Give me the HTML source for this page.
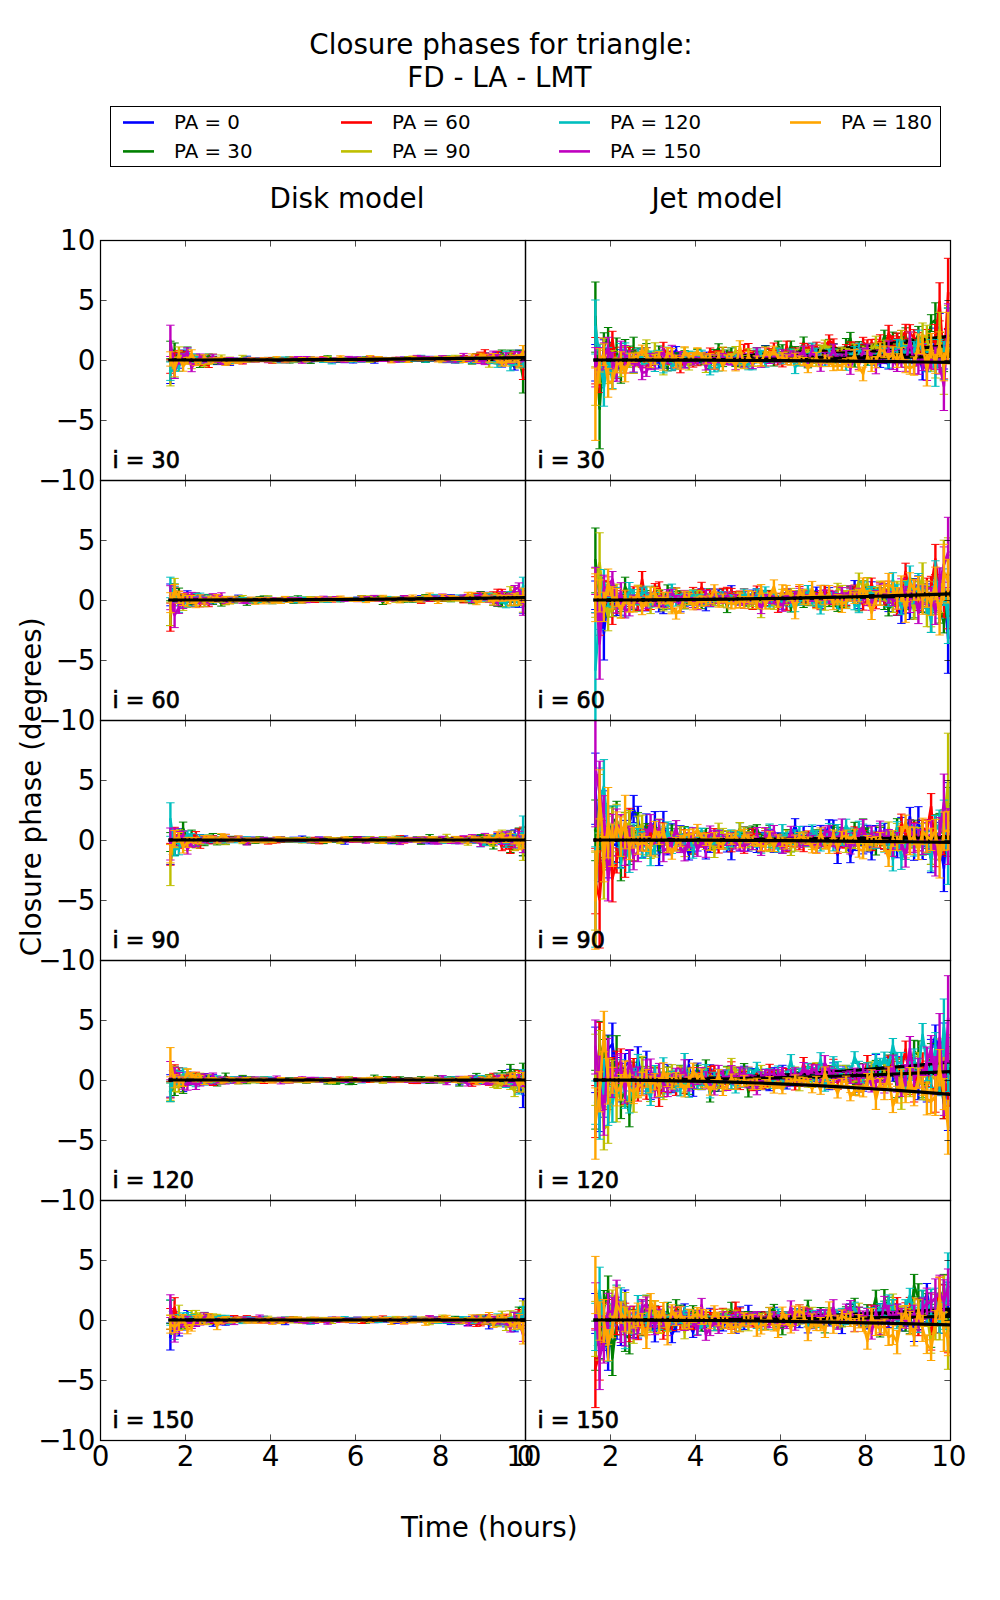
<!DOCTYPE html><html><head><meta charset="utf-8"><title>Closure phases</title><style>html,body{margin:0;padding:0;background:#fff;overflow:hidden}svg{display:block}</style></head><body>
<svg width="1000" height="1600" viewBox="0 0 1000 1600">
<rect width="1000" height="1600" fill="#fff"/>
<defs>
<marker id="c0" markerUnits="userSpaceOnUse" markerWidth="12" markerHeight="4" refX="6" refY="2" orient="0" overflow="visible"><path d="M1.8 2H10.2" stroke="#0000ff" stroke-width="1"/></marker>
<marker id="c1" markerUnits="userSpaceOnUse" markerWidth="12" markerHeight="4" refX="6" refY="2" orient="0" overflow="visible"><path d="M1.8 2H10.2" stroke="#008000" stroke-width="1"/></marker>
<marker id="c2" markerUnits="userSpaceOnUse" markerWidth="12" markerHeight="4" refX="6" refY="2" orient="0" overflow="visible"><path d="M1.8 2H10.2" stroke="#ff0000" stroke-width="1"/></marker>
<marker id="c3" markerUnits="userSpaceOnUse" markerWidth="12" markerHeight="4" refX="6" refY="2" orient="0" overflow="visible"><path d="M1.8 2H10.2" stroke="#bfbf00" stroke-width="1"/></marker>
<marker id="c4" markerUnits="userSpaceOnUse" markerWidth="12" markerHeight="4" refX="6" refY="2" orient="0" overflow="visible"><path d="M1.8 2H10.2" stroke="#00bfbf" stroke-width="1"/></marker>
<marker id="c5" markerUnits="userSpaceOnUse" markerWidth="12" markerHeight="4" refX="6" refY="2" orient="0" overflow="visible"><path d="M1.8 2H10.2" stroke="#bf00bf" stroke-width="1"/></marker>
<marker id="c6" markerUnits="userSpaceOnUse" markerWidth="12" markerHeight="4" refX="6" refY="2" orient="0" overflow="visible"><path d="M1.8 2H10.2" stroke="#ffa500" stroke-width="1"/></marker>
<clipPath id="k00"><rect x="100" y="240" width="425" height="240"/></clipPath>
<clipPath id="k01"><rect x="525" y="240" width="425" height="240"/></clipPath>
<clipPath id="k10"><rect x="100" y="480" width="425" height="240"/></clipPath>
<clipPath id="k11"><rect x="525" y="480" width="425" height="240"/></clipPath>
<clipPath id="k20"><rect x="100" y="720" width="425" height="240"/></clipPath>
<clipPath id="k21"><rect x="525" y="720" width="425" height="240"/></clipPath>
<clipPath id="k30"><rect x="100" y="960" width="425" height="240"/></clipPath>
<clipPath id="k31"><rect x="525" y="960" width="425" height="240"/></clipPath>
<clipPath id="k40"><rect x="100" y="1200" width="425" height="240"/></clipPath>
<clipPath id="k41"><rect x="525" y="1200" width="425" height="240"/></clipPath>
</defs>
<g clip-path="url(#k00)"><path d="M170.4 372.3l4.2-12.2 4.3 2.3 4.2-7.9 4.3 3 4.2 2.6 4.3-2.7 4.2 3.5 4.3-3.5 4.2 2.6 4.3-1.4 4.2 4 4.3-3.2 4.2 3.5 4.3 0.7 4.2-3.2 4.3 0.8 4.2-1.4 4.3-2.3 4.2 3.3 4.3-0.1 4.2-1 4.3-0.4 4.2 0.8 4.3 0 4.2-0.8 4.3 0 4.2 1.8 4.3-1.1 4.2-0.2 4.3 1.2 4.2-1.4 4.3 1.1 4.2-2.1 4.3 1 4.2 0.1 4.3 0.8 4.2-0.6 4.3 2 4.2-0.9 4.3-1.7 4.2 2.4 4.3-2.9 4.2 3.2 4.3-3 4.2 1.7 4.3-1.9 4.2 0.7 4.3 2.3 4.2-3.8 4.3 0.2 4.2 1.4 4.3 0.3 4.2-0.2 4.3 1 4.2-2.5 4.3 2 4.2-0.7 4.3 0.8 4.2-0.1 4.3 0.7 4.2-3.2 4.3 1.8 4.2-1.4 4.3 1.2 4.2 1.1 4.3-0.6 4.2 0.2 4.3-0.8 4.2 0.7 4.3-0.3 4.2 1.9 4.3-0.8 4.2-5.6 4.3 5.6 4.2 0.7 4.3-3.2 4.2-3.1 4.3 9.3 4.2-4.8 4.3 1.7 4.2 5.9 4.3-12.2 4.2 4" fill="none" stroke="#0000ff" stroke-width="2.6" stroke-linejoin="round" stroke-linecap="square"/><path d="M170.4 361.1v22.4m4.2-30.1v13.4m4.3-10.2v11.6m4.2-18.1v8.7m4.3-5v7.4m4.2-4.3v6.4m4.3-9.1v6.4m4.2-3.1v6.8m4.3-9.2v4.6m4.2-2.4v5.4m4.3-6.4v4.6m4.2-0.2v3.9m4.3-6.8v3.2m4.2 0v3.9m4.3-3v3.5m4.2-6.3v2.6m4.3-1.9v2.9m4.2-4.3v2.7m4.3-4.9v2.6m4.2 0.9v2.3m4.3-2.4v2.3m4.2-3.1v1.8m4.3-2.8v3m4.2-2.1v2.9m4.3-2.6v2.3m4.2-3v1.9m4.3-2.1v2.4m4.2-0.7v2.6m4.3-3.8v2.7m4.2-2.4v1.8m4.3-1.1v2.7m4.2-3.5v1.6m4.3-0.9v2.3m4.2-4.6v2.7m4.3-1.4v2.3m4.2-2.6v3m4.3-2.2v3m4.2-3v1.8m4.3 0.3v1.7m4.2-3.1v2.6m4.3-3.9v1.9m4.2 0.5v1.9m4.3-5.2v2.5m4.2 0.9v2.1m4.3-4.7v1.3m4.2-0.2v2.6m4.3-4.4v2.3m4.2-1.4v2m4.3-0.1v2.8m4.2-6.2v2.1m4.3-1.7v1.5m4.2-0.4v2.3m4.3-2v2.1m4.2-2.1v1.8m4.3-1.2v2.7m4.2-5.1v2.4m4.3-0.6v2.7m4.2-3.2v2.5m4.3-1.5v2m4.2-2.2v2.2m4.3-1.4v2.1m4.2-5.7v2.8m4.3-0.6v2m4.2-3.7v2.6m4.3-1.6v2.9m4.2-2.5v4.4m4.3-4.2v2.8m4.2-2.7v3m4.3-3.7v2.8m4.2-2.5v3.6m4.3-3.2v2.2m4.2-0.8v3.3m4.3-4.7v4.3m4.2-10.1v4.8m4.3 0.7v4.9m4.2-3.8v4.3m4.3-8.4v5.9m4.2-8.7v5.5m4.3 3.8v5.4m4.2-10.5v6m4.3-4.1v5.6m4.2 0.2v5.8m4.3-20v9.7m4.2-8.5v15.4" stroke="#0000ff" stroke-width="2.4" fill="none" marker-start="url(#c0)" marker-mid="url(#c0)" marker-end="url(#c0)"/><path d="M170.4 360l27.2 0 27.1 0 27.2-0.1 27.2 0 27.2-0.1 27.2-0.1 27.1 0 27.2-0.2 27.2-0.1 27.2-0.1 27.2-0.2 27.1-0.1 27.2-0.2" fill="none" stroke="#000" stroke-width="3.2" stroke-linecap="square"/><path d="M170.4 350l4.2 1 4.3 7.2 4.2-1 4.3-5.6 4.2 9.1 4.3 1.3 4.2 2.4 4.3-4.5 4.2-3.6 4.3 1.8 4.2 3.9 4.3-0.5 4.2-0.5 4.3-1.5 4.2 0.8 4.3-0.7 4.2 0 4.3 0.8 4.2-0.4 4.3-0.4 4.2 0.4 4.3-0.8 4.2-1 4.3 0.9 4.2 0.7 4.3 2 4.2-2.4 4.3 2.6 4.2-0.6 4.3-2.7 4.2 0.2 4.3 1 4.2 2.1 4.3-1.9 4.2 0.3 4.3-1.3 4.2-2.3 4.3 2.6 4.2 1.2 4.3 0.4 4.2-1.4 4.3 0.1 4.2 1.1 4.3-1.4 4.2 1.4 4.3-2.8 4.2 0.1 4.3 0.1 4.2 1.7 4.3-1.1 4.2 0.7 4.3 0.3 4.2-0.1 4.3 1 4.2 0 4.3-2.5 4.2 1.2 4.3-0.5 4.2-1 4.3 3.3 4.2-1.1 4.3-1.3 4.2-0.3 4.3 0.9 4.2-2.1 4.3 1.3 4.2 2.3 4.3-0.3 4.2-3.1 4.3 0.5 4.2 4.3 4.3-6.3 4.2 1.5 4.3-2.1 4.2 4.3 4.3-0.5 4.2 2.4 4.3-8.9 4.2 6.3 4.3-6 4.2 7.9 4.3-3.7 4.2 20.2" fill="none" stroke="#008000" stroke-width="2.6" stroke-linejoin="round" stroke-linecap="square"/><path d="M170.4 341.2v17.5m4.2-15.7v16m4.3-6.6v11.6m4.2-12.8v12m4.3-16.2v9.1m4.2 1.4v6.4m4.3-5v6.2m4.2-3.7v6.1m4.3-10.5v5.7m4.2-8.7v4.6m4.3-2.2v3.4m4.2 0.1v4.2m4.3-4.1v3m4.2-3.7v3.3m4.3-4.5v2.9m4.2-2.5v3.5m4.3-3.6v2.4m4.2-2.5v2.5m4.3-1.9v3.1m4.2-3.4v2.7m4.3-3.1v2.8m4.2-2.3v2.6m4.3-3.7v3.2m4.2-3.4v1.6m4.3-1.2v2.6m4.2-1.8v2.3m4.3-0.1v2.1m4.2-4.6v2.2m4.3 0.4v2.1m4.2-2.9v2.5m4.3-5.2v2.5m4.2-2v2m4.3-1.1v2.2m4.2-0.3v2.7m4.3-4.5v2.4m4.2-1.8v1.8m4.3-3.1v1.8m4.2-4.2v2.1m4.3 0.1v2.7m4.2-1.2v2.1m4.3-1.5v1.8m4.2-3.4v2.2m4.3-2.3v2.7m4.2-1.2v1.7m4.3-3.2v1.9m4.2-0.5v2m4.3-5v2.3m4.2-2.2v2.5m4.3-2.2v2m4.2-0.3v1.9m4.3-3.1v2.3m4.2-1.7v2.5m4.3-2.3v2.6m4.2-2.4v2m4.3-0.9v1.9m4.2-1.8v1.6m4.3-4.8v3.1m4.2-1.7v2.6m4.3-3v2.4m4.2-3.4v2.4m4.3 0.9v2.5m4.2-3.8v2.7m4.3-4.1v3m4.2-3v2.3m4.3-1.2v2m4.2-4.5v2.7m4.3-1.1v2.2m4.2-0.7v3.7m4.3-4.3v4.4m4.2-6.7v2.8m4.3-2.3v2.7m4.2 1.2v3.6m4.3-10.5v4.8m4.2-2.1v2.4m4.3-5.8v5.1m4.2-0.9v5.2m4.3-6v5.9m4.2-3v4.7m4.3-13.9v5.3m4.2 0.8v5.8m4.3-11.8v5.8m4.2 0.1v9.8m4.3-15.6v14.1m4.2-2.6v31.3" stroke="#008000" stroke-width="2.4" fill="none" marker-start="url(#c1)" marker-mid="url(#c1)" marker-end="url(#c1)"/><path d="M170.4 360l27.2 0 27.1 0 27.2-0.1 27.2-0.1 27.2-0.1 27.2-0.1 27.1-0.1 27.2-0.2 27.2-0.2 27.2-0.2 27.2-0.2 27.1-0.2 27.2-0.3" fill="none" stroke="#000" stroke-width="3.2" stroke-linecap="square"/><path d="M170.4 366.5l4.2-6.1 4.3-4.7 4.2 1.5 4.3-1.6 4.2 3.1 4.3 2.3 4.2-2 4.3 4 4.2 1.7 4.3-5.9 4.2 1.3 4.3-0.7 4.2 3.2 4.3-2.1 4.2 0.3 4.3 0.2 4.2 1.9 4.3-2.6 4.2-1.6 4.3 0.7 4.2 1.1 4.3-0.7 4.2-0.8 4.3 2.9 4.2-2 4.3-0.7 4.2-0.1 4.3-1.1 4.2 0.7 4.3 0.7 4.2 0 4.3-0.4 4.2 1.2 4.3-0.6 4.2-0.9 4.3-1 4.2 2 4.3-0.2 4.2-0.2 4.3-1.1 4.2 1.3 4.3-1.4 4.2 2.3 4.3-0.9 4.2 0 4.3-1 4.2-0.4 4.3 2.4 4.2-0.3 4.3-1.4 4.2 1 4.3 0.9 4.2-2.7 4.3 0.5 4.2-0.1 4.3 1.1 4.2-1.8 4.3 1.4 4.2-1.6 4.3 2.5 4.2-0.1 4.3-1.5 4.2 1 4.3-1.8 4.2 0.6 4.3 1.2 4.2-1.1 4.3 0.5 4.2-1.7 4.3 2.2 4.2-0.1 4.3-3.1 4.2-2.2 4.3-1 4.2 5 4.3-0.4 4.2-3.6 4.3 4.3 4.2 2.7 4.3-3.6 4.2-1.7 4.3 6.5 4.2 7.3" fill="none" stroke="#ff0000" stroke-width="2.6" stroke-linejoin="round" stroke-linecap="square"/><path d="M170.4 359.7v13.6m4.2-20.9v16m4.3-18v10.6m4.2-8.6v9.5m4.3-10.6v8.5m4.2-4.6v7m4.3-4.3v6.1m4.2-8.1v6.1m4.3-1.6v5.2m4.2-3.6v5.5m4.3-10.5v3.5m4.2-2.5v4.1m4.3-4.5v3.6m4.2 0v2.7m4.3-4.8v2.7m4.2-2.4v2.8m4.3-2.6v2.7m4.2-0.5v2.2m4.3-4.8v2.2m4.2-3.9v2.4m4.3-2.2v3.4m4.2-1.8v2.4m4.3-2.8v1.9m4.2-3v2.4m4.3 0.4v2.7m4.2-4.4v2.1m4.3-2.8v2m4.2-2.1v2.1m4.3-3.4v2.3m4.2-1.3v1.9m4.3-1.2v1.8m4.2-2.2v2.6m4.3-2.7v2m4.2-0.9v2.2m4.3-2.8v2.3m4.2-2.8v1.4m4.3-2.7v2m4.2 0.1v1.8m4.3-2v1.9m4.2-2.3v2.2m4.3-3.1v1.8m4.2-0.4v1.5m4.3-3v1.8m4.2 0.4v1.9m4.3-2.7v1.9m4.2-1.9v1.8m4.3-2.8v1.8m4.2-2.1v1.6m4.3 0.6v2m4.2-2.5v2.3m4.3-3.8v2.5m4.2-1.6v2.9m4.3-1.7v2.2m4.2-4.5v1.5m4.3-1.2v1.8m4.2-2v2m4.3-1v2.1m4.2-3.9v2.3m4.3-0.5v1.4m4.2-3.6v2.5m4.3 0.2v2.2m4.2-2.6v2.8m4.3-4.1v2.5m4.2-1.3v2m4.3-4.2v2.8m4.2-2v2.4m4.3-0.9v1.9m4.2-3.2v2.3m4.3-1.9v2.5m4.2-4.7v3.5m4.3-1.7v4.1m4.2-4.6v4.9m4.3-7.5v3.9m4.2-5.9v3.6m4.3-6v6.4m4.2-0.9v5.4m4.3-5.5v4.8m4.2-8.5v5m4.3-0.8v5.2m4.2-2.8v5.8m4.3-10.4v7.9m4.2-9.6v7.9m4.3-2.5v10m4.2-7.8v20.2" stroke="#ff0000" stroke-width="2.4" fill="none" marker-start="url(#c2)" marker-mid="url(#c2)" marker-end="url(#c2)"/><path d="M170.4 360l27.2 0 27.1-0.1 27.2 0 27.2-0.1 27.2-0.2 27.2-0.1 27.1-0.2 27.2-0.2 27.2-0.2 27.2-0.3 27.2-0.3 27.1-0.3 27.2-0.4" fill="none" stroke="#000" stroke-width="3.2" stroke-linecap="square"/><path d="M170.4 373.5l4.2-9.7 4.3-9.1 4.2 2.9 4.3 2.7 4.2 3.4 4.3-5.9 4.2 3.9 4.3 2 4.2-1.9 4.3-5 4.2 2.8 4.3-2.2 4.2 3.2 4.3-2.1 4.2 2.3 4.3-0.6 4.2-3.5 4.3 2 4.2 1.8 4.3-0.4 4.2-0.6 4.3-1 4.2 2 4.3 1.2 4.2-1.6 4.3-0.2 4.2-0.1 4.3-1.3 4.2 1 4.3-0.6 4.2 2.4 4.3-2.4 4.2-1 4.3 1.1 4.2 0.5 4.3 0.1 4.2-1.9 4.3 3 4.2-0.9 4.3-0.6 4.2-0.3 4.3 1.3 4.2-0.9 4.3 0.7 4.2-0.5 4.3 0.3 4.2 1.2 4.3-1.4 4.2-1 4.3 1.9 4.2-0.7 4.3-1 4.2 2 4.3-1.5 4.2 1.7 4.3-2.9 4.2-0.8 4.3 0.1 4.2 2.3 4.3-1.2 4.2 0.7 4.3 0 4.2-1.8 4.3 3.9 4.2-3.4 4.3 1.4 4.2-2.5 4.3 2 4.2 1.4 4.3-1.5 4.2-0.8 4.3 1.1 4.2-0.8 4.3 1.9 4.2 3.9 4.3-7.1 4.2 0.3 4.3 1.3 4.2 0.2 4.3-3.2 4.2 5.3 4.3 1.9 4.2-2.7" fill="none" stroke="#bfbf00" stroke-width="2.6" stroke-linejoin="round" stroke-linecap="square"/><path d="M170.4 361.1v24.8m4.2-28.8v13.4m4.3-23.6v15.7m4.2-9v7.9m4.3-4.7v7.1m4.2-5.2v10m4.3-14.2v6.7m4.2-1.9v4.9m4.3-3.5v6.1m4.2-7.6v5.1m4.3-10.2v5.3m4.2-1.6v3.5m4.3-6.3v4.8m4.2-0.7v3.1m4.3-5.1v2.8m4.2-0.6v3.1m4.3-3.8v3.2m4.2-6.5v2.8m4.3-0.9v3m4.2-0.8v2.2m4.3-3v2.9m4.2-3.1v2.2m4.3-3.1v2.1m4.2-0.6v3.1m4.3-1.4v2.1m4.2-3.7v2.1m4.3-2.7v2.7m4.2-2.5v2.1m4.3-3.8v3m4.2-1.6v2.1m4.3-2.9v2.6m4.2-0.2v2.6m4.3-5.1v2.8m4.2-3.6v2.4m4.3-0.8v1.5m4.2-1.1v1.7m4.3-1.8v2.1m4.2-4.3v2.6m4.3 0.6v2.2m4.2-2.8v1.7m4.3-2.8v2.6m4.2-2.8v2.4m4.3-1v2.2m4.2-3.3v2.6m4.3-1.4v1.6m4.2-2.5v2.4m4.3-2v2.2m4.2-1.3v2.7m4.3-3.8v2.3m4.2-3.3v2.1m4.3-0.1v2m4.2-2.7v2m4.3-3v2m4.2 0v1.9m4.3-3.4v2m4.2-0.8v3m4.3-5.8v2.8m4.2-3.3v2.1m4.3-2.1v2.4m4.2-0.1v2.4m4.3-3.7v2.5m4.2-1.8v2.6m4.3-2.9v3.2m4.2-4.6v2.4m4.3 1.2v2.9m4.2-6.1v2.6m4.3-1.4v3m4.2-5.5v3m4.3-2v5m4.2-2.5v2.8m4.3-4.7v3.6m4.2-4.1v3m4.3-2.6v4.5m4.2-5v3.8m4.3-1.9v3.9m4.2-1.3v6.4m4.3-12.7v4.9m4.2-5.4v6.5m4.3-5.4v6.8m4.2-5.6v4.9m4.3-8.8v6.2m4.2-2.4v9.2m4.3-8.2v10.9m4.2-14.4v12.6" stroke="#bfbf00" stroke-width="2.4" fill="none" marker-start="url(#c3)" marker-mid="url(#c3)" marker-end="url(#c3)"/><path d="M170.4 360l27.2 0 27.1 0 27.2-0.1 27.2 0 27.2-0.1 27.2-0.1 27.1 0 27.2-0.2 27.2-0.1 27.2-0.1 27.2-0.2 27.1-0.1 27.2-0.2" fill="none" stroke="#000" stroke-width="3.2" stroke-linecap="square"/><path d="M170.4 371.2l4.2-1.3 4.3-3.2 4.2-8.3 4.3-6.6 4.2 5.5 4.3 2 4.2 1.3 4.3 0.6 4.2-0.8 4.3 0.6 4.2-2.2 4.3 1.8 4.2 0.3 4.3 0.8 4.2-1.6 4.3 1 4.2-0.9 4.3-1.6 4.2 0.9 4.3-0.2 4.2 0.1 4.3 0.5 4.2 0.2 4.3 0.2 4.2-1.3 4.3 2.1 4.2-2.8 4.3 1.6 4.2 1 4.3-0.6 4.2 0.3 4.3-0.9 4.2 0.9 4.3-1.8 4.2 1.9 4.3 1.1 4.2-1.1 4.3 2 4.2-2.8 4.3-1 4.2 0.3 4.3 2 4.2-0.4 4.3-2.7 4.2 1.4 4.3 0.3 4.2-1.3 4.3-0.9 4.2 1 4.3 1.1 4.2-0.3 4.3-0.2 4.2 1.3 4.3 0.4 4.2-1.2 4.3 1.4 4.2-1.3 4.3-0.2 4.2-2.7 4.3 4 4.2-1.1 4.3 0.1 4.2-0.8 4.3-0.6 4.2 2 4.3 0 4.2 1.3 4.3-0.8 4.2-2.3 4.3 0.8 4.2 2 4.3-1.2 4.2-0.8 4.3-0.8 4.2 2.2 4.3-0.8 4.2 4.5 4.3-1.5 4.2-8.6 4.3 12.5 4.2-5.9 4.3-2.9 4.2 3.4" fill="none" stroke="#00bfbf" stroke-width="2.6" stroke-linejoin="round" stroke-linecap="square"/><path d="M170.4 362v18.4m4.2-18.6v16.2m4.3-15.9v9.3m4.2-18.1v10.3m4.3-14.7v5.9m4.2-0.8v6.7m4.3-4.2v5.6m4.2-4.3v5.6m4.3-4.5v4.6m4.2-5.2v4.2m4.3-3.6v4.3m4.2-5.8v2.9m4.3-1.6v3.8m4.2-4.1v5m4.3-3.4v3.4m4.2-5.4v4.1m4.3-2.2v2.4m4.2-3.5v2.8m4.3-4.4v2.9m4.2-1.7v2.1m4.3-2.6v2.8m4.2-2.7v2.8m4.3-2.1v2.3m4.2-1.8v1.8m4.3-1.6v1.8m4.2-3.4v2.4m4.3-0.3v2.5m4.2-5.5v2.8m4.3-0.9v2.2m4.2-1.4v2.7m4.3-2.7v1.5m4.2-1.6v2.2m4.3-3.1v2.3m4.2-1.4v2.3m4.3-4.3v2.6m4.2-0.4v2m4.3-0.6v1.4m4.2-2.8v1.9m4.3 0v2.3m4.2-5v2m4.3-3.2v2.3m4.2-1.8v2m4.3 0.2v1.6m4.2-2.6v2.7m4.3-5.2v2.4m4.2-0.7v1.8m4.3-1.7v2.2m4.2-3.5v2.3m4.3-3.2v2.2m4.2-1.2v2.1m4.3-1v2.1m4.2-2.5v2.4m4.3-2.4v2.1m4.2-1.3v3m4.3-2.3v2.3m4.2-3.3v1.9m4.3-0.9v2.8m4.2-4.1v2.8m4.3-2.6v2m4.2-5.3v3.1m4.3 1.2v2.6m4.2-3.4v2m4.3-2.4v2.9m4.2-3.7v2.9m4.3-3.2v2.3m4.2-1.1v3.9m4.3-3.2v2.6m4.2-1.4v2.8m4.3-3.2v2.1m4.2-4.8v2.9m4.3-2.3v3.2m4.2-1.2v3.2m4.3-4.8v3.9m4.2-5.5v5.6m4.3-5.2v3.1m4.2-1.3v4m4.3-6v6.4m4.2-1.3v5.3m4.3-6.8v5.2m4.2-14.4v6.4m4.3 5.5v7.6m4.2-14.1v8.8m4.3-13.5v12.4m4.2-8.3v11" stroke="#00bfbf" stroke-width="2.4" fill="none" marker-start="url(#c4)" marker-mid="url(#c4)" marker-end="url(#c4)"/><path d="M170.4 360l27.2 0 27.1 0 27.2 0 27.2-0.1 27.2 0 27.2 0 27.1-0.1 27.2 0 27.2-0.1 27.2-0.1 27.2 0 27.1-0.1 27.2-0.1" fill="none" stroke="#000" stroke-width="3.2" stroke-linecap="square"/><path d="M170.4 340.9l4.2 30 4.3-11.9 4.2-1.1 4.3-6.2 4.2 15.9 4.3-5.6 4.2-5.1 4.3 3.6 4.2 0.2 4.3-4.6 4.2 4.6 4.3 1.7 4.2-0.2 4.3-2.7 4.2 0 4.3 2.5 4.2-0.7 4.3-2.2 4.2 0.1 4.3 1.6 4.2-1.8 4.3 0.2 4.2 2.3 4.3-1.4 4.2-0.6 4.3 1.1 4.2 1.2 4.3-1.7 4.2-1.1 4.3-1.2 4.2 4.3 4.3-4.4 4.2 3.1 4.3-2.1 4.2-0.3 4.3 0.4 4.2 0.7 4.3 1.5 4.2-1.9 4.3 1.2 4.2 1.1 4.3-4 4.2 1.3 4.3-1 4.2 2.8 4.3-2.3 4.2-0.6 4.3 0.3 4.2 1.5 4.3 1.2 4.2-1.1 4.3 1.8 4.2-0.2 4.3-2 4.2 1.2 4.3-0.9 4.2-0.1 4.3-2.7 4.2 0.7 4.3 1.8 4.2-1.5 4.3 2.2 4.2-0.4 4.3-2.1 4.2 3.4 4.3-1.4 4.2 1.6 4.3-2.3 4.2-2.8 4.3 4 4.2-1.5 4.3 2.1 4.2 0.7 4.3 0.2 4.2-6.2 4.3-1.3 4.2 3.5 4.3 3.3 4.2-4.4 4.3 3.2 4.2-4.1 4.3 1.5 4.2 0" fill="none" stroke="#bf00bf" stroke-width="2.6" stroke-linejoin="round" stroke-linecap="square"/><path d="M170.4 325.2v31.3m4.2 6.7v15.3m4.3-24.7v10.4m4.2-10.2v7.9m4.3-14.1v7.8m4.2 7.9v8.2m4.3-12.6v5.8m4.2-10.9v5.8m4.3-1.8v5.1m4.2-4.8v4.9m4.3-9v3.7m4.2 0.9v3.8m4.3-2v3.6m4.2-3.9v3.8m4.3-6.5v3.7m4.2-3.3v3.1m4.3-0.5v2.7m4.2-3.7v3.5m4.3-5.2v2.4m4.2-2.7v3.2m4.3-1.3v2.5m4.2-3.9v1.8m4.3-2.4v3.4m4.2-0.6v2.4m4.3-3.4v1.6m4.2-2.3v1.8m4.3-1.1v2.5m4.2-1v1.9m4.3-3.5v1.9m4.2-3.1v1.9m4.3-3.4v2.6m4.2 1.9v2.3m4.3-6.8v2.3m4.2 1v2m4.3-4.5v2.9m4.2-2.7v1.8m4.3-1.5v1.9m4.2-0.9v1.4m4.3-0.2v2m4.2-3.9v2m4.3-0.7v1.8m4.2-0.7v1.9m4.3-6v2m4.2-0.6v1.9m4.3-2.9v1.8m4.2 0.9v2m4.3-4v1.5m4.2-2.7v2.6m4.3-2v2.1m4.2-0.6v2m4.3-0.7v1.8m4.2-2.8v1.5m4.3 0.2v1.8m4.2-2.4v2.6m4.3-5.2v3.8m4.2-1.9v2.5m4.3-3.3v2.2m4.2-2.1v1.8m4.3-4.8v2.3m4.2-1.7v2.5m4.3-0.4v2m4.2-3.5v2.1m4.3 0.1v1.9m4.2-2.8v3.1m4.3-5.3v3.3m4.2 0.3v2.8m4.3-4.1v2.7m4.2-1.8v3.9m4.3-5.6v2.9m4.2-6.7v4.8m4.3 0v3.2m4.2-5.2v4.2m4.3-1.9v3.7m4.2-3.5v4.9m4.3-5.6v6.6m4.2-11.5v4m4.3-6v5.4m4.2-2.1v5.9m4.3-2.9v6.4m4.2-11v6.9m4.3-4.2v7.9m4.2-11.6v6.9m4.3-7.1v10.5m4.2-9.7v8.8" stroke="#bf00bf" stroke-width="2.4" fill="none" marker-start="url(#c5)" marker-mid="url(#c5)" marker-end="url(#c5)"/><path d="M170.4 360l27.2 0 27.1 0 27.2-0.1 27.2-0.1 27.2-0.1 27.2-0.1 27.1-0.1 27.2-0.2 27.2-0.2 27.2-0.2 27.2-0.2 27.1-0.2 27.2-0.3" fill="none" stroke="#000" stroke-width="3.2" stroke-linecap="square"/><path d="M170.4 359l4.2 9.8 4.3-12.8 4.2 10.5 4.3-5.7 4.2-7.1 4.3 8.9 4.2-1 4.3-4.3 4.2 3.6 4.3-0.2 4.2-1.2 4.3-1.1 4.2 5.4 4.3-1.9 4.2-0.8 4.3 0.6 4.2-0.6 4.3-0.1 4.2-1.6 4.3 1.4 4.2-1.1 4.3-0.4 4.2 1.3 4.3-0.9 4.2-1.8 4.3 1.5 4.2 1.2 4.3-0.8 4.2 1 4.3-1.4 4.2-0.7 4.3 1.8 4.2-0.7 4.3-1.4 4.2 1.6 4.3-0.6 4.2 1.4 4.3-0.6 4.2-0.3 4.3-3 4.2 2.9 4.3 0.2 4.2 0 4.3-0.5 4.2-0.9 4.3 0.4 4.2-2.2 4.3 2.2 4.2-1.3 4.3 1.2 4.2-0.4 4.3 2.5 4.2-1.8 4.3-0.1 4.2 0.1 4.3 2.3 4.2-3.7 4.3 1.5 4.2 0 4.3-0.2 4.2-0.2 4.3-0.7 4.2 2.2 4.3-0.7 4.2-1.6 4.3 0.2 4.2 0.7 4.3 0.3 4.2 0.8 4.3-1.7 4.2-2.1 4.3 4.1 4.2-5.4 4.3 1.5 4.2 2.6 4.3-3 4.2 5 4.3 1.9 4.2-0.9 4.3-2.8 4.2-0.4 4.3 1.4 4.2-9.3" fill="none" stroke="#ffa500" stroke-width="2.6" stroke-linejoin="round" stroke-linecap="square"/><path d="M170.4 351.8v14.3m4.2-5.4v16.1m4.3-25.7v9.9m4.2 0.8v9.4m4.3-13.7v6.6m4.2-14.3v7.9m4.3 1.9v6.1m4.2-6.8v5.4m4.3-9.5v4.9m4.2-1.3v5m4.3-5.2v4.9m4.2-5.4v3.6m4.3-4.2v2.6m4.2 2.5v3.2m4.3-6v4.9m4.2-4v1.7m4.3-2.2v3.8m4.2-3.8v2.6m4.3-2.5v2.2m4.2-4.2v3.1m4.3-1.4v2.4m4.2-3.6v2.6m4.3-3.3v3.2m4.2-1.4v2.3m4.3-3.4v2.5m4.2-4.3v2.7m4.3-0.9v2m4.2-1.4v3.2m4.3-3.4v2m4.2-1.2v2.4m4.3-3.3v1.5m4.2-2.6v2.2m4.3-0.4v2.2m4.2-2.4v1.2m4.3-3.1v2.3m4.2-0.5v1.9m4.3-2.6v2m4.2-0.5v1.8m4.3-2.3v1.7m4.2-2.1v1.9m4.3-5.1v2.2m4.2 0.8v2.1m4.3-1.7v1.7m4.2-2.1v2.3m4.3-2.4v1.6m4.2-2.8v2.3m4.3-1.7v1.9m4.2-4.4v2.5m4.3-0.1v2m4.2-3.5v2.3m4.3-0.9v1.9m4.2-2.2v1.8m4.3-0.3v3.8m4.2-4.7v1.9m4.3-1.9v1.7m4.2-1.7v2m4.3 0.2v2.1m4.2-6.2v3m4.3-1.5v2.9m4.2-2.4v1.9m4.3-2.1v1.9m4.2-2.2v2.3m4.3-3.1v2.5m4.2-0.7v3.2m4.3-3.7v2.9m4.2-4.3v2.5m4.3-2.7v3.1m4.2-2v2.5m4.3-2.3v2.5m4.2-2.8v4.8m4.3-5.7v3.3m4.2-6.2v4.7m4.3-0.3v4.1m4.2-9.3v3.8m4.3-2.6v4.4m4.2-2.6v6.1m4.3-8.7v5.2m4.2 0.6v3.6m4.3-3v6.2m4.2-8.1v8.1m4.3-10.2v6.8m4.2-7v6.4m4.3-7.7v11.7m4.2-20.5v10.8" stroke="#ffa500" stroke-width="2.4" fill="none" marker-start="url(#c6)" marker-mid="url(#c6)" marker-end="url(#c6)"/><path d="M170.4 360l27.2 0 27.1-0.1 27.2 0 27.2-0.1 27.2-0.2 27.2-0.1 27.1-0.2 27.2-0.2 27.2-0.2 27.2-0.3 27.2-0.3 27.1-0.3 27.2-0.4" fill="none" stroke="#000" stroke-width="3.2" stroke-linecap="square"/></g>
<g clip-path="url(#k10)"><path d="M170.4 594.9l4.2 2.3 4.3 1.4 4.2 0.3 4.3-3.6 4.2 6.7 4.3-6.6 4.2 4.9 4.3-3.1 4.2 3 4.3 0.3 4.2-4.2 4.3 4.1 4.2 1.9 4.3-1.4 4.2-0.6 4.3-3.6 4.2 3 4.3-0.9 4.2 2.1 4.3-1.4 4.2-0.3 4.3-1.3 4.2 2.7 4.3-1.3 4.2 0.1 4.3 1.3 4.2-0.9 4.3 0.2 4.2 1.8 4.3-2.6 4.2-0.2 4.3 1 4.2 1 4.3-2.9 4.2 1.2 4.3-0.7 4.2-0.6 4.3 2 4.2-1.4 4.3 1.1 4.2-0.2 4.3 0 4.2-0.1 4.3-1.2 4.2 0.9 4.3 0.3 4.2 0.1 4.3-0.7 4.2 1.1 4.3-0.2 4.2-0.5 4.3 0.4 4.2-0.5 4.3 0.5 4.2-2.7 4.3 0.8 4.2 0.7 4.3 0.5 4.2-2.3 4.3 1.8 4.2 0.4 4.3-0.5 4.2 0 4.3-1.6 4.2 1.9 4.3-2.7 4.2 3.6 4.3-2 4.2 2.5 4.3-4.3 4.2 3.1 4.3-0.5 4.2-2.2 4.3-1.1 4.2 5.5 4.3-1.7 4.2 3.4 4.3-4.7 4.2 0.7 4.3 0.9 4.2 2.1 4.3-1.3 4.2 6.3" fill="none" stroke="#0000ff" stroke-width="2.6" stroke-linejoin="round" stroke-linecap="square"/><path d="M170.4 584v21.8m4.2-17.3v17.4m4.3-11.9v9.2m4.2-9.2v9.7m4.3-12.9v9m4.2-2v8.4m4.3-13.1v4.6m4.2-0.3v5.8m4.3-8.4v4.8m4.2-2.1v5.4m4.3-4.7v4.7m4.2-8.3v3.5m4.3 0.7v3.3m4.2-1.6v3.5m4.3-4.2v2.2m4.2-2.9v2.4m4.3-6.4v3.2m4.2 0.2v2.3m4.3-3.4v2.8m4.2-0.5v2.4m4.3-3.4v1.7m4.2-2.1v1.8m4.3-3.5v2.7m4.2-0.1v2.8m4.3-3.4v1.4m4.2-1.5v1.9m4.3-0.5v1.6m4.2-2.6v1.7m4.3-1.4v1.7m4.2-0.1v2m4.3-4.3v1.4m4.2-1.9v2m4.3-1v2.1m4.2-1v1.8m4.3-4.8v2m4.2-1.1v2.5m4.3-2.9v2.1m4.2-2.8v2.1m4.3 0.1v1.8m4.2-3.3v2m4.3-1.1v2.3m4.2-2.3v2m4.3-2v2m4.2-2.1v2m4.3-3.3v2.2m4.2-1.5v2.7m4.3-2.4v2.7m4.2-2.4v2.2m4.3-2.8v2m4.2-0.7v1.7m4.3-2v1.9m4.2-2.7v2.4m4.3-1.8v2m4.2-2.9v2.9m4.3-2v2.1m4.2-4.6v1.5m4.3-0.8v1.7m4.2-1.3v2.3m4.3-1.3v1.4m4.2-4v1.9m4.3-0.1v2m4.2-1.8v2.4m4.3-2.9v2.4m4.2-2.1v1.8m4.3-4.1v3.1m4.2-0.8v2.3m4.3-5v2.3m4.2 1.5v2m4.3-4.1v2.3m4.2-0.5v3.5m4.3-7.1v2.2m4.2 0.3v3.4m4.3-4.5v4.6m4.2-6.5v4.1m4.3-5.9v5.3m4.2 1v3.7m4.3-6.2v5.3m4.2-2.8v7.2m4.3-11.5v6.4m4.2-5.4v5.9m4.3-5.3v6.5m4.2-7.1v11.8m4.3-14.6v14.8m4.2-8.1v14" stroke="#0000ff" stroke-width="2.4" fill="none" marker-start="url(#c0)" marker-mid="url(#c0)" marker-end="url(#c0)"/><path d="M170.4 600l27.2 0 27.1-0.1 27.2 0 27.2-0.1 27.2-0.2 27.2-0.1 27.1-0.2 27.2-0.2 27.2-0.2 27.2-0.3 27.2-0.3 27.1-0.3 27.2-0.4" fill="none" stroke="#000" stroke-width="3.2" stroke-linecap="square"/><path d="M170.4 613.1l4.2-22.1 4.3 3 4.2 6.5 4.3 2.3 4.2-1.8 4.3-2.9 4.2-0.1 4.3 1.3 4.2-2 4.3 3.9 4.2-1.6 4.3 3.9 4.2-5.1 4.3 1.3 4.2 1.2 4.3-3 4.2 1 4.3 4.3 4.2-3.4 4.3 2 4.2-3.6 4.3-1.1 4.2 3.4 4.3-0.8 4.2 0.5 4.3-0.9 4.2-0.5 4.3-0.9 4.2 3.3 4.3-3.5 4.2 3.5 4.3-1.9 4.2-1.1 4.3 0.6 4.2 1.9 4.3-0.2 4.2-0.3 4.3-0.6 4.2-1.6 4.3 3 4.2-2.1 4.3-0.2 4.2-0.1 4.3 0.2 4.2-1.5 4.3 1.3 4.2-0.4 4.3 0.4 4.2-1.4 4.3 5.1 4.2-4.6 4.3 1.8 4.2-0.1 4.3 0.8 4.2 1 4.3-1.7 4.2 0.6 4.3-1.9 4.2 2.6 4.3-4.4 4.2 1.9 4.3 0.8 4.2 0.5 4.3 0.3 4.2 0.2 4.3-0.4 4.2-1.3 4.3 0.2 4.2 2.3 4.3-2.1 4.2 1.7 4.3-2.6 4.2-3.9 4.3 2.5 4.2 2.5 4.3 3.5 4.2 0.3 4.3 1 4.2-8.5 4.3 5.7 4.2-3.6 4.3 3.4 4.2-3.9" fill="none" stroke="#008000" stroke-width="2.6" stroke-linejoin="round" stroke-linecap="square"/><path d="M170.4 600.7v24.9m4.2-41.6v13.9m4.3-9.8v11.9m4.2-4.3v9.6m4.3-6.7v8.5m4.2-9.9v7.5m4.3-10.1v6.9m4.2-5.8v4.5m4.3-2.9v3.9m4.2-6.8v5.8m4.3-2.3v6.5m4.2-6.3v2.9m4.3-0.1v5.2m4.2-9.7v4.1m4.3-2.3v2.9m4.2-2.4v4.3m4.3-6.7v3.3m4.2-2v2.6m4.3 0.9v4.2m4.2-6.5v2m4.3-0.4v2.8m4.2-6.5v3.1m4.3-3.9v2.4m4.2 0.9v2.6m4.3-4v3.8m4.2-3v3.1m4.3-4v3.1m4.2-3.5v3.1m4.3-3.5v2.1m4.2 0.3v3.9m4.3-7.4v3.7m4.2-0.2v3.7m4.3-5v2.7m4.2-3.5v2m4.3-1.4v2.1m4.2-0.3v2.2m4.3-2.5v2.5m4.2-3.3v3.5m4.3-3.5v2.1m4.2-3.8v2.5m4.3 0.8v1.8m4.2-4.2v2.3m4.3-2.4v2.2m4.2-2.3v2.3m4.3-1.9v1.9m4.2-4.2v3.5m4.3-1.5v2.1m4.2-2.5v2m4.3-1.7v2.1m4.2-3.7v2.6m4.3 1.5v4.5m4.2-8v2.3m4.3-0.8v2.9m4.2-2.8v2.7m4.3-2.1v3.1m4.2-1.7v2.1m4.3-4.6v3.8m4.2-3.5v4.3m4.3-5.2v2.5m4.2-0.2v3m4.3-7.7v3.6m4.2-1.8v3.8m4.3-2.7v3.3m4.2-2.9v3.5m4.3-3.1v3.2m4.2-2.6v2.5m4.3-3.9v4.3m4.2-4.9v3.1m4.3-2.5v2.3m4.2-0.3v2.9m4.3-5.2v3.3m4.2-3.1v6.3m4.3-8.6v5.5m4.2-9.1v4.9m4.3-3v6.2m4.2-3.4v5.7m4.3-2.2v5.5m4.2-6v7.1m4.3-5.5v6m4.2-14.5v6m4.3-1.5v8.4m4.2-12.3v9m4.3-5.4v8.5m4.2-16.2v16.2" stroke="#008000" stroke-width="2.4" fill="none" marker-start="url(#c1)" marker-mid="url(#c1)" marker-end="url(#c1)"/><path d="M170.4 600l27.2 0 27.1-0.1 27.2 0 27.2-0.1 27.2-0.2 27.2-0.1 27.1-0.2 27.2-0.2 27.2-0.2 27.2-0.3 27.2-0.3 27.1-0.3 27.2-0.4" fill="none" stroke="#000" stroke-width="3.2" stroke-linecap="square"/><path d="M170.4 617.2l4.2-24.6 4.3 3.8 4.2 0.6 4.3 2.1 4.2-1.4 4.3-2.2 4.2 7.9 4.3-2.1 4.2 2.5 4.3-6.7 4.2 0.4 4.3 1.1 4.2 3.5 4.3-2.4 4.2 0.6 4.3-0.5 4.2 0.4 4.3-0.9 4.2 1.2 4.3-1.9 4.2 1 4.3 0.6 4.2-0.3 4.3 0.5 4.2-1.5 4.3 1.1 4.2-0.6 4.3 0.7 4.2 1.3 4.3-2.7 4.2 2.1 4.3-1.8 4.2 0.3 4.3 2.1 4.2-1 4.3-0.3 4.2 0.4 4.3 0.3 4.2-2.1 4.3 1 4.2-0.7 4.3 0.8 4.2-0.7 4.3 1 4.2-0.8 4.3-0.7 4.2 0.6 4.3 0.5 4.2 0.7 4.3-1.4 4.2-0.3 4.3 0.7 4.2 0.5 4.3-1.5 4.2-1.6 4.3 2.5 4.2-0.8 4.3-0.1 4.2 3.4 4.3-3.2 4.2 1.1 4.3-2.7 4.2 2.1 4.3 0.6 4.2-0.8 4.3-0.6 4.2 0.9 4.3-0.7 4.2 2.2 4.3-2 4.2-1.8 4.3-2 4.2 2 4.3 0.6 4.2-1.8 4.3-0.6 4.2-2.5 4.3 0.6 4.2 5.1 4.3-1.4 4.2 0.1 4.3-0.4 4.2-0.2" fill="none" stroke="#ff0000" stroke-width="2.6" stroke-linejoin="round" stroke-linecap="square"/><path d="M170.4 603.1v28.1m4.2-44.2v11.2m4.3-7v10.5m4.2-8.4v7.5m4.3-5.9v8.4m4.2-9v6.9m4.3-8.2v4.9m4.2 1.9v7.1m4.3-8.9v6.5m4.2-3.5v5.7m4.3-11.9v4.6m4.2-4.5v5.1m4.3-2.9v3m4.2-0.1v4.1m4.3-6.1v3.3m4.2-2.6v3.1m4.3-3.9v3.7m4.2-2.7v2.6m4.3-3.3v2.2m4.2-1.3v2.7m4.3-4.4v2.5m4.2-1.5v2.3m4.3-1.5v2.1m4.2-2.3v1.9m4.3-2v2.9m4.2-4v2.2m4.3-1v2.1m4.2-2.5v1.6m4.3-1v1.8m4.2-0.7v2.1m4.3-4.8v2.2m4.2 0v2m4.3-4v2.3m4.2-1.5v1.4m4.3 0.3v2.2m4.2-3v1.7m4.3-2.3v2.4m4.2-1.9v2.3m4.3-2.2v2.6m4.2-4.5v2.2m4.3-1.2v2.2m4.2-2.8v2.1m4.3-1.4v2.2m4.2-3v2.3m4.3-1.3v2.3m4.2-3.2v2.7m4.3-3.3v2.5m4.2-2v2.5m4.3-2v2.6m4.2-1.7v2.2m4.3-3.3v1.5m4.2-2.4v2.8m4.3-2v2.5m4.2-1.6v1.9m4.3-3.5v2m4.2-3.6v1.9m4.3-0.3v3.9m4.2-4v2.4m4.3-2.2v1.8m4.2 1v3.1m4.3-6.1v2.6m4.2-2v3.6m4.3-5.6v2.1m4.2-0.2v2.5m4.3-2v2.8m4.2-3.7v2.9m4.3-3.4v2.7m4.2-1.4v1.9m4.3-3.1v2.9m4.2-1.4v4.4m4.3-5.5v2.7m4.2-5.3v4.2m4.3-5.6v3.1m4.2-2v4.9m4.3-4.1v4.5m4.2-6v3.8m4.3-5.8v6.7m4.2-9.3v6.9m4.3-6.8v7.9m4.2-3.1v8.4m4.3-9v6.7m4.2-6.3v6.2m4.3-8.2v9.5m4.2-10.6v11.3" stroke="#ff0000" stroke-width="2.4" fill="none" marker-start="url(#c2)" marker-mid="url(#c2)" marker-end="url(#c2)"/><path d="M170.4 600l27.2 0 27.1-0.1 27.2 0 27.2-0.1 27.2-0.2 27.2-0.1 27.1-0.2 27.2-0.2 27.2-0.2 27.2-0.3 27.2-0.3 27.1-0.3 27.2-0.4" fill="none" stroke="#000" stroke-width="3.2" stroke-linecap="square"/><path d="M170.4 613.8l4.2-25.7 4.3 12.7 4.2 4.4 4.3-6.1 4.2 0.8 4.3 1.6 4.2-2.6 4.3 5 4.2-3.8 4.3-0.9 4.2 0.2 4.3-1.2 4.2 4.1 4.3 0.2 4.2-2.9 4.3-0.2 4.2-2.4 4.3 2.2 4.2 1.9 4.3-2.2 4.2 1.9 4.3 1 4.2-4.6 4.3 2.3 4.2-0.6 4.3 0.3 4.2-1.3 4.3 1.5 4.2-0.9 4.3 2.2 4.2 0.4 4.3-3.2 4.2-0.1 4.3 1.3 4.2 0.2 4.3 0.1 4.2 0.9 4.3-2.6 4.2 1.1 4.3 0 4.2 0.2 4.3-0.5 4.2 0.3 4.3-0.2 4.2 1.9 4.3-1.6 4.2-2.1 4.3 3 4.2-0.5 4.3-1.2 4.2-0.2 4.3 0.5 4.2 2.6 4.3-2.5 4.2 1.7 4.3-0.2 4.2-1.8 4.3 0.9 4.2-1.3 4.3-1.5 4.2 1.6 4.3-0.2 4.2 2 4.3-0.4 4.2 0.5 4.3-0.4 4.2 0.4 4.3-0.4 4.2-0.7 4.3 1.4 4.2 0.3 4.3 0.3 4.2-3.5 4.3 0.8 4.2-2.1 4.3-0.2 4.2 3.3 4.3-3.4 4.2 7.4 4.3-12.7 4.2 1.9 4.3 6.6 4.2 7" fill="none" stroke="#bfbf00" stroke-width="2.6" stroke-linejoin="round" stroke-linecap="square"/><path d="M170.4 602.1v23.4m4.2-47.1v19.4m4.3-1.5v9m4.2-5.3v10.4m4.3-15.3v8m4.2-6.7v6.9m4.3-6.1v8.6m4.2-9.2v4.6m4.3-0.2v5.7m4.2-8.9v4.6m4.3-4.9v3.3m4.2-3.6v4.3m4.3-4.7v2.8m4.2 0.1v5.1m4.3-3.9v3.1m4.2-6.5v4.1m4.3-3.3v2.1m4.2-4.9v3m4.3-0.3v1.9m4.2-0.1v2.2m4.3-4.5v2.4m4.2-0.5v2.3m4.3-1.2v2.1m4.2-7.1v3m4.3-0.2v1.9m4.2-2.8v2.6m4.3-2.1v2.2m4.2-3.6v2.3m4.3-0.4v1.6m4.2-2.9v2.5m4.3-0.2v2.2m4.2-1.7v2m4.3-5.3v2.1m4.2-2.1v2m4.3-0.5v1.6m4.2-2v2.8m4.3-2.3v2m4.2-1v1.8m4.3-4.5v2.1m4.2-1.4v2.7m4.3-2.7v2.7m4.2-2v1.9m4.3-2.6v2.1m4.2-2v2.5m4.3-2.4v2m4.2 0v1.8m4.3-3.1v1.2m4.2-3.7v2m4.3 0.9v2.2m4.2-2.7v2.2m4.3-3.6v2.5m4.2-2.9v2.9m4.3-2v2.2m4.2 0.2v2.6m4.3-4.7v1.8m4.2 0v1.6m4.3-2.2v2.3m4.2-3.9v2.1m4.3-1.1v1.8m4.2-3.4v2.4m4.3-3.7v2m4.2-0.4v1.9m4.3-2.4v2.6m4.2-0.5v2.5m4.3-2.7v2m4.2-1.8v2.6m4.3-3.4v3.4m4.2-2.4v2.1m4.3-2.9v3.1m4.2-4.6v4.6m4.3-2.5v3.3m4.2-3.2v3.7m4.3-3.8v4.4m4.2-8.2v5.1m4.3-3.9v4.2m4.2-7.1v5.8m4.3-5.3v4.5m4.2-2v6m4.3-9.8v6.7m4.2 0.2v7.7m4.3-20.1v7.2m4.2-6.3v9.1m4.3-4.3v12.9m4.2-5.8v12.7" stroke="#bfbf00" stroke-width="2.4" fill="none" marker-start="url(#c3)" marker-mid="url(#c3)" marker-end="url(#c3)"/><path d="M170.4 600l27.2 0 27.1-0.1 27.2 0 27.2-0.1 27.2-0.2 27.2-0.1 27.1-0.2 27.2-0.2 27.2-0.2 27.2-0.3 27.2-0.3 27.1-0.3 27.2-0.4" fill="none" stroke="#000" stroke-width="3.2" stroke-linecap="square"/><path d="M170.4 587.5l4.2 6.9 4.3 11.2 4.2-1.4 4.3-3.3 4.2-1.9 4.3-1.4 4.2-1.9 4.3 3.3 4.2-1 4.3 3 4.2-2.3 4.3 0.9 4.2 1.1 4.3-0.6 4.2-0.1 4.3-0.4 4.2-0.3 4.3 1.2 4.2 0.3 4.3-1.9 4.2 2.7 4.3-1.1 4.2-2.5 4.3 4.5 4.2-2.1 4.3-1.2 4.2 2 4.3-3.4 4.2 4 4.3-3.7 4.2 0.1 4.3 0.6 4.2 1 4.3-0.5 4.2 1.2 4.3-1.7 4.2 2.2 4.3-1.2 4.2-1.2 4.3 1.8 4.2-0.6 4.3-0.5 4.2 1.3 4.3-2.3 4.2 0.6 4.3 1.8 4.2-1.4 4.3 0.6 4.2-0.2 4.3-0.6 4.2 0.7 4.3-1.9 4.2 1.8 4.3-1.9 4.2 1.2 4.3-1 4.2 1.3 4.3 0 4.2 0.9 4.3-2.2 4.2-0.4 4.3-1.7 4.2 1.2 4.3 1.2 4.2 0.5 4.3-0.9 4.2 0.6 4.3-2.2 4.2 0.7 4.3 2.8 4.2-0.3 4.3-3.5 4.2 1.4 4.3 1.2 4.2-3.2 4.3 3.7 4.2-0.3 4.3 0.5 4.2 5.5 4.3-9.9 4.2 7.8 4.3-2.8 4.2-13.5" fill="none" stroke="#00bfbf" stroke-width="2.6" stroke-linejoin="round" stroke-linecap="square"/><path d="M170.4 577.2v20.5m4.2-11.5v16.3m4.3-3.7v13.6m4.2-11.5v6.6m4.3-11.3v9.4m4.2-9.7v6.1m4.3-8.5v8.2m4.2-8.6v5.1m4.3-1.8v5.2m4.2-6.6v6m4.3-1.9v3.8m4.2-6.1v3.8m4.3-3v4.1m4.2-2.5v3m4.3-3.8v3.3m4.2-3.6v3.8m4.3-3.6v2.6m4.2-3.3v3.4m4.3-1.8v2.5m4.2-2.3v2.7m4.3-4.6v2.8m4.2 0.5v1.7m4.3-2.9v1.7m4.2-4.9v3.1m4.3 1.7v2.6m4.2-4.1v1.5m4.3-2.8v1.6m4.2 0.4v1.6m4.3-4.8v1.3m4.2 2.6v1.4m4.3-5.2v1.7m4.2-1.9v2.1m4.3-1.3v1.8m4.2-0.8v1.9m4.3-2.4v1.8m4.2-0.8v2.1m4.3-3.3v1.3m4.2 0.2v2.6m4.3-3.5v1.9m4.2-2.8v1.4m4.3 0.3v1.6m4.2-2.4v1.9m4.3-2.2v1.5m4.2-0.2v1.5m4.3-3.9v1.7m4.2-1.7v3m4.3-0.5v1.6m4.2-2.9v1.4m4.3-1v1.7m4.2-1.9v1.9m4.3-2.7v2.1m4.2-1.1v1.6m4.3-4v2.7m4.2-0.4v1.7m4.3-3.8v2m4.2-0.8v2m4.3-3v2.1m4.2-0.7v1.9m4.3-2v2.1m4.2-1.4v2.4m4.3-5v3.1m4.2-3.1v2.4m4.3-4.4v3m4.2-1.2v1.9m4.3-0.8v1.9m4.2-1.8v2.8m4.3-3.5v2.4m4.2-2v2.8m4.3-5v2.8m4.2-2.1v2.7m4.3-0.2v3.3m4.2-4.1v4.4m4.3-6.9v2.3m4.2-2.4v5.5m4.3-4.6v6.1m4.2-8.6v4.5m4.3-1.4v5.9m4.2-6.7v6.8m4.3-6.8v7.7m4.2-1.2v5.9m4.3-16.3v6.8m4.2 0.4v7.9m4.3-11v8.7m4.2-27.1v18.4" stroke="#00bfbf" stroke-width="2.4" fill="none" marker-start="url(#c4)" marker-mid="url(#c4)" marker-end="url(#c4)"/><path d="M170.4 600l27.2 0 27.1-0.1 27.2 0 27.2-0.1 27.2-0.2 27.2-0.1 27.1-0.2 27.2-0.2 27.2-0.2 27.2-0.3 27.2-0.3 27.1-0.3 27.2-0.4" fill="none" stroke="#000" stroke-width="3.2" stroke-linecap="square"/><path d="M170.4 597.7l4.2 17.5 4.3-7.8 4.2-4 4.3-6.5 4.2 0.2 4.3 3.5 4.2-0.8 4.3 1 4.2 1.5 4.3-5.8 4.2 2.7 4.3-3.7 4.2 5.8 4.3-1.1 4.2-1.8 4.3 1.9 4.2 1.7 4.3-0.3 4.2-1.9 4.3-0.4 4.2 0.6 4.3-1.3 4.2 0 4.3 0.6 4.2 0.5 4.3 0.4 4.2-1.2 4.3-0.4 4.2 1 4.3-0.5 4.2 1 4.3 1.3 4.2-0.6 4.3-2.1 4.2 0.2 4.3-1.4 4.2 2 4.3-1 4.2-0.7 4.3 0.5 4.2 1.8 4.3-0.5 4.2-0.4 4.3 1.4 4.2-1.9 4.3-0.7 4.2 2 4.3-3.2 4.2 2.9 4.3-0.3 4.2 0 4.3 0.5 4.2-1.2 4.3 0.3 4.2-2.2 4.3 1.1 4.2 0.4 4.3 0.9 4.2 1.4 4.3-1.7 4.2 0.7 4.3-2.3 4.2 1.4 4.3-2.8 4.2 1.5 4.3-0.1 4.2 0.7 4.3 0 4.2-0.9 4.3-0.7 4.2 3.4 4.3-2.6 4.2-2.9 4.3 4 4.2 0.5 4.3 1.2 4.2 2.2 4.3-7.9 4.2 3.3 4.3-1 4.2-7 4.3-2.4 4.2 18" fill="none" stroke="#bf00bf" stroke-width="2.6" stroke-linejoin="round" stroke-linecap="square"/><path d="M170.4 585.7v24m4.2-6.9v24.8m4.3-26.2v12m4.2-15v10.1m4.3-15.9v8.6m4.2-8.8v9.5m4.3-4.5v6.5m4.2-8v7.8m4.3-6.2v6.6m4.2-4.2v4.9m4.3-11.1v5.7m4.2-2.2v4.1m4.3-8.5v5.5m4.2 1v4m4.3-4.9v3.6m4.2-5.1v3m4.3-1v2.8m4.2-1v2.6m4.3-3.5v3.8m4.2-5v2.3m4.3-2.5v2m4.2-1.8v2.8m4.3-4v2.5m4.2-2.3v2.3m4.3-2.1v2.9m4.2-2.4v2.9m4.3-2.5v2.9m4.2-3.7v2.2m4.3-2.6v2.1m4.2-1.3v2.6m4.3-3.3v3m4.2-2.1v3.3m4.3-1.7v2.6m4.2-2.9v2.1m4.3-4.3v2.2m4.2-2.1v2.5m4.3-4v2.5m4.2 0v1.6m4.3-2.9v2.3m4.2-3.2v2.7m4.3-1.9v2.1m4.2-0.5v2.4m4.3-2.6v1.8m4.2-2.2v1.8m4.3-0.7v2.3m4.2-4.7v3.3m4.3-3.7v2.8m4.2-0.9v2.9m4.3-6v2.9m4.2-0.3v3.4m4.3-3.7v3.5m4.2-3.2v2.8m4.3-2v2.2m4.2-3.3v2m4.3-1.8v2.2m4.2-4.4v2.2m4.3-1.3v2.6m4.2-2.1v2.3m4.3-1.8v3.3m4.2-1.5v2.5m4.3-4.4v2.8m4.2-2v2.6m4.3-4.9v2.7m4.2-1.3v2.5m4.3-5.9v3.8m4.2-2.3v3.8m4.3-3.4v2.9m4.2-2.2v2.8m4.3-3.1v3.4m4.2-4.7v4.2m4.3-4.9v4.2m4.2-1.5v5.6m4.3-7.1v3.4m4.2-6.6v4m4.3 0.2v3.6m4.2-4.8v7.1m4.3-5.3v5.8m4.2-4.1v6.9m4.3-14.2v5.5m4.2-2.3v5.8m4.3-7.3v6.8m4.2-14.5v8.1m4.3-10.7v8.6m4.2 3.5v20.3" stroke="#bf00bf" stroke-width="2.4" fill="none" marker-start="url(#c5)" marker-mid="url(#c5)" marker-end="url(#c5)"/><path d="M170.4 600l27.2 0 27.1-0.1 27.2 0 27.2-0.1 27.2-0.2 27.2-0.1 27.1-0.2 27.2-0.2 27.2-0.2 27.2-0.3 27.2-0.3 27.1-0.3 27.2-0.4" fill="none" stroke="#000" stroke-width="3.2" stroke-linecap="square"/><path d="M170.4 602.6l4.2-11.4 4.3 6.1 4.2 2.3 4.3 1.6 4.2-1.7 4.3 4.2 4.2-5.7 4.3 3.6 4.2-2.9 4.3 1 4.2-2.3 4.3 2.6 4.2-1.9 4.3 3.5 4.2-3 4.3 1.6 4.2-0.6 4.3 0.2 4.2-1.2 4.3 4.1 4.2-3.4 4.3 3.2 4.2-4 4.3 4 4.2-1.3 4.3 0.8 4.2-4.4 4.3 3.8 4.2-1.9 4.3 0.9 4.2 1.6 4.3-1.9 4.2-1.3 4.3 1 4.2-1.6 4.3 1.8 4.2-0.5 4.3 0.5 4.2-0.9 4.3-1.9 4.2 1.8 4.3 0.1 4.2 1 4.3 0.1 4.2-2.9 4.3 3.5 4.2-0.6 4.3-0.8 4.2 0.3 4.3-3.1 4.2 5.7 4.3-3.7 4.2-0.5 4.3 2.9 4.2-1.3 4.3-1.4 4.2-1.9 4.3 3.6 4.2 1 4.3-3.7 4.2-1.6 4.3 3.4 4.2 2.8 4.3-5.8 4.2 2.8 4.3-2 4.2 1.6 4.3 0.6 4.2 0.1 4.3-4.2 4.2 0 4.3 7.9 4.2-2.5 4.3-6 4.2 4.6 4.3 2.9 4.2-4 4.3 0.4 4.2-0.1 4.3 2 4.2-0.6 4.3 0.5 4.2-4.8" fill="none" stroke="#ffa500" stroke-width="2.6" stroke-linejoin="round" stroke-linecap="square"/><path d="M170.4 592.7v19.9m4.2-28.1v13.4m4.3-6.6v12m4.2-9.5v11.7m4.3-10v11.3m4.2-11.3v8m4.3-3.8v8m4.2-12.9v6.3m4.3-2.2v5.3m4.2-8.1v5.2m4.3-4.4v5.5m4.2-7.8v5.7m4.3-2.4v4.2m4.2-5.6v3.3m4.3-0.3v4.1m4.2-7.3v4.6m4.3-2.1v2.9m4.2-3.2v2.3m4.3-2.2v2.3m4.2-3.8v2.9m4.3 1.1v3.2m4.2-6.7v3.5m4.3-0.1v2.9m4.2-6.8v2.7m4.3 1.4v2.6m4.2-4.1v2.9m4.3-2v2.8m4.2-7v2.4m4.3 1.4v2.3m4.2-4.1v2.2m4.3-1.3v2.1m4.2-0.4v2m4.3-4.3v2.8m4.2-4.1v2.7m4.3-1.7v2.9m4.2-4.6v3m4.3-0.9v2.4m4.2-3.1v2.8m4.3-2.1v2.4m4.2-3.4v2.5m4.3-4.3v2.5m4.2-0.5v2m4.3-2.2v2.7m4.2-1.6v2.4m4.3-2.2v2.2m4.2-5.5v3.1m4.3 0.1v3.6m4.2-3.4v2m4.3-3.4v3.1m4.2-2.1v1.9m4.3-5.4v2.6m4.2 3v2.8m4.3-6.1v2m4.2-2.8v2.6m4.3-0.4v3.9m4.2-4.2v2.1m4.3-3.8v2.6m4.2-4.6v2.7m4.3 0.9v2.8m4.2-1.5v2.3m4.3-6.4v2.9m4.2-5.7v5.4m4.3-0.6v2.7m4.2-0.3v3.3m4.3-9.1v3.4m4.2-0.3v2.7m4.3-4.8v2.9m4.2-1.7v3.9m4.3-3v3.1m4.2-3.4v4.1m4.3-9v5.4m4.2-5.4v5.4m4.3 3.5v3.5m4.2-6.4v4.1m4.3-9.7v3.3m4.2 0v6m4.3-3.2v6.2m4.2-10.2v6.3m4.3-5.8v5.9m4.2-5.8v5.5m4.3-5.7v10m4.2-11.8v12.4m4.3-10.4v9.3m4.2-16.5v14.2" stroke="#ffa500" stroke-width="2.4" fill="none" marker-start="url(#c6)" marker-mid="url(#c6)" marker-end="url(#c6)"/><path d="M170.4 600l27.2 0 27.1-0.1 27.2 0 27.2-0.1 27.2-0.2 27.2-0.1 27.1-0.2 27.2-0.2 27.2-0.2 27.2-0.3 27.2-0.3 27.1-0.3 27.2-0.4" fill="none" stroke="#000" stroke-width="3.2" stroke-linecap="square"/></g>
<g clip-path="url(#k20)"><path d="M170.4 854.4l4.2-6.8 4.3-12.8 4.2 6.2 4.3 0.2 4.2-2.4 4.3 5.3 4.2-6.3 4.3 2.1 4.2-1.1 4.3 2.8 4.2-2.6 4.3 2.3 4.2-3.1 4.3 0 4.2 0.5 4.3 0.5 4.2-0.3 4.3 4.3 4.2-4.6 4.3 1.8 4.2-0.5 4.3 0.4 4.2 1.4 4.3-0.9 4.2-1.7 4.3-1 4.2 2.7 4.3 0.3 4.2-2.8 4.3 2.8 4.2-3.8 4.3 2.6 4.2 1.2 4.3-2.3 4.2-0.6 4.3 3.5 4.2-3.4 4.3 2.1 4.2-1.8 4.3 1.8 4.2 2.1 4.3-3.1 4.2-0.4 4.3-1.5 4.2 0.1 4.3 1.6 4.2 1.1 4.3 0.3 4.2-0.3 4.3 1.2 4.2-1.2 4.3 2.1 4.2-2.6 4.3 0.2 4.2-2.8 4.3 1.7 4.2 1.7 4.3-1.2 4.2 2.3 4.3-0.9 4.2 1.7 4.3-4.2 4.2 0.9 4.3 2.4 4.2-1.5 4.3-1.4 4.2 0.5 4.3 0.1 4.2 2 4.3-0.2 4.2-1.3 4.3-1.9 4.2 3.4 4.3 1.2 4.2-4.8 4.3 4.7 4.2-5.9 4.3 2.8 4.2-2.5 4.3-3.1 4.2 2.3 4.3-0.7 4.2 11.6" fill="none" stroke="#0000ff" stroke-width="2.6" stroke-linejoin="round" stroke-linecap="square"/><path d="M170.4 844.4v20m4.2-24.4v15.2m4.3-26.4v12.1m4.2-6v12.2m4.3-12.3v12.7m4.2-12.6v7.8m4.3-2v6.7m4.2-12.8v6.5m4.3-4.2v6.1m4.2-6.7v5m4.3-1.7v4m4.2-6.8v4.4m4.3-1.5v3.2m4.2-6.7v4m4.3-3.2v2.5m4.2-2.5v3.4m4.3-2.5v2.6m4.2-3.6v4m4.3 1.1v2.3m4.2-7.3v3.2m4.3-1.5v3.3m4.2-3.3v2.3m4.3-1.8v2.2m4.2-0.8v2.2m4.3-3.1v2.2m4.2-4.1v2.7m4.3-3.9v2.9m4.2 0.2v2.3m4.3-2.2v2.6m4.2-5.2v2.1m4.3 0.7v2.1m4.2-6.1v2.6m4.3 0.2v2.3m4.2-1.8v3.6m4.3-5.1v2m4.2-2.9v2.5m4.3 0.9v2.7m4.2-5.4v1.5m4.3 0.2v2.1m4.2-3.8v2m4.3-0.2v2.1m4.2-0.7v3.4m4.3-6.1v2.7m4.2-2.8v2m4.3-3.5v2m4.2-1.8v1.8m4.3-0.5v2.4m4.2-1.2v2.2m4.3-2v2.5m4.2-2.8v2.4m4.3-1.5v2.9m4.2-4.2v3.2m4.3-0.8v2.7m4.2-5.3v2.6m4.3-2.2v2.2m4.2-5.2v2.6m4.3-0.9v2.6m4.2-0.8v2.5m4.3-3.5v1.9m4.2-0.1v3.1m4.3-3.9v2.7m4.2-1v2.8m4.3-6.7v2.2m4.2-1.8v3.2m4.3-0.6v2.8m4.2-3.9v2m4.3-3.6v2.4m4.2-2.3v3.2m4.3-3.4v3.9m4.2-1.5v3m4.3-3.4v3.3m4.2-4.4v3.1m4.3-6v5m4.2-0.6v3m4.3-2.3v4m4.2-8.6v3.6m4.3 0.1v5.5m4.2-11.5v5.9m4.3-2.5v4.6m4.2-8.7v7.9m4.3-10.4v6.5m4.2-7v12.2m4.3-13.2v12.8m4.2-3.8v17.9" stroke="#0000ff" stroke-width="2.4" fill="none" marker-start="url(#c0)" marker-mid="url(#c0)" marker-end="url(#c0)"/><path d="M170.4 840l27.2 0 27.1 0 27.2 0 27.2 0 27.2 0 27.2 0 27.1 0 27.2 0 27.2 0 27.2 0 27.2 0 27.1 0 27.2 0" fill="none" stroke="#000" stroke-width="3.2" stroke-linecap="square"/><path d="M170.4 842l4.2 5.5 4.3-10.1 4.2-9 4.3 11.2 4.2-5.3 4.3 7.2 4.2-0.3 4.3 1.1 4.2-1.9 4.3-4.8 4.2 6.9 4.3-6.1 4.2 5.7 4.3-1.8 4.2-1.9 4.3 0.6 4.2 0.6 4.3 3.5 4.2-3.7 4.3 2 4.2-3.8 4.3 2.7 4.2-0.6 4.3 1.8 4.2-1 4.3 1 4.2-2.6 4.3 1.4 4.2-1.1 4.3 1.8 4.2-0.4 4.3-2.3 4.2 3 4.3 0.8 4.2-2.6 4.3 2.3 4.2-1.2 4.3-1.9 4.2 2.3 4.3-2.1 4.2 1.8 4.3-2.6 4.2 0 4.3 2.7 4.2-0.5 4.3 0.8 4.2-1.4 4.3-1.1 4.2 3.2 4.3-3.1 4.2 2.9 4.3-0.4 4.2 0.9 4.3-4.3 4.2 2.1 4.3-0.2 4.2 1.1 4.3-2.5 4.2 4.6 4.3-2.9 4.2-3.5 4.3 4.2 4.2-0.7 4.3-1.2 4.2 2.5 4.3-1.3 4.2-1.7 4.3 1.4 4.2-0.3 4.3 1.3 4.2-1.4 4.3 0.6 4.2-3.1 4.3 1.3 4.2 2.6 4.3 5.6 4.2-8.8 4.3 0.2 4.2 5.5 4.3 5.2 4.2-3.3 4.3-9.9 4.2 13.4" fill="none" stroke="#008000" stroke-width="2.6" stroke-linejoin="round" stroke-linecap="square"/><path d="M170.4 832.6v18.9m4.2-12v15.9m4.3-24.4v12.8m4.2-21.7v12.6m4.3 0.3v9.2m4.2-14.1v8.5m4.3-1.4v8.5m4.2-7.4v5.7m4.3-5v6.7m4.2-7.4v4.2m4.3-9v4.2m4.2 2.4v4.8m4.3-10.5v4m4.2 1.3v4.7m4.3-5.6v3.1m4.2-5.6v4.1m4.3-3.1v3.4m4.2-2.7v3.2m4.3 0.2v3.3m4.2-6.9v3.2m4.3-1.6v4m4.2-6.7v1.9m4.3 0.4v2.6m4.2-3.6v3.4m4.3-1.2v2.6m4.2-3.3v2.1m4.3-1v1.9m4.2-4.8v2.4m4.3-1.3v3.1m4.2-4.4v3.4m4.3-1.4v2.9m4.2-3.2v2.7m4.3-4.7v2.2m4.2 0.5v2.8m4.3-1.6v2.1m4.2-5v2.6m4.3-0.8v3.6m4.2-4.5v3m4.3-4.6v2.4m4.2-0.4v2.9m4.3-4.7v2.4m4.2-0.3v1.8m4.3-4.7v2.5m4.2-2.5v2.3m4.3-0.1v3.3m4.2-3.6v3m4.3-2v2.7m4.2-4.1v2.7m4.3-3.6v2.3m4.2 0.8v2.5m4.3-5.5v2.2m4.2 0.6v2.3m4.3-2.7v2.5m4.2-1.5v2.2m4.3-6.5v2.1m4.2-0.1v2.4m4.3-2.2v1.7m4.2-0.7v1.8m4.3-4.9v3m4.2 1.6v2.9m4.3-5.9v3.1m4.2-6.9v3.8m4.3 0.2v4.1m4.2-4.2v3m4.3-4.5v3.6m4.2-0.7v2.9m4.3-4.3v2.9m4.2-4.8v3.3m4.3-1.7v3m4.2-3.5v3.4m4.3-2.3v3.7m4.2-5.3v4.2m4.3-3.7v4.4m4.2-7.5v4.5m4.3-3.8v5.6m4.2-3.3v6.3m4.3-0.4v5.5m4.2-14.4v5.9m4.3-6.2v6.7m4.2-1.5v7.4m4.3-2.5v8.1m4.2-11.6v8.5m4.3-21.4v14.5m4.2-1.1v14.3" stroke="#008000" stroke-width="2.4" fill="none" marker-start="url(#c1)" marker-mid="url(#c1)" marker-end="url(#c1)"/><path d="M170.4 840l27.2 0 27.1 0 27.2 0 27.2 0 27.2 0 27.2 0 27.1 0 27.2 0 27.2 0 27.2 0 27.2 0 27.1 0 27.2 0" fill="none" stroke="#000" stroke-width="3.2" stroke-linecap="square"/><path d="M170.4 854.3l4.2-20.1 4.3 7.3 4.2-0.7 4.3-0.8 4.2-1.4 4.3-4.4 4.2 11.3 4.3-5.6 4.2 1.8 4.3-4.1 4.2 3.3 4.3-1.8 4.2 1.6 4.3-1.9 4.2 0 4.3 1.9 4.2-0.8 4.3 2.4 4.2-2.7 4.3-0.6 4.2 1.7 4.3-1.9 4.2 3.9 4.3-0.7 4.2-0.2 4.3-1.2 4.2-0.6 4.3 0.1 4.2 0 4.3-0.8 4.2 1.2 4.3 0.8 4.2 0.2 4.3-3.4 4.2 4.5 4.3-2.4 4.2-1.9 4.3 1.1 4.2 1.5 4.3-0.9 4.2-1 4.3-0.4 4.2 2.5 4.3-2.2 4.2 0.8 4.3-1 4.2-0.5 4.3 2.1 4.2 1.1 4.3-1.8 4.2-1.4 4.3 1 4.2 0.5 4.3-2.7 4.2 4.4 4.3-2.6 4.2 1.8 4.3-0.7 4.2 0 4.3-1.6 4.2 2.9 4.3-0.4 4.2 1.4 4.3-3 4.2 1.5 4.3-1.3 4.2 2.3 4.3-1.2 4.2-2.3 4.3 2.1 4.2-1.6 4.3 0.2 4.2 1.9 4.3 2.6 4.2-5.4 4.3 1.5 4.2-2.2 4.3 10 4.2-1.3 4.3 2.9 4.2-4 4.3-10.7 4.2 1.5" fill="none" stroke="#ff0000" stroke-width="2.6" stroke-linejoin="round" stroke-linecap="square"/><path d="M170.4 843.4v21.8m4.2-37.9v13.7m4.3-6.4v13.7m4.2-13.4v11.8m4.3-11.8v10.1m4.2-10.5v8.2m4.3-11.1v5.1m4.2 6v5.6m4.3-12.1v7.3m4.2-4v4.4m4.3-8.4v4.1m4.2-0.6v3.7m4.3-5.6v3.9m4.2-2.4v4.3m4.3-5.8v3.4m4.2-2.8v2.1m4.3-0.2v2.1m4.2-3.5v3.4m4.3-0.5v2.3m4.2-4.7v1.9m4.3-2.9v2.6m4.2-1v2.8m4.3-4.1v1.6m4.2 1.6v2.9m4.3-3.2v2.3m4.2-2.6v2.3m4.3-3.7v2.9m4.2-2.8v1.4m4.3-1.6v2m4.2-1.8v1.6m4.3-2.4v1.6m4.2-0.8v2.3m4.3-1.1v1.7m4.2-1.7v2.1m4.3-5.3v1.6m4.2 2.4v2.5m4.3-4.9v2.6m4.2-4.5v2.6m4.3-1.2v2.1m4.2-0.5v1.8m4.3-2.7v1.8m4.2-3v2.3m4.3-2.5v1.9m4.2 0.2v2.5m4.3-5.4v3.9m4.2-2.2v2.2m4.3-3.2v2.3m4.2-3.3v3.2m4.3-0.3v1.7m4.2-0.7v1.7m4.3-3.5v1.8m4.2-3.4v2.2m4.3-1.5v2.7m4.2-1.8v2.1m4.3-5.2v2.9m4.2 1.3v3.3m4.3-5.7v2.9m4.2-0.6v1.9m4.3-3v2.6m4.2-2.7v2.7m4.3-4.1v2.5m4.2 0.4v2.5m4.3-3v2.5m4.2-1.1v2.5m4.3-5.5v2.6m4.2-1.4v3.3m4.3-4.2v2.4m4.2-0.6v3.3m4.3-4v2.4m4.2-5.2v3.3m4.3-0.9v2.7m4.2-4.6v3.5m4.3-3.8v4.5m4.2-2.5v4.2m4.3-1.8v4.5m4.2-9.2v3.3m4.3-3.4v6.3m4.2-7.4v4.2m4.3 4.5v6.8m4.2-8v6.6m4.3-5v9.2m4.2-14.3v11.4m4.3-21.7v10.7m4.2-12.5v17.2" stroke="#ff0000" stroke-width="2.4" fill="none" marker-start="url(#c2)" marker-mid="url(#c2)" marker-end="url(#c2)"/><path d="M170.4 840l27.2 0 27.1 0 27.2 0 27.2 0 27.2 0 27.2 0 27.1 0 27.2 0 27.2 0 27.2 0 27.2 0 27.1 0 27.2 0" fill="none" stroke="#000" stroke-width="3.2" stroke-linecap="square"/><path d="M170.4 865.1l4.2-26.5 4.3-2.8 4.2 0.2 4.3 10.3 4.2-5.8 4.3 3.8 4.2-4.5 4.3 2.3 4.2-5.1 4.3 2.1 4.2 2.7 4.3-1.7 4.2 2.5 4.3-2.6 4.2-0.8 4.3 0.5 4.2 3 4.3-2.2 4.2-1.2 4.3 0.3 4.2-1.1 4.3 3.2 4.2-2.2 4.3 1.4 4.2-1.1 4.3-0.2 4.2-0.3 4.3 1.4 4.2-0.8 4.3 1.5 4.2 0.6 4.3-2.6 4.2 0.7 4.3 1.6 4.2-0.9 4.3-0.8 4.2-1.8 4.3 0.6 4.2 0.4 4.3 2.9 4.2-1.9 4.3-0.6 4.2 0.1 4.3-0.1 4.2 0.8 4.3-2 4.2-0.3 4.3 2.1 4.2 1 4.3-3.5 4.2 3 4.3-2 4.2-1 4.3 3.5 4.2-1.5 4.3 0.9 4.2-1.2 4.3 0.3 4.2-2.1 4.3 1.7 4.2 0.8 4.3-1.6 4.2 2 4.3 0 4.2-4.4 4.3 5.1 4.2-0.4 4.3-0.8 4.2 1.5 4.3 1.9 4.2-4.9 4.3 3 4.2-0.3 4.3-0.2 4.2 1.8 4.3 0.4 4.2-3.5 4.3-6.7 4.2 4.8 4.3-0.9 4.2 9.8 4.3-6.3 4.2 10.8" fill="none" stroke="#bfbf00" stroke-width="2.6" stroke-linejoin="round" stroke-linecap="square"/><path d="M170.4 844.6v41m4.2-55.1v16.2m4.3-16.9v12m4.2-10.5v9.5m4.3 1.5v8.1m4.2-12.7v5.6m4.3-2.8v7.5m4.2-11v5.5m4.3-2.8v4.9m4.2-9.8v4.4m4.3-1.8v3.4m4.2-1.1v4.2m4.3-5.9v4.3m4.2-1.8v4.2m4.3-6.3v3.3m4.2-4v3.1m4.3-3v3.7m4.2 0.2v2m4.3-4.6v2.9m4.2-4.2v2.9m4.3-2.4v2.6m4.2-3.8v2.7m4.3 0.7v2.4m4.2-4.6v2.4m4.3-1.3v3m4.2-3.4v1.7m4.3-2.3v2.4m4.2-2.9v2.9m4.3-1.4v2.6m4.2-3.5v2.7m4.3-0.9v2.3m4.2-1.7v2.1m4.3-4.6v2m4.2-1.3v2m4.3-0.6v2.3m4.2-2.8v1.7m4.3-2.6v1.9m4.2-4v2.4m4.3-1.4v1.7m4.2-1.4v1.9m4.3 0.5v2.9m4.2-4.8v2.8m4.3-2.9v1.8m4.2-2.1v2.5m4.3-2.2v1.9m4.2-1.4v2.4m4.3-3.9v1.3m4.2-2.4v3m4.3-0.6v2.5m4.2-1.9v3.1m4.3-6.2v2.4m4.2 0.7v2.2m4.3-4v1.8m4.2-3.5v3.1m4.3 0.9v2.2m4.2-3.9v2.6m4.3-1.4v2m4.2-3.6v2.9m4.3-2.7v2.9m4.2-4.6v2.3m4.3-0.9v2.7m4.2-1.7v2.4m4.3-4.4v3.2m4.2-1.1v2.9m4.3-3v3.3m4.2-7.9v3.6m4.3 2.1v2.4m4.2-2.9v2.6m4.3-3.2v2.3m4.2-0.9v2.4m4.3-1.2v3.7m4.2-8.3v3.2m4.3-0.2v3.1m4.2-3.9v4.3m4.3-4.1v3.4m4.2-2.5v5.2m4.3-5.2v6.1m4.2-10.2v7.1m4.3-13.1v5.8m4.2-1.8v7.4m4.3-10.5v11.8m4.2-0.1v7.9m4.3-15.7v11m4.2-3.9v18.4" stroke="#bfbf00" stroke-width="2.4" fill="none" marker-start="url(#c3)" marker-mid="url(#c3)" marker-end="url(#c3)"/><path d="M170.4 840l27.2 0 27.1 0 27.2 0 27.2 0 27.2 0 27.2 0 27.1 0 27.2 0 27.2 0 27.2 0 27.2 0 27.1 0 27.2 0" fill="none" stroke="#000" stroke-width="3.2" stroke-linecap="square"/><path d="M170.4 819.5l4.2 30.2 4.3-1.6 4.2-6.8 4.3-7.1 4.2 2.7 4.3 5.7 4.2-5 4.3 4.8 4.2-4.9 4.3 3.4 4.2-2.3 4.3 0.4 4.2 1.7 4.3-1.1 4.2 2 4.3-1.5 4.2-1.3 4.3-1 4.2 1.5 4.3 0.7 4.2 1 4.3-2.2 4.2 2.7 4.3-0.7 4.2-1.1 4.3 1.3 4.2-2.5 4.3 0.5 4.2 1.5 4.3 0.2 4.2 0.5 4.3 0.1 4.2-1.6 4.3-0.1 4.2 0.2 4.3 0 4.2 0.7 4.3-0.8 4.2 1.3 4.3-1 4.2-1 4.3-0.3 4.2 1.7 4.3-0.1 4.2-1.3 4.3-0.7 4.2 3 4.3-0.9 4.2-0.5 4.3-1.1 4.2 2 4.3-1.4 4.2 1 4.3-2.3 4.2 1.5 4.3 0.6 4.2 0.2 4.3-1.4 4.2 0.4 4.3 1.7 4.2-1.3 4.3 1.9 4.2-0.8 4.3 1.1 4.2-0.6 4.3-0.5 4.2 0.7 4.3-2.2 4.2-0.3 4.3 1.4 4.2 1.5 4.3-3.1 4.2 5.3 4.3-0.7 4.2-4.7 4.3-0.2 4.2-0.9 4.3 3 4.2 3.3 4.3-2.2 4.2-4.1 4.3 6.4 4.2-17.3" fill="none" stroke="#00bfbf" stroke-width="2.6" stroke-linejoin="round" stroke-linecap="square"/><path d="M170.4 802.8v33.5m4.2 7.2v12.5m4.3-14.6v13.4m4.2-18.2v9.4m4.3-15.1v6.5m4.2-3.7v6.5m4.3-1v6.8m4.2-11.2v5.7m4.3 0.2v3.4m4.2-9v4.9m4.3-0.6v3m4.2-5.4v3.2m4.3-3v3.6m4.2-2.4v4.5m4.3-4.5v2.4m4.2-0.5v2.5m4.3-3.8v2.2m4.2-3.4v2.1m4.3-3.1v2m4.2-0.7v2.4m4.3-1.7v2.3m4.2-1.2v2.2m4.3-4.7v2.7m4.2 0.6v1.5m4.3-2.3v1.8m4.2-3v1.9m4.3-0.2v1.2m4.2-3.9v1.7m4.3-1.5v2.2m4.2-0.2v1.3m4.3-1.8v2.6m4.2-1.7v1.8m4.3-1.7v1.8m4.2-3.3v1.6m4.3-1.7v1.5m4.2-1.5v1.9m4.3-1.7v1.6m4.2-0.9v1.6m4.3-2.5v1.8m4.2-0.5v1.7m4.3-2.6v1.7m4.2-2.5v1.2m4.3-1.9v2m4.2 0v1.4m4.3-1.6v1.6m4.2-2.9v1.6m4.3-2.9v2.8m4.2 1v1.2m4.3-2.5v2.1m4.2-2.4v1.5m4.3-2.7v1.8m4.2 0.2v1.9m4.3-3.3v1.8m4.2-1v2.1m4.3-4.4v2.1m4.2-0.2v1.5m4.3-1.5v2.6m4.2-2.1v2m4.3-3.6v2.4m4.2-1.9v2.1m4.3-0.5v2.4m4.2-3.7v2.5m4.3-0.8v2.8m4.2-3.3v2.2m4.3-1.3v2.5m4.2-2.9v2.2m4.3-3v2.7m4.2-2.7v4.3m4.3-5.4v1.9m4.2-2.3v2.2m4.3-1.8v4.2m4.2-2v2.8m4.3-6v2.9m4.2 1.1v5.5m4.3-5.6v4.3m4.2-8.4v3.1m4.3-4.5v5.6m4.2-6.6v5.8m4.3-2.7v5.6m4.2-2.7v6.5m4.3-8.8v6.7m4.2-11.2v7.5m4.3-2v9.3m4.2-32.8v21.6" stroke="#00bfbf" stroke-width="2.4" fill="none" marker-start="url(#c4)" marker-mid="url(#c4)" marker-end="url(#c4)"/><path d="M170.4 840l27.2 0 27.1 0 27.2 0 27.2 0 27.2 0 27.2 0 27.1 0 27.2 0 27.2 0 27.2 0 27.2 0 27.1 0 27.2 0" fill="none" stroke="#000" stroke-width="3.2" stroke-linecap="square"/><path d="M170.4 844l4.2-7.2 4.3-0.6 4.2 0.1 4.3 13 4.2-5.8 4.3-0.9 4.2-2 4.3-1.2 4.2-1.5 4.3 0.6 4.2 1.8 4.3-0.3 4.2-3.7 4.3 4.5 4.2-1.2 4.3-2.1 4.2 2 4.3 3.6 4.2-3.6 4.3 1 4.2-0.3 4.3-1.5 4.2 0.7 4.3 0.9 4.2-1.3 4.3 0.4 4.2 0.5 4.3-0.2 4.2 0 4.3 0.7 4.2 0 4.3-0.4 4.2 1 4.3 0.3 4.2-2.8 4.3 1.7 4.2-0.2 4.3 0.2 4.2-0.2 4.3 0 4.2-0.1 4.3 1.1 4.2-2.1 4.3 2 4.2-2.4 4.3 3.6 4.2-0.9 4.3-2.3 4.2 1.2 4.3 0.6 4.2-1.1 4.3 1.7 4.2-1.4 4.3 3 4.2-2.3 4.3 0.1 4.2-1.5 4.3-0.5 4.2 2.4 4.3-2.9 4.2 2.7 4.3 1.8 4.2 0.1 4.3-5 4.2 2.3 4.3 1 4.2 0.2 4.3 0.7 4.2-4.4 4.3 2.5 4.2-3.4 4.3 3.7 4.2 3.8 4.3-6.9 4.2 3.6 4.3-0.3 4.2-5.7 4.3 6 4.2-4.9 4.3 4 4.2 3.6 4.3-6.6 4.2 7.3" fill="none" stroke="#bf00bf" stroke-width="2.6" stroke-linejoin="round" stroke-linecap="square"/><path d="M170.4 828v32m4.2-31.8v17.2m4.3-13.8v9.2m4.2-9.8v10.6m4.3 2.9v9.6m4.2-14.4v7.6m4.3-8.5v7.6m4.2-8.4v5.2m4.3-7.3v7m4.2-6.9v3.9m4.3-3.9v5m4.2-2.9v4.3m4.3-3.9v2.9m4.2-7.1v4m4.3 1.3v2.3m4.2-3.9v3.2m4.3-5.1v2.8m4.2-0.9v3m4.3 0.2v3.8m4.2-6.9v2.8m4.3-1.4v2m4.2-3v3.4m4.3-4.6v2.8m4.2-1.8v2.3m4.3-1.6v2.5m4.2-3.7v2.4m4.3-2.1v2.7m4.2-2.1v2.4m4.3-2.5v2.1m4.2-2v2m4.3-1.5v2.5m4.2-2.3v2m4.3-2.6v2.3m4.2-1.1v2.1m4.3-1.8v2m4.2-5v2.4m4.3-0.3v1.7m4.2-2v1.8m4.3-1.9v2.4m4.2-2.6v2.4m4.3-2.5v2.5m4.2-2.4v2.2m4.3-1.1v2.2m4.2-4.6v2.7m4.3-0.7v2.8m4.2-5v2.3m4.3 1.4v2.2m4.2-2.9v1.9m4.3-4.8v2.9m4.2-0.9v1.4m4.3-1.1v1.9m4.2-3.2v2.3m4.3-0.6v2.4m4.2-3.7v2.2m4.3 0.1v3.5m4.2-5.4v2.9m4.3-2.7v2.7m4.2-4.6v3.4m4.3-3.6v2.7m4.2-0.6v3.5m4.3-6v2.5m4.2-0.3v3.6m4.3-1.2v2.4m4.2-2.6v2.9m4.3-7.9v3m4.2-0.4v2.5m4.3-2.7v4.8m4.2-4.1v3.7m4.3-2.9v3.7m4.2-8.2v3.7m4.3-1.1v3.7m4.2-7.4v4.3m4.3-0.9v4.8m4.2-1v4.8m4.3-13.2v7.9m4.2-2.4v3.9m4.3-4.5v4.5m4.2-10.7v5.6m4.3-0.3v7m4.2-12.7v8.6m4.3-4.5v8.5m4.2-4.8v8.2m4.3-16.4v11.4m4.2-6.7v16.6" stroke="#bf00bf" stroke-width="2.4" fill="none" marker-start="url(#c5)" marker-mid="url(#c5)" marker-end="url(#c5)"/><path d="M170.4 840l27.2 0 27.1 0 27.2 0 27.2 0 27.2 0 27.2 0 27.1 0 27.2 0 27.2 0 27.2 0 27.2 0 27.1 0 27.2 0" fill="none" stroke="#000" stroke-width="3.2" stroke-linecap="square"/><path d="M170.4 853.7l4.2-14.6 4.3-1.8 4.2 9.8 4.3-4.7 4.2-2.5 4.3 0.7 4.2 1.2 4.3-3.8 4.2-0.1 4.3 0.6 4.2 1.9 4.3-4.9 4.2 1 4.3 4.1 4.2-0.4 4.3-2.3 4.2 3.1 4.3-1.6 4.2 0.5 4.3 0.9 4.2-0.5 4.3 1.6 4.2-1.3 4.3 1.4 4.2-4.2 4.3 0.4 4.2 0.5 4.3 1 4.2-0.7 4.3-0.2 4.2-0.1 4.3 0.6 4.2 1.6 4.3-1.4 4.2 1 4.3 0.8 4.2 0.1 4.3-1.8 4.2-0.7 4.3 2.3 4.2-3.1 4.3 0.3 4.2 2 4.3 0.2 4.2-0.5 4.3-1.3 4.2 1.6 4.3 0.6 4.2-1.4 4.3 2.8 4.2-2.5 4.3-1.4 4.2 1.2 4.3-0.6 4.2 0.4 4.3-0.3 4.2 0.6 4.3 1.1 4.2-0.6 4.3-0.2 4.2-1.9 4.3 0 4.2 1.4 4.3 1.3 4.2 0 4.3-0.6 4.2-2.1 4.3 1.3 4.2 0.6 4.3 1.6 4.2-3.4 4.3 1 4.2 0.8 4.3-0.3 4.2-3.3 4.3 3.9 4.2-5.5 4.3 2 4.2 2.9 4.3-2.8 4.2 3.5 4.3 3.5 4.2-2.5" fill="none" stroke="#ffa500" stroke-width="2.6" stroke-linejoin="round" stroke-linecap="square"/><path d="M170.4 844.5v18.4m4.2-32.4v17.2m4.3-15.2v9.6m4.2-1v11.9m4.3-15.6v10m4.2-10v5m4.3-4.8v6.1m4.2-3.9v4m4.3-8.3v5m4.2-4.7v4.2m4.3-3.7v4.4m4.2-2.8v5m4.3-9.2v3.5m4.2-2.8v4.2m4.3 0.5v2.9m4.2-2.9v2.1m4.3-5.3v3.9m4.2-0.1v2.7m4.3-4.5v2.9m4.2-2.3v2.8m4.3-2.4v3.8m4.2-3.5v2.2m4.3-0.5v1.9m4.2-3.1v1.8m4.3-0.5v1.9m4.2-6.1v2m4.3-1.9v2.5m4.2-1.6v1.8m4.3-1.1v2.3m4.2-2.8v1.9m4.3-1.8v1.5m4.2-2v2.2m4.3-1.3v1.5m4.2-0.2v2.2m4.3-3.7v2.4m4.2-1.1v1.7m4.3-1.1v2.2m4.2-2.3v2.5m4.3-4.3v2.6m4.2-3v1.9m4.3 0.5v1.9m4.2-5.4v2.5m4.3-1.8v1.9m4.2-0.1v2.2m4.3-2.2v2.5m4.2-2.8v2.1m4.3-3.7v2.7m4.2-1v2.7m4.3-1.9v2.2m4.2-3.6v2.2m4.3 0.5v2.3m4.2-4.9v2.6m4.3-3.8v2.2m4.2-1.1v2.3m4.3-3v2.6m4.2-1.9v2m4.3-2.6v2.5m4.2-1.8v2.5m4.3-1.4v2.5m4.2-3.4v2.9m4.3-2.5v1.8m4.2-4.3v3m4.3-2.6v2.2m4.2-0.7v1.9m4.3-0.8v2.4m4.2-2.2v2.1m4.3-3.4v3.4m4.2-5.6v3.5m4.3-2.5v4.1m4.2-3.2v3.5m4.3-2v3.8m4.2-7.7v4.8m4.3-3.5v4.3m4.2-3.2v3.6m4.3-5.2v6.1m4.2-8.1v3.6m4.3-0.9v6.1m4.2-11.7v6.3m4.3-3.7v4.9m4.2-2.1v5.3m4.3-9.1v7.2m4.2-3.6v6.9m4.3-5.6v11.4m4.2-15v13.7" stroke="#ffa500" stroke-width="2.4" fill="none" marker-start="url(#c6)" marker-mid="url(#c6)" marker-end="url(#c6)"/><path d="M170.4 840l27.2 0 27.1 0 27.2 0 27.2 0 27.2 0 27.2 0 27.1 0 27.2 0 27.2 0 27.2 0 27.2 0 27.1 0 27.2 0" fill="none" stroke="#000" stroke-width="3.2" stroke-linecap="square"/></g>
<g clip-path="url(#k30)"><path d="M170.4 1085.9l4.2-10.9 4.3 2.1 4.2 10.8 4.3-11 4.2 2.6 4.3 1.5 4.2 0.1 4.3-5.8 4.2 1.7 4.3-0.4 4.2 6 4.3-1.3 4.2-2.5 4.3 2.7 4.2-0.4 4.3 1 4.2-4.4 4.3 1.1 4.2 0.6 4.3 0.4 4.2 0.6 4.3 0 4.2-1.1 4.3 1.4 4.2-1.7 4.3 1.5 4.2 0.4 4.3-2.1 4.2 1.3 4.3-0.7 4.2 1.1 4.3 1.5 4.2-2.6 4.3 1.9 4.2-2.3 4.3 2.3 4.2 0.5 4.3-2.1 4.2-0.1 4.3 0.3 4.2 1.3 4.3-2.1 4.2 2 4.3-0.6 4.2 0.2 4.3-0.4 4.2-1 4.3 1.4 4.2-1.3 4.3 0 4.2 2.1 4.3-0.3 4.2-0.8 4.3 0.3 4.2-1 4.3 1.9 4.2-2.3 4.3-0.1 4.2 1 4.3 1.5 4.2-1.7 4.3 0.6 4.2-1.2 4.3 0.7 4.2-1.1 4.3 1.6 4.2-2.5 4.3 5.4 4.2-2 4.3-2.4 4.2 3.5 4.3-3.8 4.2 3.4 4.3-2.4 4.2 1.8 4.3-0.5 4.2-1.6 4.3 0.9 4.2 0.9 4.3-9 4.2 7.7 4.3 5.6 4.2 9.6" fill="none" stroke="#0000ff" stroke-width="2.6" stroke-linejoin="round" stroke-linecap="square"/><path d="M170.4 1074.7v22.4m4.2-30.8v17.4m4.3-13.3v13.4m4.2 0.4v7.4m4.3-19.6v9.8m4.2-6.4v8.3m4.3-5.3v5.2m4.2-5.2v5.4m4.3-10.2v3.4m4.2-1.8v3.6m4.3-4.5v4.7m4.2 1.9v3.4m4.3-4.8v3.7m4.2-5.8v2.8m4.3 0v2.7m4.2-3.7v3.7m4.3-1.7v1.8m4.2-6.5v2.5m4.3-1.5v2.6m4.2-1.7v2.1m4.3-1.5v1.6m4.2-1.4v2.3m4.3-2.3v2.3m4.2-3.5v2.6m4.3-0.6v1.4m4.2-3.2v1.6m4.3-0.4v2.2m4.2-1.7v2.1m4.3-4.2v1.9m4.2-1v2.9m4.3-3.1v1.9m4.2-0.9v1.9m4.3-0.4v2m4.2-4.5v1.9m4.3 0v1.8m4.2-4.1v1.8m4.3 0.5v1.9m4.2-1.5v2m4.3-3.8v1.5m4.2-1.8v1.8m4.3-1.7v2.2m4.2-0.7v1.8m4.3-4.3v2.5m4.2 0v1.7m4.3-2.4v1.7m4.2-1.5v1.8m4.3-2.4v2.3m4.2-3.3v2.2m4.3-0.8v2.2m4.2-3.6v2.4m4.3-2v1.6m4.2 0.6v1.3m4.3-2v2.1m4.2-2.8v1.9m4.3-1.9v2.7m4.2-3.2v1.7m4.3 0.1v1.8m4.2-4.2v1.9m4.3-2.1v2.3m4.2-1.5v2.5m4.3-0.9v2.4m4.2-4.6v3.3m4.3-1.9v1.8m4.2-3.1v2m4.3-1.6v2.5m4.2-4v3.5m4.3-1.7v3.1m4.2-5.4v2.6m4.3 2.7v2.8m4.2-5v3.2m4.3-6.2v4.3m4.2 0v2.9m4.3-7v3.5m4.2-0.4v3.9m4.3-6.1v3.7m4.2-1.6v3.1m4.3-4.8v5.4m4.2-6.7v4.7m4.3-6.1v9.3m4.2-7.1v6.7m4.3-15.3v6.1m4.2-0.1v9.3m4.3-5.9v13.9m4.2-9.8v24.8" stroke="#0000ff" stroke-width="2.4" fill="none" marker-start="url(#c0)" marker-mid="url(#c0)" marker-end="url(#c0)"/><path d="M170.4 1080l27.2 0 27.1 0 27.2 0 27.2 0 27.2 0 27.2 0 27.1 0 27.2 0 27.2 0 27.2 0 27.2 0 27.1 0 27.2 0" fill="none" stroke="#000" stroke-width="3.2" stroke-linecap="square"/><path d="M170.4 1091.5l4.2-4.9 4.3-6.9 4.2 8.7 4.3-8.8 4.2 0.4 4.3-2.3 4.2 3.3 4.3-1.3 4.2 2.1 4.3-0.8 4.2 3 4.3-4.2 4.2-3.7 4.3 3.6 4.2-0.3 4.3 2.3 4.2-4.2 4.3 3.9 4.2-2.9 4.3 1.3 4.2 1.7 4.3-3.1 4.2 1.6 4.3-0.3 4.2-0.3 4.3 0.6 4.2 0.7 4.3-1.5 4.2 1.4 4.3-0.7 4.2 1 4.3 1 4.2-1 4.3-0.2 4.2-0.7 4.3-1.4 4.2 3.7 4.3-2.5 4.2 3 4.3-1.3 4.2-0.9 4.3 2.3 4.2-0.3 4.3-2.8 4.2 0.1 4.3 0.3 4.2 0.9 4.3-4.3 4.2 3.4 4.3 1.2 4.2-3.8 4.3 1.6 4.2 1.3 4.3-2.2 4.2 1.4 4.3-0.6 4.2 0.6 4.3 2.1 4.2-3.6 4.3 1.5 4.2 2.2 4.3-0.6 4.2-3.1 4.3 2.5 4.2-0.8 4.3-1.1 4.2 1 4.3 4.1 4.2-5.2 4.3-0.6 4.2 0.1 4.3-1.9 4.2 2.8 4.3-0.8 4.2-1.7 4.3 4.3 4.2-5.4 4.3-1.6 4.2 3.1 4.3-6 4.2 3.9 4.3 10.3 4.2-14.4" fill="none" stroke="#008000" stroke-width="2.6" stroke-linejoin="round" stroke-linecap="square"/><path d="M170.4 1081.2v20.5m4.2-24v17.8m4.3-23.3v15m4.2-3.8v10m4.3-19.4v11.3m4.2-8.9v7.3m4.3-9.9v7.8m4.2-3.9v6.5m4.3-7.3v5.6m4.2-3v4.5m4.3-5.1v4.3m4.2-1.3v4.1m4.3-8.3v4.1m4.2-8.7v5.9m4.3-1.5v4.5m4.2-4.7v4.1m4.3-1.7v4.1m4.2-8.4v4.2m4.3-0.5v4.6m4.2-6.9v3.5m4.3-2.2v3.5m4.2-1.7v3.1m4.3-6.1v3m4.2-1.5v3.2m4.3-3.4v3m4.2-3.2v2.7m4.3-1.6v1.9m4.2-2.3v4.1m4.3-5.2v3.3m4.2-1.8v3m4.3-3.8v3.2m4.2-2.1v3m4.3-1.7v2.4m4.2-3.5v2.7m4.3-2.7v2.2m4.2-2.8v1.9m4.3-3.2v1.8m4.2 1.1v3.5m4.3-5.5v2.4m4.2 0.4v2.9m4.3-4.6v3.6m4.2-3.8v2.1m4.3-0.4v3.5m4.2-3.9v3.7m4.3-6.1v2.8m4.2-3v3.4m4.3-3.1v3.3m4.2-1.9v2.3m4.3-7.1v3.3m4.2 0.5v2.6m4.3-1.4v2.6m4.2-6.2v2.3m4.3-1.3v3.5m4.2-1.8v2.7m4.3-5.1v2.9m4.2-1.4v2.9m4.3-3.6v2.9m4.2-2.3v2.9m4.3-1v3.3m4.2-6.7v3.1m4.3-1.5v2.8m4.2-0.9v3.3m4.3-4v3.7m4.2-7.5v5.1m4.3-2.3v4.5m4.2-5.5v4.9m4.3-5.6v4m4.2-2.9v3.7m4.3 0.2v4.3m4.2-9.4v4m4.3-4.1v3m4.2-3.4v4m4.3-6.8v5.8m4.2-2.7v5.2m4.3-6.1v5.3m4.2-6.3v4m4.3-0.2v4.9m4.2-10.2v4.8m4.3-7.4v6.7m4.2-4.9v9.3m4.3-17.2v13.2m4.2-8v10.7m4.3-0.7v11.2m4.2-27.6v15.1" stroke="#008000" stroke-width="2.4" fill="none" marker-start="url(#c1)" marker-mid="url(#c1)" marker-end="url(#c1)"/><path d="M170.4 1080l27.2 0 27.1 0 27.2 0 27.2 0 27.2 0 27.2 0 27.1 0 27.2 0 27.2 0 27.2 0 27.2 0 27.1 0 27.2 0" fill="none" stroke="#000" stroke-width="3.2" stroke-linecap="square"/><path d="M170.4 1089.9l4.2-17.9 4.3 2 4.2 7.8 4.3-1.9 4.2-1.1 4.3-3.1 4.2 2.8 4.3 1.3 4.2 1.3 4.3 1.9 4.2-2 4.3-1.2 4.2 0.5 4.3-0.5 4.2-1.1 4.3 0.6 4.2 0.1 4.3-0.3 4.2 0.6 4.3 0.3 4.2-0.7 4.3 2.8 4.2-3.7 4.3 3 4.2-2.4 4.3 0.9 4.2-0.9 4.3 0.9 4.2 1 4.3-2.1 4.2 1 4.3 0 4.2 0.1 4.3-1 4.2 0.2 4.3 0.7 4.2 1.7 4.3-1.2 4.2-0.4 4.3-1.8 4.2 1.4 4.3 0.5 4.2-1.3 4.3 1.4 4.2-0.1 4.3-0.2 4.2 1.7 4.3-2.5 4.2 0.5 4.3 0.7 4.2 0.9 4.3-1.5 4.2-1.2 4.3 2.2 4.2 0.5 4.3-1.6 4.2 2.6 4.3 0.6 4.2-2.2 4.3 0 4.2-0.2 4.3 0.4 4.2-1.4 4.3 0.9 4.2 0.4 4.3 0 4.2-1.6 4.3-0.3 4.2-0.2 4.3 0 4.2 5.9 4.3-2.4 4.2-1.5 4.3-1.3 4.2 4 4.3-6.9 4.2 2.9 4.3 2.8 4.2-2.8 4.3 2 4.2 2 4.3-6.2 4.2 5.6" fill="none" stroke="#ff0000" stroke-width="2.6" stroke-linejoin="round" stroke-linecap="square"/><path d="M170.4 1081.8v16.2m4.2-33.2v14.3m4.3-11.4v12.5m4.2-2.8v8.9m4.3-10.9v9m4.2-8.8v6.3m4.3-9.7v7m4.2-4.5v7.5m4.3-4.4v4m4.2-3.1v4.8m4.3-3v5m4.2-6.3v3.7m4.3-4.5v2.8m4.2-2.3v2.8m4.3-4.7v5.5m4.2-5v2.5m4.3-2.4v3.3m4.2-3.3v3.6m4.3-3.4v2.6m4.2-2v2.6m4.3-2.2v2.4m4.2-3.6v3.3m4.3-0.2v2.8m4.2-6.1v2.1m4.3 0.5v2.8m4.2-4.8v1.9m4.3-1.4v2.9m4.2-3.3v1.8m4.3-1.3v2.6m4.2-1.4v2.2m4.3-4.4v2.5m4.2-1.2v1.8m4.3-2.3v2.8m4.2-2.4v2.1m4.3-3.4v2.9m4.2-2.2v1.8m4.3-1.3v2.1m4.2-0.4v2.2m4.3-3.2v1.8m4.2-2.2v1.7m4.3-3.7v2.2m4.2-0.5v1.7m4.3-1.2v1.7m4.2-3.4v2.4m4.3-0.9v2.2m4.2-2.6v2.8m4.3-2.5v1.8m4.2-0.3v2.1m4.3-4.5v2m4.2-1.7v2.3m4.3-1.4v2m4.2-1.1v1.9m4.3-3.7v2.7m4.2-4v2.7m4.3-0.4v2.6m4.2-2.1v2.7m4.3-4.2v2.4m4.2 0.1v2.7m4.3-1.8v1.9m4.2-4.6v3.1m4.3-2.5v1.9m4.2-2.5v2.5m4.3-2.4v3.3m4.2-5.1v4.1m4.3-2.6v2.8m4.2-2.3v2.7m4.3-3v3.3m4.2-4.4v2.2m4.3-2.6v2.4m4.2-2.8v2.9m4.3-3.6v4.3m4.2 1.8v3.8m4.3-6.3v4m4.2-5.1v3.1m4.3-5.8v6m4.2-1.1v4.2m4.3-12v5.9m4.2-2.7v5.3m4.3-3.5v7.5m4.2-10.4v7.6m4.3-6.2v8.9m4.2-7.2v9.4m4.3-17.6v13.4m4.2-5.7v9.2" stroke="#ff0000" stroke-width="2.4" fill="none" marker-start="url(#c2)" marker-mid="url(#c2)" marker-end="url(#c2)"/><path d="M170.4 1080l27.2 0 27.1 0 27.2 0 27.2 0 27.2 0 27.2 0 27.1 0 27.2 0 27.2 0 27.2 0 27.2 0 27.1 0 27.2 0" fill="none" stroke="#000" stroke-width="3.2" stroke-linecap="square"/><path d="M170.4 1091.6l4.2-12.8 4.3 7.9 4.2-7 4.3-5.2 4.2 4.5 4.3 1.6 4.2-5.2 4.3 6.6 4.2-4.7 4.3 3.2 4.2-1.2 4.3 0.5 4.2-0.1 4.3 0.3 4.2 1 4.3-0.2 4.2-1.6 4.3 0.9 4.2 1.6 4.3-0.9 4.2 0 4.3-0.8 4.2-0.2 4.3 0 4.2 1 4.3-0.9 4.2 1.4 4.3 0.8 4.2-2.1 4.3 1.7 4.2-0.7 4.3 0.4 4.2-2.1 4.3 2 4.2-1.6 4.3 0.9 4.2 0.6 4.3 0.9 4.2-2.6 4.3 0.1 4.2-0.6 4.3-1.2 4.2 1.9 4.3 0 4.2 0.4 4.3-0.2 4.2 0.5 4.3 0.5 4.2-3.3 4.3 4.4 4.2-2.4 4.3-0.1 4.2 0.3 4.3 1.2 4.2-0.8 4.3 0.3 4.2 0.8 4.3-1.3 4.2 0.5 4.3 0.2 4.2-1.6 4.3 2.3 4.2-2 4.3 1.5 4.2-1.6 4.3 0.6 4.2-0.2 4.3 1.7 4.2-0.1 4.3-0.2 4.2-1.4 4.3-1.2 4.2-0.6 4.3 3.1 4.2-1.2 4.3 5.2 4.2 0.8 4.3-2.6 4.2-0.5 4.3 2.7 4.2 5.8 4.3-13.7 4.2 7.6" fill="none" stroke="#bfbf00" stroke-width="2.6" stroke-linejoin="round" stroke-linecap="square"/><path d="M170.4 1082.9v17.4m4.2-34.1v25.2m4.3-10.2v11m4.2-17.5v10m4.3-15.4v10.5m4.2-3.9v6.3m4.3-5v6.7m4.2-10.7v4.5m4.3 2.3v3.9m4.2-9.2v5.2m4.3-1.2v3.6m4.2-6.1v6.2m4.3-4.1v3.1m4.2-3.1v2.8m4.3-2.7v3.2m4.2-2.1v3m4.3-3.5v3.6m4.2-5.2v3.6m4.3-2.8v3.7m4.2-1.6v2.7m4.3-3.4v2.3m4.2-2.5v2.9m4.3-3.8v3.1m4.2-2.8v1.9m4.3-2.2v2.6m4.2-1.5v2.4m4.3-2.8v1.5m4.2-0.3v1.8m4.3-0.9v1.6m4.2-4.2v2.7m4.3-0.5v1.7m4.2-3.1v3m4.3-2.6v3.1m4.2-5.1v2.7m4.3-0.4v2.2m4.2-3.7v1.9m4.3-1.5v3m4.2-1.9v2m4.3-1.6v2.9m4.2-5v1.9m4.3-2v2.3m4.2-2.7v2.1m4.3-3.4v2.3m4.2 0.1v1.3m4.3-1.8v2.1m4.2-1.6v2m4.3-2.2v1.9m4.2-1.5v2.2m4.3-1.7v2.2m4.2-5.5v2.3m4.3 1.9v2.6m4.2-4.7v2m4.3-2.3v2.4m4.2-1.9v2.1m4.3-0.7v1.6m4.2-2.5v1.8m4.3-1.9v2.7m4.2-1.6v2m4.3-3.5v2.5m4.2-2.2v2.8m4.3-2.4v2.4m4.2-4.3v2.9m4.3-0.3v2.3m4.2-4.6v2.9m4.3-1.7v3.6m4.2-5v3.3m4.3-2.1v2m4.2-2.6v2.8m4.3-1.1v2.9m4.2-3.1v3m4.3-3.3v3.2m4.2-4.3v2.6m4.3-5.2v5.4m4.2-5v3.5m4.3-1.2v4.9m4.2-6.5v5.8m4.3-0.2v4.9m4.2-4.4v5.5m4.3-9.1v7.6m4.2-8.6v8.7m4.3-5.7v8m4.2-3.7v10.9m4.3-24.2v10.2m4.2-4.5v14" stroke="#bfbf00" stroke-width="2.4" fill="none" marker-start="url(#c3)" marker-mid="url(#c3)" marker-end="url(#c3)"/><path d="M170.4 1080l27.2 0 27.1 0 27.2 0 27.2 0 27.2 0 27.2 0 27.1 0 27.2 0 27.2 0 27.2 0 27.2 0 27.1 0 27.2 0" fill="none" stroke="#000" stroke-width="3.2" stroke-linecap="square"/><path d="M170.4 1092.3l4.2-15.4 4.3 1.1 4.2-2.9 4.3 4.8 4.2 2.3 4.3-0.4 4.2 0.8 4.3 0 4.2-1.3 4.3-0.4 4.2-3 4.3 4.4 4.2-2.1 4.3 1.1 4.2-3.4 4.3 1.8 4.2 1 4.3-1.6 4.2 0.9 4.3 0.8 4.2-2.5 4.3 0.9 4.2-1.1 4.3 0.7 4.2 0.4 4.3 0.7 4.2 1.5 4.3-2.1 4.2 0.7 4.3-0.7 4.2 0.7 4.3 0.7 4.2 0.6 4.3-2.2 4.2-0.5 4.3 1.7 4.2-0.8 4.3-0.6 4.2 1.9 4.3-0.3 4.2 0.8 4.3-2.3 4.2 0.8 4.3 0.8 4.2 1.2 4.3-1.6 4.2-1.3 4.3 1.4 4.2 0.1 4.3-1.1 4.2 2 4.3-1.3 4.2-0.5 4.3 1.4 4.2 0 4.3-1.2 4.2 0.5 4.3 0.2 4.2-0.6 4.3 0 4.2 1.1 4.3-0.1 4.2-1.4 4.3-1.5 4.2 0.5 4.3 2.7 4.2-2.7 4.3 0.4 4.2 1.3 4.3-0.9 4.2-0.4 4.3-2 4.2 5.6 4.3-3.9 4.2 1.9 4.3 0.2 4.2-3.8 4.3 0.5 4.2 6.5 4.3-2.7 4.2-2 4.3 9.4 4.2-13.3" fill="none" stroke="#00bfbf" stroke-width="2.6" stroke-linejoin="round" stroke-linecap="square"/><path d="M170.4 1083v18.6m4.2-31.6v13.9m4.3-12.8v13.7m4.2-16.8v14.1m4.3-6.1v7.7m4.2-4.5v5.9m4.3-8.1v9.7m4.2-6.3v4.4m4.3-4.6v4.9m4.2-5.5v3.5m4.3-4.2v4.1m4.2-7.2v4.2m4.3 0.4v3.8m4.2-6.1v4.2m4.3-3v4.1m4.2-6.8v2.6m4.3-1v2.9m4.2-2.1v3.3m4.3-4.5v2.5m4.2-1.8v2.9m4.3-2v2.7m4.2-4.9v2.2m4.3-1.2v2m4.2-3.4v2.7m4.3-1.7v1.9m4.2-1.6v2.3m4.3-2v3m4.2-1.2v2.5m4.3-4.5v2.3m4.2-1.2v1.3m4.3-2.3v2m4.2-0.9v1.3m4.3-1v2m4.2-1.6v2.4m4.3-4.7v2.5m4.2-2.9v2.5m4.3-0.6v2m4.2-2.8v2.1m4.3-2.4v1.5m4.2 0.4v1.5m4.3-2.3v2.4m4.2-1.9v3.1m4.3-4.7v1.6m4.2-0.9v1.8m4.3-1.2v2.2m4.2-1.1v2.4m4.3-3.8v2.1m4.2-3.5v2.2m4.3-0.4v1.5m4.2-1.5v1.6m4.3-3.3v2.8m4.2-0.4v2m4.3-3.4v2.2m4.2-2.5v1.8m4.3-0.3v1.7m4.2-2v2.2m4.3-3.5v2.5m4.2-1.9v2.1m4.3-2.1v2.5m4.2-3v2.4m4.3-2.2v2m4.2-0.9v2.1m4.3-2.3v2.2m4.2-3.5v2m4.3-4.4v3.8m4.2-2.5v2.2m4.3 0.5v2.2m4.2-5.5v3.3m4.3-2.7v3m4.2-1.8v3.2m4.3-4.5v4m4.2-3.9v3m4.3-4.9v2.9m4.2 2.1v4.1m4.3-9v6m4.2-3.3v4.4m4.3-4.2v4.4m4.2-8.9v5.8m4.3-6.1v7.4m4.2-1v7.5m4.3-10.3v7.8m4.2-10v8.2m4.3-0.4v11.3m4.2-24.5v11.2" stroke="#00bfbf" stroke-width="2.4" fill="none" marker-start="url(#c4)" marker-mid="url(#c4)" marker-end="url(#c4)"/><path d="M170.4 1080l27.2 0 27.1 0 27.2 0 27.2 0 27.2 0 27.2 0 27.1 0 27.2 0 27.2 0 27.2 0 27.2 0 27.1 0 27.2 0" fill="none" stroke="#000" stroke-width="3.2" stroke-linecap="square"/><path d="M170.4 1070.6l4.2 3.5 4.3 3.5 4.2 5.5 4.3 1.9 4.2-4.5 4.3 4.4 4.2-1.5 4.3-6.1 4.2 4.9 4.3-6.4 4.2 6.8 4.3-3.3 4.2 2.9 4.3-2.5 4.2 1.9 4.3-1.7 4.2 0.4 4.3 0.2 4.2-1.2 4.3-1 4.2 2.4 4.3-1.7 4.2 0.9 4.3 0.2 4.2-2.8 4.3 5.2 4.2-1.7 4.3 1.3 4.2-1.7 4.3-0.1 4.2-2.6 4.3 1.9 4.2-1.3 4.3 0.2 4.2 2.1 4.3-1.1 4.2-1 4.3 1.3 4.2 0 4.3-0.2 4.2 2 4.3-0.6 4.2-1.4 4.3-0.3 4.2 1.8 4.3-0.7 4.2-0.3 4.3 0.1 4.2-1 4.3 0.7 4.2-0.1 4.3 1.7 4.2-0.2 4.3-1.6 4.2 1.8 4.3-1.8 4.2 1.1 4.3 0.1 4.2-1.5 4.3 1.5 4.2 0.1 4.3 0 4.2-1.1 4.3-2.9 4.2 6.2 4.3-3.1 4.2 0.3 4.3-2.1 4.2 2.4 4.3 3.6 4.2-6.5 4.3 4.6 4.2-2.2 4.3 2.5 4.2-0.1 4.3-1.4 4.2-3.4 4.3-0.4 4.2 5 4.3-4.2 4.2 3.6 4.3-2.2 4.2-0.4" fill="none" stroke="#bf00bf" stroke-width="2.6" stroke-linejoin="round" stroke-linecap="square"/><path d="M170.4 1061.5v18.2m4.2-12.4v13.6m4.3-8.3v10.1m4.2-5.6v12.1m4.3-9.4v10.4m4.2-13.8v8.1m4.3-4.3v9.3m4.2-8.7v5.2m4.3-12.1v6.7m4.2-0.9v4.9m4.3-11.6v5.6m4.2 2.7v2.6m4.3-7v4.7m4.2-1.2v3.6m4.3-6v3.4m4.2-1.4v3.2m4.3-6v5.5m4.2-4.5v4.3m4.3-2.9v1.9m4.2-3.4v2.5m4.3-3.7v2.8m4.2 0v2m4.3-3.8v2.2m4.2-1.3v2.3m4.3-2.9v3.7m4.2-5.9v2.5m4.3 2.6v2.8m4.2-4.1v2m4.3-0.7v2m4.2-4.1v2.7m4.3-2.7v2.6m4.2-4.8v1.7m4.3-0.2v2.6m4.2-3.6v2.1m4.3-2v2.2m4.2-0.4v2.8m4.3-3.7v2.3m4.2-3v1.7m4.3-0.7v2.4m4.2-2.2v1.9m4.3-1.8v1.5m4.2 0.3v1.8m4.3-2.7v2.3m4.2-3.4v1.8m4.3-2.5v2.6m4.2-0.7v2.4m4.3-2.9v1.9m4.2-2.2v2m4.3-2.2v2.6m4.2-3.7v2.8m4.3-1.7v2m4.2-2.3v2.5m4.3-0.7v2.2m4.2-2.5v2.4m4.3-3.6v1.7m4.2 0v1.8m4.3-4.1v2.8m4.2-1.6v2.7m4.3-2.3v2.1m4.2-3.4v1.7m4.3-0.6v2.4m4.2-2.3v2.4m4.3-3.1v3.8m4.2-4.1v2.3m4.3-5.5v2.8m4.2 3.4v2.9m4.3-5.9v2.5m4.2-2.7v3.6m4.3-5.9v4m4.2-1v2.8m4.3 0.5v3.4m4.2-10.2v4m4.3 0.3v4.6m4.2-6.8v4.6m4.3-1.6v3.6m4.2-4.1v4.4m4.3-6.1v5.1m4.2-8.4v4.8m4.3-5.4v5.3m4.2-1.6v7.8m4.3-12.4v8.6m4.2-4.6v7.8m4.3-11.3v10.4m4.2-12.8v14.4" stroke="#bf00bf" stroke-width="2.4" fill="none" marker-start="url(#c5)" marker-mid="url(#c5)" marker-end="url(#c5)"/><path d="M170.4 1080l27.2 0 27.1 0 27.2 0 27.2 0 27.2 0 27.2 0 27.1 0 27.2 0 27.2 0 27.2 0 27.2 0 27.1 0 27.2 0" fill="none" stroke="#000" stroke-width="3.2" stroke-linecap="square"/><path d="M170.4 1062.2l4.2 19 4.3-0.1 4.2 1.1 4.3-9.7 4.2 2.7 4.3 2.9 4.2 0 4.3 3.9 4.2-1.6 4.3-0.8 4.2 0.3 4.3 1.9 4.2-0.6 4.3-2 4.2 0.3 4.3 3 4.2-2.6 4.3-1.4 4.2 2.3 4.3-1 4.2 1.7 4.3-2.3 4.2 2.1 4.3 0.2 4.2-1.2 4.3-2.2 4.2 2.8 4.3 0.6 4.2-1.9 4.3 0.2 4.2-1.3 4.3 2.8 4.2 0.1 4.3-1 4.2-0.7 4.3 0 4.2-0.6 4.3 2.2 4.2-0.5 4.3-0.6 4.2-1 4.3 0.4 4.2 0.9 4.3 0.6 4.2-2.1 4.3 0.1 4.2-1 4.3 2.1 4.2-2.1 4.3 3.1 4.2-0.6 4.3 0.1 4.2-0.2 4.3 0.5 4.2-0.5 4.3-0.4 4.2 0.5 4.3-1.4 4.2 0.9 4.3-0.1 4.2-1.6 4.3 1.3 4.2 0.1 4.3 0.3 4.2-0.1 4.3-0.6 4.2 1.7 4.3-2.6 4.2-0.5 4.3 0.1 4.2 2.7 4.3 2 4.2-1.9 4.3-1.1 4.2-1.9 4.3 2.6 4.2 0.4 4.3-4.6 4.2 5.9 4.3-5.9 4.2 0.1 4.3 10.1 4.2-8.1" fill="none" stroke="#ffa500" stroke-width="2.6" stroke-linejoin="round" stroke-linecap="square"/><path d="M170.4 1047.6v29.2m4.2-2.1v13.1m4.3-11.6v9.7m4.2-7.9v8.4m4.3-17.7v7.6m4.2-4v5.8m4.3-3.7v7.5m4.2-6.2v4.9m4.3-1.2v5.1m4.2-6.4v4.6m4.3-5.1v4m4.2-3v2.6m4.3-1.6v4.3m4.2-4.2v3m4.3-5v3m4.2-2.8v3.3m4.3 0v2.6m4.2-5.7v3.6m4.3-4.3v2.2m4.2-0.1v2.6m4.3-4v3.3m4.2-0.9v2m4.3-4.5v2.4m4.2 0.1v1.6m4.3-2.1v3m4.2-3.6v1.9m4.3-3.8v1.3m4.2 0.5v3.1m4.3-2.3v2.7m4.2-4.5v2.5m4.3-2v2.1m4.2-3.3v1.8m4.3 1v1.8m4.2-1.6v1.6m4.3-3v2.4m4.2-3v2.1m4.3-2v1.9m4.2-2.4v1.8m4.3 0.3v2m4.2-2.5v1.9m4.3-3v2.9m4.2-3.7v2.7m4.3-1.8v1.6m4.2-0.9v1.9m4.3-1.2v1.7m4.2-3.9v2m4.3-1.9v2.1m4.2-2.8v1.5m4.3 0.4v1.8m4.2-4.1v2.3m4.3 0.8v2.1m4.2-2.6v2m4.3-1.8v1.8m4.2-2.3v2.5m4.3-2v2.3m4.2-2.6v2.1m4.3-2.7v2.4m4.2-1.8v2.1m4.3-3.7v2.6m4.2-1.5v2.3m4.3-2.7v2.9m4.2-4.4v2.6m4.3-1v2m4.2-2.6v3.4m4.3-2.4v1.9m4.2-2.6v3.1m4.3-3.2v2.2m4.2-0.6v2.4m4.3-5v2.4m4.2-3v2.5m4.3-2.9v3.5m4.2-0.4v2.8m4.3-1.3v3.8m4.2-5.4v3.1m4.3-4.5v3.8m4.2-6.5v5.4m4.3-1.9v3.5m4.2-4.2v5.8m4.3-9.7v4.3m4.2 1.6v4.3m4.3-11.3v6.6m4.2-7.3v8.1m4.3 0.5v11.1m4.2-19.5v11.9" stroke="#ffa500" stroke-width="2.4" fill="none" marker-start="url(#c6)" marker-mid="url(#c6)" marker-end="url(#c6)"/><path d="M170.4 1080l27.2 0 27.1 0 27.2 0 27.2 0 27.2 0 27.2 0 27.1 0 27.2 0 27.2 0 27.2 0 27.2 0 27.1 0 27.2 0" fill="none" stroke="#000" stroke-width="3.2" stroke-linecap="square"/></g>
<g clip-path="url(#k40)"><path d="M170.4 1336.5l4.2-17 4.3 9.7 4.2-4.6 4.3-9.9 4.2 7.8 4.3 0.1 4.2-0.7 4.3-0.9 4.2-4 4.3 6.1 4.2-0.2 4.3-3.9 4.2 4.2 4.3-2.4 4.2-2.7 4.3 2 4.2 0.8 4.3 0.1 4.2 0.4 4.3-0.4 4.2-1.2 4.3-1.8 4.2 1 4.3 1.8 4.2 0.3 4.3-2.1 4.2 4 4.3-2.4 4.2-0.1 4.3 0.8 4.2 0.2 4.3-1.8 4.2 2.8 4.3-1.1 4.2-0.4 4.3-1 4.2 1.7 4.3-3.1 4.2 1.8 4.3 0 4.2 0.1 4.3 0.5 4.2 0.4 4.3-2.9 4.2 1.3 4.3 0.4 4.2-1.4 4.3 2.3 4.2-1.8 4.3 0.8 4.2 0.9 4.3-2.1 4.2 3.1 4.3-2.9 4.2 2.2 4.3-1.8 4.2-1.7 4.3 1.5 4.2 1.7 4.3-0.9 4.2 0.6 4.3 0.8 4.2 0.3 4.3-1.8 4.2-0.7 4.3 3.7 4.2-2.8 4.3-1.1 4.2 0.8 4.3 2.7 4.2-4.3 4.3 4.1 4.2-3.7 4.3-1.7 4.2 8.5 4.3-5.9 4.2-0.2 4.3 0.1 4.2 3.6 4.3-1.1 4.2 5.4 4.3-7.6 4.2-11.7" fill="none" stroke="#0000ff" stroke-width="2.6" stroke-linejoin="round" stroke-linecap="square"/><path d="M170.4 1323v27m4.2-38.2v15.5m4.3-4.8v13.5m4.2-16.7v10.7m4.3-19.5v8.4m4.2-0.5v8.2m4.3-7.9v7.8m4.2-7.2v5.2m4.3-5.4v3.7m4.2-8.2v4.7m4.3 0.7v6.3m4.2-5.2v3.7m4.3-7.4v3.2m4.2 0.6v4m4.3-6.7v4.6m4.2-6.9v3.8m4.3-2.1v4.4m4.2-3.1v3.5m4.3-3.1v2.8m4.2-2.6v3.1m4.3-3.4v2.9m4.2-4.5v3.9m4.3-5.6v3.6m4.2-2.1v2.6m4.3-0.8v2.6m4.2-2.7v3.5m4.3-5.2v2.6m4.2 1v3.4m4.3-4.9v1.6m4.2-2v2.1m4.3-1.4v2.5m4.2-2.4v2.6m4.3-4.3v2.3m4.2 0.6v2.3m4.3-4.1v3.6m4.2-3.7v2.9m4.3-3.4v2m4.2-0.6v2.5m4.3-5.8v2.9m4.2-0.9v2.6m4.3-2.6v2.6m4.2-2.2v2.1m4.3-1.9v2.7m4.2-2.6v3.2m4.3-5.9v2.9m4.2-1.3v2.3m4.3-2.2v2.8m4.2-4.1v2.6m4.3-0.6v3.2m4.2-4.4v2m4.3-1.5v2.6m4.2-1.6v2.4m4.3-4.7v2.9m4.2 0.3v2.7m4.3-6.4v4.2m4.2-1.2v2.6m4.3-4.7v3.2m4.2-4.8v3.1m4.3-1.3v2.4m4.2-1v2.9m4.3-3.4v2.3m4.2-1.7v2.2m4.3-1.8v3.1m4.2-2.8v3m4.3-5v3.5m4.2-4v3m4.3 0.5v3.3m4.2-6v3.2m4.3-5v4.6m4.2-3.1v3.3m4.3-1.9v5.8m4.2-8.8v3.1m4.3 0.7v3.8m4.2-9v6.8m4.3-7v3.9m4.2 3.2v6.7m4.3-11.7v4.8m4.2-5.8v6.3m4.3-6.3v6.7m4.2-3.7v7.7m4.3-9.3v8.9m4.2-3.5v8.8m4.3-16.9v9.8m4.2-26.3v19.4" stroke="#0000ff" stroke-width="2.4" fill="none" marker-start="url(#c0)" marker-mid="url(#c0)" marker-end="url(#c0)"/><path d="M170.4 1320l27.2 0 27.1 0 27.2 0 27.2 0 27.2 0 27.2 0 27.1 0 27.2 0 27.2 0 27.2 0 27.2 0 27.1 0 27.2 0" fill="none" stroke="#000" stroke-width="3.2" stroke-linecap="square"/><path d="M170.4 1311.8l4.2 9.1 4.3 2.1 4.2 0.4 4.3-3.1 4.2 2 4.3-4.5 4.2 3.3 4.3-5.2 4.2 1.8 4.3 4.4 4.2-3.9 4.3 2.6 4.2-2.8 4.3 1.5 4.2 0.7 4.3-1 4.2 1.6 4.3-1 4.2-0.2 4.3 0.7 4.2-0.7 4.3 1.5 4.2-1.5 4.3 1.7 4.2-1.8 4.3 0.1 4.2-0.1 4.3 1.1 4.2-2.7 4.3 2.4 4.2-0.4 4.3 0.8 4.2-2 4.3 1.8 4.2-1.4 4.3 1.8 4.2-1.1 4.3 0.6 4.2-1.3 4.3 1.2 4.2 0.6 4.3-1.3 4.2 1.5 4.3-0.3 4.2-1.5 4.3 2.8 4.2-2.8 4.3 1.2 4.2 0.5 4.3-1.2 4.2-0.4 4.3 1.2 4.2-0.4 4.3-0.9 4.2 0 4.3 0.8 4.2 0.7 4.3 0 4.2-0.1 4.3-1.2 4.2-0.2 4.3 0.4 4.2-1.4 4.3 2.1 4.2 0.1 4.3 0 4.2-3 4.3 5.2 4.2-3.1 4.3-0.3 4.2 0.7 4.3-3.4 4.2 1.8 4.3 0.2 4.2 3.2 4.3-2.9 4.2 2.3 4.3-1.2 4.2-0.6 4.3 2.7 4.2-5.1 4.3-4.8 4.2 1.6" fill="none" stroke="#008000" stroke-width="2.6" stroke-linejoin="round" stroke-linecap="square"/><path d="M170.4 1300.2v23.2m4.2-7.8v10.6m4.3-9.4v12.4m4.2-10.7v9.9m4.3-12.1v8.1m4.2-5.3v6.4m4.3-11.2v7m4.2-2.6v4.9m4.3-11.2v7m4.2-3.6v3.7m4.3 1.1v2.9m4.2-7.3v3.9m4.3-0.7v2.9m4.2-6v3.3m4.3-1.5v2.7m4.2-2v2.8m4.3-3.9v3.1m4.2-1.2v2.4m4.3-3.4v2.3m4.2-2.6v2.6m4.3-1.7v2.1m4.2-2.9v2.4m4.3-0.5v1.6m4.2-3.2v1.7m4.3 0v1.9m4.2-4v2.4m4.3-2.4v2.5m4.2-2.1v1.5m4.3-0.7v2.2m4.2-4.8v2.1m4.3 0.3v1.9m4.2-2.3v2m4.3-1.2v2m4.2-3.9v1.8m4.3 0v1.8m4.2-3.3v2m4.3 0v1.6m4.2-2.6v1.5m4.3-1.2v2m4.2-3.4v2.1m4.3-0.7v1.8m4.2-1.4v2.2m4.3-3.6v2.4m4.2-0.7v2m4.3-2v1.5m4.2-3.5v2.4m4.3 0.4v2.3m4.2-5.1v2.3m4.3-1.2v2.5m4.2-1.7v1.9m4.3-3.1v2m4.2-2.3v1.9m4.3-0.7v1.8m4.2-2.7v2.9m4.3-3.4v2.1m4.2-1.8v1.5m4.3-1.2v2.4m4.2-1.5v2m4.3-2v2m4.2-2.3v2.3m4.3-3.2v1.7m4.2-2.5v3m4.3-2.5v2.8m4.2-4.1v2.6m4.3-0.4v2.3m4.2-2.2v2.3m4.3-2.5v2.9m4.2-5.7v2.4m4.3 2.6v2.7m4.2-5.9v3.1m4.3-3.5v3.3m4.2-3.1v4.1m4.3-6.7v2.7m4.2-1.1v2.9m4.3-3.1v3.7m4.2-0.8v4.5m4.3-7.6v4.8m4.2-3.3v6.5m4.3-8.3v7.5m4.2-7v5.5m4.3-4.7v9.1m4.2-14.4v9.5m4.3-14.6v10.1m4.2-9.7v12.7" stroke="#008000" stroke-width="2.4" fill="none" marker-start="url(#c1)" marker-mid="url(#c1)" marker-end="url(#c1)"/><path d="M170.4 1320l27.2 0 27.1 0 27.2 0 27.2 0 27.2 0 27.2 0 27.1 0 27.2 0 27.2 0 27.2 0 27.2 0 27.1 0 27.2 0" fill="none" stroke="#000" stroke-width="3.2" stroke-linecap="square"/><path d="M170.4 1318.9l4.2-11.3 4.3 15.7 4.2-3 4.3-1.4 4.2 2.8 4.3-1.3 4.2-2.7 4.3 2.3 4.2-3.2 4.3 4.9 4.2-2.1 4.3 2.9 4.2-2.3 4.3 0.9 4.2-3.5 4.3 1.3 4.2 0.5 4.3-2 4.2 1 4.3 0.4 4.2 2.1 4.3 0.7 4.2-1.6 4.3 0.4 4.2 0.4 4.3-0.5 4.2 1.4 4.3-3.6 4.2 3 4.3-0.2 4.2-1.6 4.3 2.4 4.2-2.6 4.3-0.4 4.2 1.7 4.3 0.7 4.2-0.5 4.3 1.5 4.2-3.6 4.3 1.4 4.2 0.9 4.3 0.4 4.2-1.9 4.3-0.7 4.2 3.2 4.3-1.1 4.2 1.1 4.3-2.6 4.2 0.6 4.3-2.4 4.2 2.8 4.3 0.3 4.2 0.3 4.3-1.7 4.2 3.1 4.3-3.1 4.2 0.5 4.3 1 4.2 0.7 4.3-2.7 4.2-0.9 4.3 3 4.2-1.4 4.3-1.5 4.2 3.1 4.3-0.5 4.2 1.3 4.3-1.4 4.2-0.2 4.3 0.6 4.2 0.9 4.3 2.2 4.2-0.8 4.3-0.8 4.2-4.1 4.3 3.4 4.2 0.6 4.3-4.1 4.2 0.1 4.3 4.7 4.2-0.5 4.3-6.1 4.2 1.5" fill="none" stroke="#ff0000" stroke-width="2.6" stroke-linejoin="round" stroke-linecap="square"/><path d="M170.4 1308.5v20.8m4.2-31.6v19.8m4.3-0.4v12.5m4.2-15v11.3m4.3-10.6v7.3m4.2-5.6v9.4m4.3-10.3v8.7m4.2-9.8v5.5m4.3-3.5v6m4.2-9.2v5.9m4.3 0v4m4.2-7v5.7m4.3-1.5v3.1m4.2-5.1v2.5m4.3-1.9v3.2m4.2-7.2v4.2m4.3-2.6v3.5m4.2-2.4v2.4m4.3-5v3.6m4.2-2v2.5m4.3-3v4.3m4.2-2.2v4.2m4.3-2.6v2.4m4.2-3.8v2m4.3-1.7v2.2m4.2-1.8v2.3m4.3-2.9v2.5m4.2-1v2.2m4.3-5.8v2.2m4.2 1v1.8m4.3-2.5v2.8m4.2-4.2v2.4m4.3 0.4v1.5m4.2-4.4v2.3m4.3-3v2.9m4.2-1.2v2.8m4.3-1.8v2.2m4.2-2.8v2.5m4.3-1v2.5m4.2-6.3v2.7m4.3-1.3v2.8m4.2-1.7v2.5m4.3-2.2v2.7m4.2-4.4v2.2m4.3-3v2.4m4.2 0.4v3.3m4.3-4v2.5m4.2-1v1.6m4.3-4.4v2.1m4.2-1.3v1.7m4.3-4.8v3m4.2-0.1v2.7m4.3-2.1v2.3m4.2-2v2.2m4.3-4.5v3.4m4.2-0.3v3.4m4.3-5.9v2.1m4.2-2.2v3.4m4.3-1.7v2m4.2-1.5v2.3m4.3-5.2v2.8m4.2-4.1v3.7m4.3-1v4.2m4.2-5v2.9m4.3-4.2v2.5m4.2 0.3v3.1m4.3-4v4.1m4.2-2v2.3m4.3-4v3m4.2-4.2v5.1m4.3-3.9v3.8m4.2-3.9v5.8m4.3-3.3v5.2m4.2-6.3v5.8m4.3-5.9v4.4m4.2-9.6v6.6m4.3-3.9v8m4.2-6.4v6.1m4.3-10.1v5.9m4.2-6.8v7.9m4.3-2.8v6.9m4.2-7v6.3m4.3-15.8v13m4.2-13.1v16.2" stroke="#ff0000" stroke-width="2.4" fill="none" marker-start="url(#c2)" marker-mid="url(#c2)" marker-end="url(#c2)"/><path d="M170.4 1320l27.2 0 27.1 0 27.2 0 27.2 0 27.2 0 27.2 0 27.1 0 27.2 0 27.2 0 27.2 0 27.2 0 27.1 0 27.2 0" fill="none" stroke="#000" stroke-width="3.2" stroke-linecap="square"/><path d="M170.4 1322.3l4.2 4.9 4.3-13.9 4.2 11.1 4.3-6.1 4.2-3.4 4.3-1.2 4.2 2.4 4.3 2.5 4.2 3.9 4.3-5.9 4.2 0.6 4.3 1 4.2 0.3 4.3 1.4 4.2 0.9 4.3-2.5 4.2-0.1 4.3 3.4 4.2-2.9 4.3 0.9 4.2-0.9 4.3 1 4.2-1.5 4.3 0.6 4.2 0 4.3 3.2 4.2-3.2 4.3 1.1 4.2 1.7 4.3-2.6 4.2 3 4.3-2.9 4.2-1 4.3 2.5 4.2-1.7 4.3 0.4 4.2 0 4.3 2.6 4.2-2.7 4.3 0.6 4.2-0.6 4.3 0.8 4.2-1.4 4.3 1 4.2-0.4 4.3-1.1 4.2 1.7 4.3-0.7 4.2 0.6 4.3-0.4 4.2 1.3 4.3-1.5 4.2-0.8 4.3 1.8 4.2-1.1 4.3 0.5 4.2 1.8 4.3-1.9 4.2-1.2 4.3 2.5 4.2 2.1 4.3-3.2 4.2 1.2 4.3-4 4.2 3.2 4.3 0 4.2 1.1 4.3-1.5 4.2 1.3 4.3 0.6 4.2-1.4 4.3 1.4 4.2-4.6 4.3 5.4 4.2-2.2 4.3 1.6 4.2 2.1 4.3-9.3 4.2 12.6 4.3-12.9 4.2 10.7 4.3-5.7 4.2-12" fill="none" stroke="#bfbf00" stroke-width="2.6" stroke-linejoin="round" stroke-linecap="square"/><path d="M170.4 1315.4v13.7m4.2-9v14.2m4.3-29.1v16.3m4.2-2.1v10m4.3-14.1v6.1m4.2-10.9v8.7m4.3-8.8v6.7m4.2-4.3v6.7m4.3-3.7v5.6m4.2-0.9v4.1m4.3-10.7v5.4m4.2-5v5.7m4.3-4.7v5.8m4.2-4.3v3.4m4.3-2.3v3.9m4.2-2.5v3m4.3-5.4v2.8m4.2-2.8v2.6m4.3 0.7v2.8m4.2-5.3v2.1m4.3-1.4v2.4m4.2-3.5v2.7m4.3-1.6v2.5m4.2-4.7v3.9m4.3-2.3v2.1m4.2-2.5v2.7m4.3 0.3v3.2m4.2-6.5v3.3m4.3-1.4v1.9m4.2-0.7v2.8m4.3-5.9v3.8m4.2-0.3v2.8m4.3-5.1v1.7m4.2-2.8v1.8m4.3 0.3v2.6m4.2-4.1v2.2m4.3-2.6v3.8m4.2-3v2.1m4.3 0v3.2m4.2-5.8v3m4.3-2.2v2.7m4.2-2.9v1.8m4.3-1.6v2.9m4.2-4v2.5m4.3-1.7v2.8m4.2-3v2.3m4.3-3.5v2.6m4.2-0.6v2m4.3-2.3v1.2m4.2-1.3v2.6m4.3-3.1v2.7m4.2-1.1v2.2m4.3-3.7v2.2m4.2-3.8v3.8m4.3-1.8v3.4m4.2-4.1v2.5m4.3-2.3v3.1m4.2-0.8v2.1m4.3-4.6v3.3m4.2-4.1v2.5m4.3-0.2v2.9m4.2-1.1v3.7m4.3-6.9v3.6m4.2-1.8v2.4m4.3-6.9v3.3m4.2-0.1v3.5m4.3-3.5v3.3m4.2-2.4v3.8m4.3-4.9v2.9m4.2-1.7v3.2m4.3-2.8v3.6m4.2-5.1v3.7m4.3-2.5v4.1m4.2-8.8v4.5m4.3 1.3v3.6m4.2-6.3v4.6m4.3-3.2v4.9m4.2-3.1v5.7m4.3-15.5v6.7m4.2 5.8v6.8m4.3-19.7v6.9m4.2 2.7v9m4.3-17.3v14.3m4.2-25.4v12.4" stroke="#bfbf00" stroke-width="2.4" fill="none" marker-start="url(#c3)" marker-mid="url(#c3)" marker-end="url(#c3)"/><path d="M170.4 1320l27.2 0 27.1 0 27.2 0 27.2 0 27.2 0 27.2 0 27.1 0 27.2 0 27.2 0 27.2 0 27.2 0 27.1 0 27.2 0" fill="none" stroke="#000" stroke-width="3.2" stroke-linecap="square"/><path d="M170.4 1312.5l4.2 17.4 4.3-7.5 4.2-3.3 4.3-1.2 4.2 2.2 4.3 0.1 4.2 1.7 4.3-0.4 4.2-2.4 4.3-0.6 4.2-0.1 4.3-0.5 4.2-0.6 4.3 5.9 4.2-2.3 4.3-0.7 4.2 1.1 4.3-2.9 4.2 0.5 4.3 1.2 4.2-0.3 4.3-1.5 4.2 2.1 4.3 0 4.2-1.5 4.3 0.4 4.2-1.1 4.3 1.3 4.2-0.4 4.3 1.5 4.2 0.4 4.3-1 4.2 2.8 4.3-3.3 4.2-0.5 4.3 0.9 4.2 0.3 4.3-1.6 4.2 1.4 4.3-1.1 4.2-1.3 4.3 1.6 4.2-0.7 4.3 0.9 4.2 0.3 4.3-0.1 4.2 0.3 4.3-1.4 4.2 3.2 4.3-1.4 4.2-1.5 4.3 2.2 4.2-0.9 4.3 0.7 4.2-1.5 4.3-0.3 4.2-1 4.3 1.3 4.2 1.7 4.3-1.4 4.2-0.4 4.3-1 4.2 4.1 4.3-3 4.2 3 4.3-3.4 4.2 0.2 4.3 0.1 4.2-0.9 4.3 1 4.2 2 4.3-2.1 4.2-1.7 4.3 2.7 4.2-0.3 4.3 2.7 4.2-5.8 4.3 4.8 4.2 0.6 4.3-0.4 4.2 2.3 4.3-2.6 4.2-9.1" fill="none" stroke="#00bfbf" stroke-width="2.6" stroke-linejoin="round" stroke-linecap="square"/><path d="M170.4 1299.9v25.3m4.2-4.7v18.9m4.3-24.8v15.6m4.2-17.3v12.4m4.3-12.7v10.7m4.2-8.6v10.9m4.3-10v9.2m4.2-5.7v5.5m4.3-6.1v6m4.2-8.3v5.8m4.3-6.1v5.2m4.2-4.9v4.4m4.3-5.1v4.7m4.2-4.9v4.1m4.3 2.4v2.7m4.2-5.5v3.7m4.3-4.1v3.1m4.2-2.8v4.7m4.3-7v3.6m4.2-2.8v3m4.3-1.9v3.3m4.2-3.2v2.4m4.3-3.8v2.2m4.2-0.2v2.3m4.3-2.7v3.1m4.2-4.4v2.8m4.3-2.8v3.7m4.2-4.2v2.5m4.3-0.9v1.9m4.2-2.8v2.8m4.3-1.3v2.9m4.2-2.1v2m4.3-3.1v2.2m4.2 0.3v2.8m4.3-6.1v2.8m4.2-2.9v1.9m4.3-1.3v2.5m4.2-1.9v2m4.3-3.6v2.1m4.2-0.7v2.1m4.3-3.4v2.4m4.2-3.5v2.1m4.3-0.6v2.1m4.2-2.7v2.1m4.3-1.8v3.2m4.2-2.4v2.1m4.3-2.5v2.8m4.2-2.2v2.2m4.3-4v3m4.2 0.8v1.8m4.3-3.5v2.3m4.2-4.5v3.7m4.3-1.1v3m4.2-3.5v2.2m4.3-1.6v2.5m4.2-4.2v2.9m4.3-3.4v3.2m4.2-3.7v2.3m4.3-1.3v2.8m4.2-1.1v2.8m4.3-4.3v3m4.2-3.4v3m4.3-3.9v2.7m4.2 1.6v2.4m4.3-5.9v3.5m4.2 0v2.4m4.3-6.1v3m4.2-2.9v3.2m4.3-3.1v3.1m4.2-4.1v3.4m4.3-2.5v3.6m4.2-2.2v4.8m4.3-6.7v4.5m4.2-6.2v4.5m4.3-2.8v6.5m4.2-5.4v3.5m4.3-1.4v4.9m4.2-11.2v5.7m4.3-1.4v6.8m4.2-5.5v5.3m4.3-7.8v9.6m4.2-8.6v12.1m4.3-16.7v16.2m4.2-23.3v12.1" stroke="#00bfbf" stroke-width="2.4" fill="none" marker-start="url(#c4)" marker-mid="url(#c4)" marker-end="url(#c4)"/><path d="M170.4 1320l27.2 0 27.1 0 27.2 0 27.2 0 27.2 0 27.2 0 27.1 0 27.2 0 27.2 0 27.2 0 27.2 0 27.1 0 27.2 0" fill="none" stroke="#000" stroke-width="3.2" stroke-linecap="square"/><path d="M170.4 1306.1l4.2 26.4 4.3-6.5 4.2-4.4 4.3-0.8 4.2 4.3 4.3-2 4.2-0.8 4.3-5.4 4.2 2.2 4.3 1.6 4.2-0.1 4.3-1.1 4.2 1.7 4.3-0.9 4.2 2.7 4.3-4 4.2-0.4 4.3 0.9 4.2-0.2 4.3 0.3 4.2-2.9 4.3 3.1 4.2 2 4.3-0.2 4.2-2.4 4.3-0.5 4.2 0.5 4.3-0.3 4.2 0.9 4.3 1.7 4.2-0.5 4.3 1.3 4.2-1.9 4.3 1.4 4.2-1.9 4.3 0.4 4.2 2.4 4.3-3.5 4.2 0 4.3 2.2 4.2-1.6 4.3-0.6 4.2 1.2 4.3-1.4 4.2 0.8 4.3-0.9 4.2 0.9 4.3 0.4 4.2-0.8 4.3-0.3 4.2 0.6 4.3 0.8 4.2 0.3 4.3-0.3 4.2 0.2 4.3-0.9 4.2 0.1 4.3 0.2 4.2-0.1 4.3-0.2 4.2-2.3 4.3 0.8 4.2 2.5 4.3-1.3 4.2 1.1 4.3-0.4 4.2 0.2 4.3 0.6 4.2 1.1 4.3 2.2 4.2-4.6 4.3-2.2 4.2 4.1 4.3-2.6 4.2 1.8 4.3-1.6 4.2 2.7 4.3-1.2 4.2-0.2 4.3 8.1 4.2-9.7 4.3 2.1 4.2 13.7" fill="none" stroke="#bf00bf" stroke-width="2.6" stroke-linejoin="round" stroke-linecap="square"/><path d="M170.4 1294.8v22.7m4.2 5.5v19.1m4.3-23.4v14.5m4.2-17v10.9m4.3-10.5v8.3m4.2-3.1v6.7m4.3-8.7v6.6m4.2-6.8v5.4m4.3-12.2v8.3m4.2-5.1v6.1m4.3-3.4v3.9m4.2-4.1v4.2m4.3-5.1v3.8m4.2-2.1v3.8m4.3-4v2.5m4.2-0.2v3.2m4.3-7.7v4.2m4.2-4.2v3.5m4.3-2.2v2.5m4.2-2.5v2.3m4.3-2.1v2.3m4.2-5.7v3.4m4.3 0v2.7m4.2-0.6v2.7m4.3-2.9v2.5m4.2-4.8v2.4m4.3-3.1v2.8m4.2-2v2.2m4.3-2.7v2.6m4.2-1.7v2.6m4.3-0.6v2.1m4.2-2.8v2.3m4.3-1.1v2.7m4.2-4.2v1.8m4.3-1.1v3.1m4.2-4.7v2.6m4.3-2.3v2.8m4.2-0.5v3m4.3-6.3v2.7m4.2-2.3v1.7m4.3 0.4v2.1m4.2-4.2v3.1m4.3-3.2v1.9m4.2-1v2.5m4.3-3.6v2m4.2-1.2v2m4.3-2.7v1.5m4.2-1v2.3m4.3-1.9v2.5m4.2-3.3v2.4m4.3-2.8v2.6m4.2-2v2.6m4.3-1.9v2.9m4.2-2.3v2.2m4.3-2.9v3.1m4.2-2.5v2.1m4.3-3.2v2.5m4.2-2.7v3.1m4.3-3.1v3.7m4.2-3.7v3.5m4.3-3.1v2.3m4.2-5.3v3.7m4.3-2.5v2.8m4.2-0.7v3.5m4.3-4.1v2.3m4.2-1.8v3.4m4.3-4.3v4.4m4.2-3.2v2.5m4.3-2.4v3.4m4.2-1.8v2.5m4.3-1v3.7m4.2-8.1v3.4m4.3-6.1v4.3m4.2 0.2v3.6m4.3-6.2v3.7m4.2-2.1v4.1m4.3-6.3v5.2m4.2-2.1v4.4m4.3-5.7v4.5m4.2-6.6v8.4m4.3 0.6v6.7m4.2-19.7v13.1m4.3-10.7v12.6m4.2 0.8v13.3" stroke="#bf00bf" stroke-width="2.4" fill="none" marker-start="url(#c5)" marker-mid="url(#c5)" marker-end="url(#c5)"/><path d="M170.4 1320l27.2 0 27.1 0 27.2 0 27.2 0 27.2 0 27.2 0 27.1 0 27.2 0 27.2 0 27.2 0 27.2 0 27.1 0 27.2 0" fill="none" stroke="#000" stroke-width="3.2" stroke-linecap="square"/><path d="M170.4 1324.1l4.2 3 4.3-3.7 4.2-4.6 4.3 10.8 4.2-1.8 4.3-9.7 4.2 1.9 4.3 1.7 4.2-4.8 4.3 1 4.2 7.9 4.3-5.3 4.2-2.4 4.3 3 4.2-0.4 4.3-2.2 4.2 2 4.3 1.3 4.2-0.9 4.3 1 4.2-2.6 4.3 2.7 4.2-3.3 4.3 4.1 4.2-2.8 4.3 1.9 4.2-1.4 4.3-1.9 4.2-0.3 4.3 0 4.2 1.8 4.3-0.2 4.2-0.2 4.3-0.7 4.2 1.5 4.3-1.6 4.2 0.7 4.3-1 4.2 0.8 4.3-0.3 4.2 1.9 4.3-0.5 4.2 0.8 4.3-0.9 4.2-0.2 4.3-1.3 4.2 2.5 4.3-4 4.2 2.8 4.3-1.7 4.2 0.3 4.3 4.1 4.2-2.5 4.3-2.3 4.2 4.4 4.3-3.8 4.2 2.6 4.3-0.6 4.2-1 4.3 3.5 4.2-3.5 4.3 1.4 4.2 0.2 4.3-2.2 4.2-2.2 4.3 2.6 4.2-0.4 4.3 1 4.2 1.3 4.3-1.8 4.2-2.4 4.3 2.5 4.2-1.8 4.3 2.7 4.2-5.4 4.3 9.7 4.2-6.6 4.3 0 4.2 1 4.3 4.7 4.2 1.1 4.3-3.3 4.2 11.4" fill="none" stroke="#ffa500" stroke-width="2.6" stroke-linejoin="round" stroke-linecap="square"/><path d="M170.4 1315v18.1m4.2-11.3v10.6m4.3-16.1v14.2m4.2-15.9v8.5m4.3 2.3v8.4m4.2-9.3v6.6m4.3-15.6v5.3m4.2-5.4v9.1m4.3-5.7v5.8m4.2-10.9v6.4m4.3-4.8v5.2m4.2 1.4v7.8m4.3-12.1v5.7m4.2-6.7v2.9m4.3 0v3.3m4.2-4v3.8m4.3-5.6v3m4.2-0.9v2.7m4.3-1.4v2.8m4.2-3.4v2.2m4.3-1.6v2.9m4.2-5.2v2.5m4.3 0.5v1.9m4.2-5.3v2m4.3 1.5v3.1m4.2-6.1v3.5m4.3-1.2v2.8m4.2-4.2v2.7m4.3-4v1.7m4.2-2.5v2.7m4.3-2.6v2.4m4.2-0.5v2.3m4.3-2.4v2m4.2-2.5v2.6m4.3-3.6v3.1m4.2-1.7v3.4m4.3-4.3v2.1m4.2-1.7v2.6m4.3-3.5v2.4m4.2-1.6v2.5m4.3-3.1v2.9m4.2-0.7v2.3m4.3-2.7v2.1m4.2-1.3v2.3m4.3-3.5v2.8m4.2-2.7v2.3m4.3-4.1v3.2m4.2-0.2v2.2m4.3-6.1v2.1m4.2 0.8v1.7m4.3-3.6v2.2m4.2-2.1v2.5m4.3 1.5v2.9m4.2-5.8v3.6m4.3-5.3v2.4m4.2 2.2v2.1m4.3-6.8v3.8m4.2-0.9v3.3m4.3-3.6v2.7m4.2-4v3.2m4.3-0.2v4.2m4.2-7.3v3.4m4.3-1.9v3.2m4.2-2.6v2.4m4.3-5.1v3.4m4.2-5.5v3.2m4.3-0.7v3.3m4.2-3.6v3.2m4.3-2v2.9m4.2-2v3.7m4.3-5.6v3.7m4.2-6.5v4.5m4.3-1.1v2.9m4.2-6.4v6.1m4.3-2.8v5.1m4.2-10.7v5.4m4.3 4.5v5m4.2-12.4v6.5m4.3-7.1v7.8m4.2-5.8v5.8m4.3-1v5.6m4.2-5.8v8.2m4.3-14.6v14.3m4.2-6.5v21.6" stroke="#ffa500" stroke-width="2.4" fill="none" marker-start="url(#c6)" marker-mid="url(#c6)" marker-end="url(#c6)"/><path d="M170.4 1320l27.2 0 27.1 0 27.2 0 27.2 0 27.2 0 27.2 0 27.1 0 27.2 0 27.2 0 27.2 0 27.2 0 27.1 0 27.2 0" fill="none" stroke="#000" stroke-width="3.2" stroke-linecap="square"/></g>
<g clip-path="url(#k01)"><path d="M595.4 362.7l4.2 14.5 4.3-28 4.2 0.8 4.3 25.8 4.2-3.8 4.3-14.3 4.2 1.1 4.3 0.6 4.2-1.9 4.3-1.2 4.2-1.4 4.3-3.9 4.2 8.8 4.3-3.1 4.2 8.7 4.3-5.3 4.2 4.4 4.3-10.1 4.2-3.6 4.3 6.4 4.2 6.9 4.3-4.3 4.2-0.5 4.3-0.8 4.2-2.7 4.3-0.2 4.2 10.4 4.3-11.5 4.2 6.3 4.3-0.2 4.2-6.1 4.3 5.2 4.2 3.5 4.3-0.4 4.2-4.6 4.3-3.2 4.2-1.7 4.3 5.4 4.2 1 4.3-8.4 4.2 8.3 4.3-7.5 4.2 4.6 4.3-0.1 4.2 1.4 4.3-2.3 4.2 2.9 4.3 0.9 4.2-2.1 4.3 1.2 4.2-3.1 4.3 0.6 4.2 1 4.3-0.4 4.2 0 4.3-8.9 4.2 7.9 4.3 2.2 4.2-1.4 4.3-3.7 4.2 3.1 4.3-0.4 4.2 0.2 4.3-2 4.2-1.3 4.3-0.5 4.2 9.9 4.3-2.5 4.2 5.3 4.3-16.5 4.2-2.5 4.3-2.1 4.2 8.3 4.3-7.9 4.2 9 4.3 0.2 4.2 16.8 4.3-9.1 4.2-1.9 4.3-19 4.2-12.9 4.3 31.1 4.2-13.5" fill="none" stroke="#0000ff" stroke-width="2.6" stroke-linejoin="round" stroke-linecap="square"/><path d="M595.4 344.5v36.5m4.2-14.5v21.3m4.3-48v18.7m4.2-16v14.9m4.3 12.9v11m4.2-15.8v13.1m4.3-28.9v16.1m4.2-12.5v11m4.3-10.5v11.2m4.2-13.4v11.8m4.3-10.9v7.7m4.2-11.4v12.2m4.3-13.5v7m4.2 0.8v8.9m4.3-11v7m4.2 2.4v5.5m4.3-10.1v4.2m4.2-1.6v7.7m4.3-17v6.2m4.2-10.9v8.4m4.3-2.4v9.1m4.2-0.8v6.4m4.3-10.6v6.3m4.2-7.7v7.9m4.3-8.8v8.1m4.2-9.2v5m4.3-6.2v7m4.2 3.6v6.6m4.3-17.9v6.2m4.2-0.3v7m4.3-6.5v5.5m4.2-11.5v5.4m4.3-0.4v5.8m4.2-1.9v5m4.3-6.4v7.1m4.2-10.9v5.4m4.3-9.2v6.7m4.2-7.4v4.7m4.3-0.4v6.9m4.2-5.4v5.7m4.3-17v11.5m4.2-0.5v6.2m4.3-13.6v6m4.2-1.9v7.1m4.3-7.5v7.6m4.2-4.5v4.3m4.3-9.1v9.3m4.2-5.3v7.1m4.3-5.6v5.8m4.2-9.3v8.5m4.3-5.6v5.2m4.2-8.3v5.2m4.3-5.1v6.1m4.2-4.8v5.6m4.3-5.6v4.8m4.2-6.9v9.1m4.3-17.4v7.8m4.2 0.4v7.1m4.3-5.5v8.4m4.2-9.3v7.5m4.3-11.4v7.8m4.2-4.9v8.3m4.3-9.1v9.1m4.2-8.2v7.5m4.3-10.3v9.1m4.2-10.1v8.6m4.3-9.1v8.7m4.2-0.1v11.2m4.3-12.4v8.6m4.2-3.4v8.8m4.3-26.6v11.4m4.2-15.1v13.7m4.3-15.9v14.1m4.2-6.4v15.2m4.3-21.1v11.2m4.2-6.9v20.6m4.3-16.6v13m4.2 0.3v20m4.3-29.7v21.2m4.2-20.7v16.4m4.3-39v23.7m4.2-38.4v27.2m4.3 6.6v21.8m4.2-39.6v30.4" stroke="#0000ff" stroke-width="2.4" fill="none" marker-start="url(#c0)" marker-mid="url(#c0)" marker-end="url(#c0)"/><path d="M595.4 360l27.2-0.1 27.1-0.1 27.2-0.3 27.2-0.4 27.2-0.5 27.2-0.6 27.1-0.8 27.2-0.8 27.2-1 27.2-1 27.2-1.2 27.1-1.3 27.2-1.4" fill="none" stroke="#000" stroke-width="3.2" stroke-linecap="square"/><path d="M595.4 317.1l4.2 91.7 4.3-62.6 4.2-7.8 4.3 18 4.2-5.2 4.3 20.2 4.2-22.4 4.3 4.7 4.2-4.9 4.3 6.4 4.2 1.8 4.3-7 4.2 13 4.3-6.6 4.2-4.1 4.3 10.4 4.2 2.9 4.3-8.4 4.2 1.1 4.3-2.5 4.2-0.2 4.3 5.9 4.2-4.7 4.3-4 4.2 6.9 4.3-0.4 4.2 4.6 4.3-9.8 4.2-6.1 4.3 15 4.2-9.6 4.3-1 4.2 7.9 4.3-1.8 4.2 3 4.3-1 4.2-5.3 4.3-3 4.2 2.8 4.3-3.5 4.2 2.4 4.3 6.6 4.2-14.1 4.3 3.1 4.2 8 4.3-11.8 4.2 5.5 4.3 1.5 4.2-10.3 4.3 21.2 4.2-4.2 4.3-10.4 4.2 3.8 4.3 4.2 4.2-13.7 4.3 5 4.2 9.2 4.3-3.9 4.2-8.7 4.3-6.4 4.2 22.3 4.3-13.8 4.2 3.2 4.3 8.4 4.2-10.1 4.3 9.1 4.2-7.4 4.3-14.3 4.2 6.4 4.3-3.5 4.2 1.8 4.3 1.5 4.2-7.1 4.3 20.7 4.2-9.1 4.3-12.9 4.2 16 4.3-2.7 4.2-23.9 4.3-3 4.2 30.1 4.3 3.9 4.2-25.1" fill="none" stroke="#008000" stroke-width="2.6" stroke-linejoin="round" stroke-linecap="square"/><path d="M595.4 282v70.2m4.2 16.7v79.9m4.3-116v26.8m4.2-32.1v21.7m4.3-1.8v18m4.2-27.4v26.3m4.3-4.6v23.5m4.2-43.7v19m4.3-12.4v15.2m4.2-24.1v23.2m4.3-12.5v14.6m4.2-10.5v10m4.3-18.4v12.7m4.2 1.7v10.1m4.3-15.8v8.1m4.2-14.4v12.6m4.3-0.2v8.5m4.2-6.5v10.5m4.3-17.5v7.5m4.2-8v10.8m4.3-11.5v7.3m4.2-8.8v9.9m4.3-2.7v7.1m4.2-12.9v9.4m4.3-11.8v6.3m4.2-1.5v10.4m4.3-9v6.9m4.2-3.4v8.9m4.3-18.7v9m4.2-14.8v8.3m4.3 7.2v7.3m4.2-16.6v6.7m4.3-8.8v8.9m4.2-2.6v12.2m4.3-13.3v10.8m4.2-6.8v8.9m4.3-10.9v10.8m4.2-14.9v8.4m4.3-11.7v9.1m4.2-5.6v7.5m4.3-12.7v11m4.2-7.6v9m4.3-3.4v11m4.2-24.9v10.6m4.3-6.9v9.4m4.2-0.9v8.4m4.3-20.6v9.2m4.2-3.7v9.3m4.3-6.8v7.1m4.2-19.2v10.7m4.3 11.6v8.5m4.2-12.5v8.2m4.3-18.3v7.5m4.2-4.7v9.6m4.3-6.2v11.2m4.2-23.2v7.8m4.3-3.4v8.9m4.2-0.4v10.4m4.3-13.6v8.9m4.2-19.5v12.8m4.3-18.9v12.1m4.2 10v12.6m4.3-25.5v10.8m4.2-6.8v9.2m4.3-2.9v13.4m4.2-21.4v9.1m4.3-1.9v13m4.2-20.2v12.7m4.3-26.4v11.3m4.2-5.8v13.2m4.3-16.8v13.5m4.2-12.2v14.3m4.3-11.2v11.2m4.2-19.9v14.5m4.3 1.5v23.8m4.2-29v16m4.3-28.2v14.6m4.2-2.3v22m4.3-23.6v19.7m4.2-42.1v16.8m4.3-28.7v34.6m4.2-4.9v35.3m4.3-31.2v35m4.2-63.6v42.1" stroke="#008000" stroke-width="2.4" fill="none" marker-start="url(#c1)" marker-mid="url(#c1)" marker-end="url(#c1)"/><path d="M595.4 360l27.2-0.1 27.1-0.4 27.2-0.6 27.2-0.8 27.2-1.1 27.2-1.3 27.1-1.6 27.2-1.8 27.2-2 27.2-2.3 27.2-2.5 27.1-2.8 27.2-3" fill="none" stroke="#000" stroke-width="3.2" stroke-linecap="square"/><path d="M595.4 360.7l4.2 17.3 4.3-25.1 4.2 11 4.3-24.1 4.2 29.4 4.3-16.2 4.2 11.4 4.3-11.1 4.2 13 4.3-11.1 4.2 6.7 4.3 1.4 4.2-3.3 4.3-3 4.2-0.1 4.3-8.4 4.2 6.3 4.3 12.7 4.2-7.1 4.3 7.7 4.2-8.1 4.3-4 4.2 7.7 4.3-2 4.2-4.9 4.3 1.8 4.2-7.5 4.3 4.5 4.2-1 4.3-4.1 4.2 8.4 4.3-2.6 4.2 3 4.3-4.8 4.2-4 4.3-1.6 4.2 6.3 4.3 2.2 4.2 0.6 4.3 3.2 4.2-7.8 4.3-6.5 4.2 14.6 4.3 1.6 4.2-16.8 4.3 11.8 4.2-7.1 4.3 5.7 4.2-8.6 4.3-0.5 4.2 2.5 4.3-3.2 4.2 2.9 4.3-2.7 4.2-6.6 4.3 3.1 4.2 7.9 4.3 0.5 4.2-3.2 4.3-0.3 4.2-2 4.3 3.6 4.2-7.6 4.3 2.8 4.2-2.1 4.3 1.4 4.2-4.3 4.3 10.9 4.2-17.7 4.3 7.1 4.2-1.8 4.3-2 4.2-5.2 4.3 1.4 4.2 4.9 4.3 3.1 4.2 15.1 4.3-19.7 4.2 4.7 4.3 0.7 4.2-40 4.3 64.8 4.2-73.2" fill="none" stroke="#ff0000" stroke-width="2.6" stroke-linejoin="round" stroke-linecap="square"/><path d="M595.4 337.5v46.4m4.2-20.6v29.3m4.3-54.4v29.5m4.2-14.1v20.7m4.3-43v17m4.2 11.5v18.7m4.3-31.3v11.5m4.2-3v17.3m4.3-25.4v11.5m4.2 0.4v13.6m4.3-23.4v11.1m4.2-4.3v10.8m4.3-8.6v9.2m4.2-13.4v11m4.3-12.6v8.1m4.2-8.3v8.5m4.3-18.9v12.5m4.2-3.5v7.1m4.3 6.1v6m4.2-14.8v9.4m4.3-1.7v9.4m4.2-16.6v7.6m4.3-10.8v6m4.2 1.3v6.8m4.3-9.5v8.1m4.2-12.7v7.6m4.3-6.9v9.9m4.2-15.6v6.3m4.3-3v8.7m4.2-9.2v7.6m4.3-10.9v6.1m4.2 0.1v10.4m4.3-11.9v8.1m4.2-3.9v5.8m4.3-11.5v7.6m4.2-13.9v12.2m4.3-13.1v10.7m4.2-3.1v8.2m4.3-5.1v6.4m4.2-7v8.7m4.3-5.8v9.5m4.2-17.6v10m4.3-15.4v7.9m4.2 7.1v6.9m4.3-5.6v7.6m4.2-25.8v10.4m4.3 2.4v8.4m4.2-14.4v6.3m4.3-1.4v7.7m4.2-17.2v9.7m4.3-9.4v8m4.2-4.9v6.7m4.3-11.2v9.3m4.2-6v8.6m4.3-11v8.1m4.2-16.3v11.1m4.3-7.1v9.3m4.2 0.1v6.5m4.3-7.5v9.4m4.2-12.1v8.4m4.3-11.1v13.2m4.2-12.9v8.7m4.3-6.4v11.3m4.2-18.5v10.4m4.3-7.8v10.8m4.2-11.3v7.7m4.3-7.8v10.6m4.2-15.1v10.9m4.3-1.7v14.5m4.2-33.2v16.3m4.3-5.7v9.4m4.2-12.3v11.7m4.3-14.3v12.8m4.2-18.9v14.6m4.3-14.2v16.7m4.2-11.8v16.6m4.3-13.8v17.1m4.2-1.4v16m4.3-34.6v13.7m4.2-9.7v15.3m4.3-24.4v34.8m4.2-76.4v38.1m4.3 33.5v24.5m4.2-120.6v70.2" stroke="#ff0000" stroke-width="2.4" fill="none" marker-start="url(#c2)" marker-mid="url(#c2)" marker-end="url(#c2)"/><path d="M595.4 360l27.2-0.1 27.1-0.5 27.2-0.7 27.2-1 27.2-1.2 27.2-1.6 27.1-1.8 27.2-2.1 27.2-2.4 27.2-2.7 27.2-3 27.1-3.2 27.2-3.5" fill="none" stroke="#000" stroke-width="3.2" stroke-linecap="square"/><path d="M595.4 386l4.2-19.2 4.3-11 4.2 13.2 4.3-7.2 4.2 1.9 4.3 2.7 4.2-12.7 4.3 8 4.2 4.5 4.3-3.1 4.2-4.1 4.3-13 4.2 12 4.3-8 4.2 5.7 4.3 14.4 4.2-12.7 4.3 5.2 4.2 2.3 4.3-1.9 4.2-11.2 4.3 13.6 4.2-4.2 4.3-8.3 4.2 3 4.3 11.4 4.2-8.7 4.3 1.8 4.2-1.7 4.3-5 4.2 6.3 4.3-0.9 4.2-8.8 4.3 14 4.2-5.7 4.3-4.3 4.2 8.4 4.3-3.4 4.2 2.9 4.3-6.6 4.2 3 4.3-5.9 4.2-0.9 4.3 3.6 4.2 1.7 4.3-2.8 4.2 0.4 4.3 5.6 4.2-10.9 4.3 3.9 4.2-3.3 4.3 10.7 4.2-11.4 4.3-4.8 4.2 5.7 4.3 9.2 4.2-6.7 4.3 0.2 4.2-1.6 4.3 2 4.2-3.7 4.3 4.8 4.2-4.3 4.3 5 4.2-4.9 4.3-6.6 4.2 9.5 4.3-7.1 4.2 8.5 4.3-2.7 4.2-1.3 4.3-12.5 4.2 17.8 4.3-16.1 4.2 19.9 4.3-10.8 4.2-13.8 4.3 2.7 4.2 22 4.3 4.6 4.2-34.6 4.3 42.8 4.2-42.1" fill="none" stroke="#bfbf00" stroke-width="2.6" stroke-linejoin="round" stroke-linecap="square"/><path d="M595.4 366.8v38.5m4.2-54.9v32.8m4.3-45.1v35.5m4.2-19.2v29.2m4.3-33v22.3m4.2-15.7v13m4.3-14.1v20.6m4.2-30.2v14.5m4.3-5v11.5m4.2-8.5v14.4m4.3-14.1v7.5m4.2-13.6v11.6m4.3-24.9v12.2m4.2 2v7.7m4.3-19v14.5m4.2-6.6v9.9m4.3 4.8v9.5m4.2-21.4v7.8m4.3-1.5v5.6m4.2-3.8v6.6m4.3-8.3v6.2m4.2-18.3v8m4.3 5v9.2m4.2-13.1v8.6m4.3-17v8.9m4.2-4v4.9m4.3 3.9v10.3m4.2-18v8.2m4.3-7.5v10.4m4.2-11.4v8.9m4.3-16.1v13.4m4.2-4.6v8.3m4.3-10.5v10.9m4.2-18v7.5m4.3 6.8v7m4.2-12.2v6m4.3-12.8v11.1m4.2-0.9v7.3m4.3-10.7v7.4m4.2-4.3v7m4.3-13.8v7.4m4.2-4.5v7.6m4.3-13.2v7m4.2-8.2v7.5m4.3-3.3v6.4m4.2-6.6v10.3m4.3-11.3v6.5m4.2-7.9v10.2m4.3-5.2v11.3m4.2-19.6v6.1m4.3-3.1v7.9m4.2-11.8v9.2m4.3 0.7v10.7m4.2-20.9v8.5m4.3-13.5v8.8m4.2-2.8v8.2m4.3 0.8v8.5m4.2-14.5v7.2m4.3-9v11.2m4.2-10.1v5.8m4.3-4.6v7.4m4.2-13v11.2m4.3-6.7v11.9m4.2-14.4v8.3m4.3-6.8v15.2m4.2-18.8v12.5m4.3-20.2v14.8m4.2-3v10.3m4.3-18.1v11.7m4.2-2.8v10.8m4.3-13v9.8m4.2-12.7v13.1m4.3-26.7v15.1m4.2-0.8v22.2m4.3-34.8v15.3m4.2 5.5v13.5m4.3-26.4v17.6m4.2-34.6v24m4.3-21.8v25m4.2-2.2v23.3m4.3-20.8v27.5m4.2-65.7v34.8m4.3 3.6v43.6m4.2-88.9v50.1" stroke="#bfbf00" stroke-width="2.4" fill="none" marker-start="url(#c3)" marker-mid="url(#c3)" marker-end="url(#c3)"/><path d="M595.4 360l27.2-0.1 27.1-0.2 27.2-0.5 27.2-0.6 27.2-0.7 27.2-0.9 27.1-1.1 27.2-1.3 27.2-1.5 27.2-1.6 27.2-1.7 27.1-2 27.2-2.1" fill="none" stroke="#000" stroke-width="3.2" stroke-linecap="square"/><path d="M595.4 327l4.2 31 4.3 29 4.2-29.8 4.3 23.5 4.2-11.7 4.3-19.2 4.2 0 4.3 11.7 4.2 4.6 4.3-12 4.2 5.8 4.3-1.7 4.2-2.1 4.3 9.5 4.2-10.7 4.3 14.4 4.2-16.9 4.3 14.5 4.2-3.4 4.3-0.8 4.2-5.9 4.3-1.3 4.2 1.5 4.3 0.1 4.2-1.2 4.3 3.7 4.2 9.2 4.3-1.1 4.2 0.2 4.3-8.6 4.2 0.6 4.3-0.4 4.2-1.8 4.3 2.1 4.2 3.6 4.3 2.2 4.2 0.8 4.3-13.2 4.2 1.3 4.3 9.6 4.2-4.5 4.3-3.3 4.2-4.3 4.3 8.5 4.2-3.1 4.3-4.7 4.2 14.6 4.3-5.4 4.2-3.9 4.3 3.5 4.2-13.3 4.3 4.6 4.2 3.7 4.3 5.7 4.2-9.1 4.3 0.9 4.2 6.3 4.3-1.4 4.2 5.6 4.3-7.4 4.2-5.8 4.3-1.9 4.2 3.8 4.3-0.3 4.2 7.2 4.3-0.8 4.2-9.7 4.3 3.2 4.2 8.5 4.3-8.5 4.2-4.4 4.3 0.7 4.2 5.1 4.3 5 4.2-7.9 4.3-13.1 4.2 14.6 4.3 9 4.2-13.1 4.3 24.7 4.2-22.3 4.3 9.5 4.2-28.7" fill="none" stroke="#00bfbf" stroke-width="2.6" stroke-linejoin="round" stroke-linecap="square"/><path d="M595.4 300v54m4.2-9.7v27.4m4.3-3.9v38.4m4.2-58.8v19.6m4.3 5.8v15.8m4.2-28.4v17.6m4.3-34.3v12.6m4.2-13.2v13.9m4.3 0.4v8.7m4.2-6.2v12.8m4.3-23.6v10.5m4.2-4.4v9.8m4.3-11.9v10.7m4.2-12.6v10.3m4.3-1.6v11.8m4.2-21.2v9.3m4.3 6v7.3m4.2-25.7v10.3m4.3 5.6v7.6m4.2-13v11.7m4.3-11.3v9.1m4.2-14.1v7.3m4.3-9.3v8.9m4.2-7.6v9.3m4.3-8.7v8.3m4.2-11.1v11.4m4.3-5.7v7.3m4.2-0.4v12.1m4.3-11.4v8.4m4.2-7.1v6.3m4.3-14.9v6.1m4.2-5.7v6.6m4.3-6.4v5.3m4.2-7.7v6.6m4.3-5v7.6m4.2-4.8v9.2m4.3-6.6v8.4m4.2-6.7v6.7m4.3-20.7v8.1m4.2-6.9v8.5m4.3 2.2v6.2m4.2-11.3v7.4m4.3-10.6v7.2m4.2-11.8v7.7m4.3 1.2v7m4.2-9.5v5.8m4.3-11.3v7.3m4.2 4.8v12.5m4.3-15.9v8.3m4.2-12.3v8.6m4.3-5v8.3m4.2-22.5v10.1m4.3-5.1v9.4m4.2-5v7.9m4.3-1.9v7.4m4.2-16.8v8m4.3-8.1v9.9m4.2-4.8v12.4m4.3-10.8v6.3m4.2-3.3v11.6m4.3-17.3v8.3m4.2-14.6v9.1m4.3-12.6v12.5m4.2-6.9v8.8m4.3-8.1v6.7m4.2-1.4v10.5m4.3-11.9v11.7m4.2-19.8v8.6m4.3-5.5v8.9m4.2-2.7v13.4m4.3-19.7v9m4.2-17.9v17.9m4.3-16.4v16.5m4.2-11.8v17.2m4.3-10.8v14.5m4.2-24.8v19.2m4.3-30.8v16.2m4.2-2.6v18.1m4.3-10.1v20.1m4.2-32.4v18.6m4.3 2.5v25.8m4.2-46.7v23m4.3-21.2v38.4m4.2-71.7v47.7" stroke="#00bfbf" stroke-width="2.4" fill="none" marker-start="url(#c4)" marker-mid="url(#c4)" marker-end="url(#c4)"/><path d="M595.4 360l27.2 0 27.1-0.1 27.2-0.2 27.2-0.3 27.2-0.3 27.2-0.4 27.1-0.4 27.2-0.6 27.2-0.6 27.2-0.6 27.2-0.8 27.1-0.8 27.2-0.9" fill="none" stroke="#000" stroke-width="3.2" stroke-linecap="square"/><path d="M595.4 367.2l4.2-8.4 4.3-2.8 4.2-7.8 4.3 12.5 4.2 11 4.3-22.1 4.2 6 4.3 1.5 4.2 10 4.3-7.1 4.2 12.7 4.3-0.8 4.2-10.3 4.3 1.3 4.2-5.9 4.3-4.3 4.2 7.3 4.3-9.8 4.2 12.8 4.3-7.2 4.2 9.2 4.3-5.8 4.2 1.8 4.3-0.5 4.2-3.1 4.3 9.4 4.2-7.7 4.3 4.4 4.2-4.5 4.3-1.3 4.2 3.4 4.3 0.1 4.2 3.9 4.3-8.1 4.2 5.4 4.3-5 4.2 8 4.3-12.4 4.2 10.3 4.3-10.1 4.2 7.6 4.3-4.4 4.2 3.2 4.3-4.4 4.2 3.7 4.3-5.3 4.2 2.3 4.3 0.1 4.2-5.1 4.3 11.3 4.2-12.1 4.3 8.2 4.2 8.7 4.3-10.7 4.2 3.2 4.3-10.7 4.2 12.2 4.3-3 4.2-1 4.3 11.5 4.2-13.3 4.3 9.4 4.2-13.5 4.3-2.6 4.2 9.4 4.3 8.8 4.2-10.1 4.3-0.4 4.2-5.4 4.3 9.3 4.2 5.4 4.3-7 4.2 5.8 4.3-24.5 4.2 25.4 4.3-0.8 4.2-6.9 4.3 14.3 4.2-10.3 4.3-3.2 4.2 6.3 4.3 21.6 4.2-61.3" fill="none" stroke="#bf00bf" stroke-width="2.6" stroke-linejoin="round" stroke-linecap="square"/><path d="M595.4 347.6v39.3m4.2-39.3v22.4m4.3-27.1v26.1m4.2-31.7v21.9m4.3-6.7v16.4m4.2-6.8v19.1m4.3-40v16.9m4.2-12.6v20.3m4.3-15v12.7m4.2-1.2v9.7m4.3-17.6v11.3m4.2 0.1v13.9m4.3-12.4v9.1m4.2-23v16.3m4.3-12.9v12.3m4.2-16.3v8.5m4.3-13.6v10m4.2-1.6v7.8m4.3-18.6v9.7m4.2 3.2v9.6m4.3-16.2v8.3m4.2 1.9v6.4m4.3-12.4v6.8m4.2-5.8v8.3m4.3-7.7v6.2m4.2-9.5v6.5m4.3 3.1v6.3m4.2-15.3v8.8m4.3-5.8v11.6m4.2-14.1v7.6m4.3-9.4v8.7m4.2-4.8v7.5m4.3-7.5v7.7m4.2-4.6v9.3m4.3-15.9v6.4m4.2-2.4v9.2m4.3-13.6v8m4.2 0.7v6.5m4.3-20.8v10.4m4.2 1.1v8m4.3-19.6v11m4.2-0.5v5.3m4.3-11.2v8.3m4.2-4.2v6.4m4.3-13v10.8m4.2-7.3v11.3m4.3-13.8v5.5m4.2-4.3v7.8m4.3-7.3v7.1m4.2-13.5v9.7m4.3 2v8.8m4.2-21.3v9.6m4.3-0.1v7m4.2 0.9v8.6m4.3-18.6v7.2m4.2-5v9.2m4.3-19.9v9.3m4.2 2.4v10.2m4.3-12v7.8m4.2-11.5v13.2m4.3-1v11.7m4.2-24.7v11.2m4.3-1v9.6m4.2-21.4v6.2m4.3-10.1v8.8m4.2 0.4v9.1m4.3-2.7v14.1m4.2-23.7v13m4.3-13.3v12.9m4.2-21.8v19.9m4.3-10.2v19m4.2-10.2v12.1m4.3-21.9v17.8m4.2-10.2v14.1m4.3-39.3v15.7m4.2 9v17.1m4.3-19.3v19.8m4.2-29.8v26.1m4.3-7.5v17.4m4.2-26.3v14.6m4.3-21.7v22.3m4.2-14.4v19.1m4.3-12.2v48.6m4.2-106.7v42.1" stroke="#bf00bf" stroke-width="2.4" fill="none" marker-start="url(#c5)" marker-mid="url(#c5)" marker-end="url(#c5)"/><path d="M595.4 360l27.2 0 27.1-0.1 27.2-0.1 27.2-0.1 27.2-0.2 27.2-0.3 27.1-0.2 27.2-0.4 27.2-0.3 27.2-0.4 27.2-0.5 27.1-0.4 27.2-0.6" fill="none" stroke="#000" stroke-width="3.2" stroke-linecap="square"/><path d="M595.4 404.2l4.2-43.8 4.3-5.8 4.2 28.2 4.3-1.6 4.2-15.9 4.3-3 4.2 11.7 4.3-14.8 4.2-1.4 4.3-1.9 4.2-5.6 4.3 4.7 4.2 7.5 4.3-3 4.2-3.5 4.3 9 4.2-12.2 4.3 1.7 4.2 6.9 4.3 2 4.2-12.1 4.3 5.2 4.2-0.7 4.3-4.3 4.2 4.3 4.3 3.6 4.2-2.1 4.3 7.4 4.2-8 4.3 9.5 4.2-7.7 4.3-0.2 4.2 8.7 4.3-20.1 4.2 18.7 4.3-9.7 4.2 6.8 4.3-3.5 4.2 3.7 4.3-11.7 4.2 4.8 4.3-5.4 4.2 7.1 4.3-0.5 4.2 2.6 4.3 1.8 4.2-4 4.3 2.5 4.2 1.4 4.3 7.1 4.2-6.3 4.3-4.5 4.2 5.2 4.3-3.9 4.2 2.6 4.3 4.4 4.2-0.5 4.3-0.5 4.2-2.3 4.3-0.5 4.2-7.4 4.3 12 4.2 7 4.3-17.3 4.2 7.6 4.3-2 4.2-12.7 4.3 2.4 4.2 5.8 4.3-3.3 4.2 6.2 4.3-6.8 4.2 12.4 4.3 2 4.2-2.1 4.3-22.4 4.2 0.9 4.3 25.7 4.2-24.6 4.3 18.1 4.2-19.4 4.3 22.5 4.2-28.7" fill="none" stroke="#ffa500" stroke-width="2.6" stroke-linejoin="round" stroke-linecap="square"/><path d="M595.4 368v72.4m4.2-91.7v23.3m4.3-28.1v21.5m4.2 3v28.8m4.3-24.4v16.8m4.2-31.2v13.8m4.3-20.4v21.1m4.2-6.7v15.6m4.3-28.6v12m4.2-12v9.1m4.3-10.1v7.4m4.2-14.5v10.3m4.3-7.4v13.9m4.2-4.1v9.5m4.3-12.7v9.7m4.2-12.9v9.2m4.3-0.6v10.1m4.2-22.5v10.4m4.3-9.4v11.7m4.2-5.2v12.7m4.3-10.3v11.7m4.2-22.4v9m4.3-2.9v7.2m4.2-7.6v6.7m4.3-11.4v7.4m4.2-2.5v6.2m4.3-4v9.1m4.2-10.4v7.3m4.3-0.6v8.8m4.2-17.1v9.3m4.3 0.2v9.4m4.2-16v7.1m4.3-7.7v7.9m4.2 0.8v7.9m4.3-30.1v12.2m4.2 9.6v6.1m4.3-17.3v9m4.2-1.1v6.7m4.3-10v6.5m4.2-3v6.7m4.3-19.1v8.3m4.2-4.1v9.4m4.3-14.5v8.8m4.2-0.8v6.9m4.3-8.4v9.1m4.2-6.9v9.8m4.3-6.8v7.3m4.2-12v8.8m4.3-6v8.3m4.2-6.8v8.1m4.3-1.1v8.2m4.2-14.7v8.6m4.3-14.2v10.8m4.2-3.9v7.4m4.3-11.7v8.3m4.2-6.4v9.7m4.3-5v9.1m4.2-9.5v8.8m4.3-10v10.3m4.2-11.6v8.1m4.3-9.5v10m4.2-17.9v11m4.3 2.4v8.2m4.2-3.9v13.7m4.3-30.7v13m4.2-6.1v14.4m4.3-14.8v11.2m4.2-25v13.5m4.3-10.3v11.7m4.2-4.1v8.3m4.3-15.1v15.1m4.2-8.1v13.6m4.3-19.7v12.3m4.2-0.3v13m4.3-10.6v12.1m4.2-17.3v18.3m4.3-41.3v19.6m4.2-18.2v18.7m4.3 0.6v31.4m4.2-52.7v24.8m4.3-3.8v19m4.2-41.4v25m4.3-4v27.9m4.2-68.4v51.6" stroke="#ffa500" stroke-width="2.4" fill="none" marker-start="url(#c6)" marker-mid="url(#c6)" marker-end="url(#c6)"/><path d="M595.4 360l27.2 0 27.1 0.1 27.2 0 27.2 0.1 27.2 0.2 27.2 0.1 27.1 0.2 27.2 0.2 27.2 0.2 27.2 0.3 27.2 0.3 27.1 0.3 27.2 0.4" fill="none" stroke="#000" stroke-width="3.2" stroke-linecap="square"/></g>
<g clip-path="url(#k11)"><path d="M595.4 595.3l4.2-1.5 4.3 39.2 4.2-38 4.3 6.1 4.2 7.3 4.3-3.2 4.2-6.3 4.3-2.1 4.2 5.7 4.3 0.3 4.2-10.6 4.3 10.6 4.2-4.6 4.3 3.2 4.2 4.5 4.3 1.7 4.2-5.5 4.3 1.8 4.2-7.7 4.3 10 4.2-4.5 4.3-5.3 4.2 3.5 4.3-3.1 4.2-2.5 4.3 12.1 4.2-5.6 4.3 1.8 4.2-9.5 4.3 6.4 4.2-2.7 4.3-6.1 4.2 9.7 4.3-1.9 4.2-1.9 4.3 3.3 4.2-7.2 4.3 1.6 4.2 0.3 4.3 3.7 4.2 2.2 4.3-0.6 4.2-0.2 4.3 5.9 4.2-9.1 4.3-1.8 4.2 3.3 4.3 2.2 4.2-2.6 4.3-1.1 4.2-0.2 4.3-6.3 4.2 12.1 4.3-6.6 4.2-2.5 4.3 3.7 4.2 1.4 4.3 4.8 4.2-3.2 4.3-7.2 4.2-5.9 4.3 14.9 4.2-8 4.3-0.9 4.2-3.3 4.3 4.8 4.2-0.4 4.3-4.2 4.2 15.3 4.3-9.7 4.2 13.6 4.3 5.5 4.2-10.5 4.3 6.3 4.2-20.3 4.3-5.5 4.2 13.9 4.3-1.9 4.2 1.7 4.3-0.2 4.2-5.9 4.3-4.2 4.2 50" fill="none" stroke="#0000ff" stroke-width="2.6" stroke-linejoin="round" stroke-linecap="square"/><path d="M595.4 581v28.5m4.2-30.8v30.2m4.3-2.9v54m4.2-75.1v20.1m4.3-19.3v30.9m4.2-15.4v14.4m4.3-20.4v20m4.2-21.2v9.8m4.3-12.9v11.8m4.2-7.6v14.7m4.3-14.4v14.8m4.2-22.7v9.5m4.3-2.4v16.3m4.2-18.5v11.6m4.3-7.8v10.3m4.2-6.7v12.1m4.3-10.4v12.2m4.2-16.4v9.5m4.3-8v10.2m4.2-15.6v5.5m4.3 1.7v11.2m4.2-14.7v9.1m4.3-14.1v8.6m4.2-6v10.4m4.3-12.3v8m4.2-12v10.9m4.3 2.3v8.8m4.2-13.6v7.2m4.3-4.8v6.1m4.2-16v6.8m4.3 0v6.1m4.2-9.1v6.6m4.3-14.4v10m4.2 0.8v7.9m4.3-8.9v6.1m4.2-9.8v9.5m4.3-4.7v6.6m4.2-13.1v5.2m4.3-6.5v11.1m4.2-9.5v8.4m4.3-3.5v5.9m4.2-5.8v10.1m4.3-9.8v8.4m4.2-7.8v6.9m4.3-1.2v7.2m4.2-16.4v7.3m4.3-8.9v7m4.2-4v7.5m4.3-5.9v8.9m4.2-11.3v8.4m4.3-9.5v8.3m4.2-7.9v7.2m4.3-12.8v5.8m4.2 3v12.5m4.3-16.2v6.7m4.2-11.3v10.7m4.3-6.8v10.3m4.2-8v8.6m4.3-5v10.9m4.2-13.9v10.7m4.3-17.1v9m4.2-16.4v12.1m4.3 1.6v14.3m4.2-20.2v10.2m4.3-11.7v11.4m4.2-16.5v14.9m4.3-8.6v12.1m4.2-10.8v8.6m4.3-14.5v12m4.2 2.4v13.7m4.3-24.3v15.5m4.2-0.7v13.2m4.3-10.3v18.4m4.2-29.4v19.3m4.3-12.8v19m4.2-40.9v22.2m4.3-24.9v16.6m4.2-8.2v27.6m4.3-28v24.7m4.2-27.2v32.9m4.3-29.7v26.2m4.2-31.8v25.6m4.3-28.5v23m4.2 2.9v71.3" stroke="#0000ff" stroke-width="2.4" fill="none" marker-start="url(#c0)" marker-mid="url(#c0)" marker-end="url(#c0)"/><path d="M595.4 600l27.2 0 27.1-0.1 27.2-0.2 27.2-0.3 27.2-0.3 27.2-0.4 27.1-0.4 27.2-0.6 27.2-0.6 27.2-0.6 27.2-0.8 27.1-0.8 27.2-0.9" fill="none" stroke="#000" stroke-width="3.2" stroke-linecap="square"/><path d="M595.4 560.4l4.2 35.7 4.3-1.2 4.2 10.6 4.3-8.9 4.2 6.5 4.3 1.7 4.2-18.1 4.3 9.6 4.2 5.7 4.3 2.8 4.2-6 4.3-2.4 4.2-0.5 4.3-4.9 4.2 6 4.3 7.6 4.2-15 4.3 3.4 4.2 2.6 4.3-1.4 4.2 11.5 4.3-4.2 4.2 0.9 4.3-7.5 4.2 9.8 4.3-3.9 4.2-7.8 4.3 3.5 4.2 4.5 4.3-9.2 4.2 14.8 4.3-9.3 4.2 2.8 4.3-3.5 4.2 3.7 4.3 2.3 4.2-4.6 4.3 6 4.2-7.6 4.3 4 4.2-6 4.3 6.3 4.2 0.9 4.3-4.4 4.2-4.1 4.3 15 4.2-10.3 4.3-2.4 4.2 9.1 4.3-2.6 4.2-6.8 4.3 7 4.2-0.6 4.3-11.9 4.2 12.7 4.3-0.2 4.2 5.9 4.3-4.8 4.2-0.6 4.3-12.8 4.2 1.7 4.3 13.4 4.2-19.1 4.3 6.6 4.2 5.9 4.3-6 4.2 1.6 4.3 8.4 4.2 6.1 4.3-3.6 4.2-8.3 4.3 2.5 4.2 3.6 4.3-16 4.2 19.7 4.3-17.7 4.2 12.5 4.3-6.7 4.2 21.2 4.3-20 4.2 12.5 4.3 15 4.2-27.6" fill="none" stroke="#008000" stroke-width="2.6" stroke-linejoin="round" stroke-linecap="square"/><path d="M595.4 528v64.8m4.2-15.2v37m4.3-32.5v25.6m4.2-13.6v22.9m4.3-30.9v21.1m4.2-10.5v12.9m4.3-11.6v13.6m4.2-34.4v19.1m4.3-7.2v14.3m4.2-8.6v14.3m4.3-10.6v12.6m4.2-18v11.4m4.3-13.9v11.7m4.2-9.7v6.6m4.3-13v9.6m4.2-5.4v13.2m4.3-3.8v9.5m4.2-24.4v9.5m4.3-6.5v10.2m4.2-6.8v8.6m4.3-9.2v7m4.2 4.7v6.5m4.3-10.9v6.9m4.2-7.7v10.4m4.3-16v6.7m4.2 2.5v7.9m4.3-12.7v9.5m4.2-16.7v8.5m4.3-4.6v7.5m4.2-3.5v8.6m4.3-16.4v5.9m4.2 5.9v11.9m4.3-19.3v8.1m4.2-5v7.5m4.3-12.2v9.9m4.2-6.3v9.9m4.3-6.3v7.3m4.2-12.1v7.7m4.3-2.6v9.7m4.2-16.9v8.8m4.3-6.1v11.4m4.2-15.7v8m4.3-1.9v8.4m4.2-7v7.4m4.3-11.8v7.3m4.2-11.6v7.8m4.3 7.2v7.8m4.2-20v11.6m4.3-12.7v9.1m4.2 1.5v6m4.3-9.3v7.5m4.2-14.3v7.5m4.3-0.5v7.4m4.2-9v9.4m4.3-20.8v8.4m4.2 4.1v8.7m4.3-8.6v8.1m4.2-1.4v6.7m4.3-12.5v8.6m4.2-9.2v8.6m4.3-20.5v6.7m4.2-6.5v9.8m4.3 2.6v11.9m4.2-30.2v10.1m4.3-4.4v11.9m4.2-5.9v11.8m4.3-16.8v9.9m4.2-9.5v12.2m4.3-4.9v14.4m4.2-8.7v15.1m4.3-18.7v15.1m4.2-23.2v14.8m4.3-9.8v9.8m4.2-8.2v13.9m4.3-30.8v15.6m4.2 0.4v23.1m4.3-36.2v13.9m4.2-5.8v22.6m4.3-26.2v16.4m4.2-3.8v33.6m4.3-54v34.3m4.2-19.6v30m4.3-9.8v19.6m4.2-58v41.2" stroke="#008000" stroke-width="2.4" fill="none" marker-start="url(#c1)" marker-mid="url(#c1)" marker-end="url(#c1)"/><path d="M595.4 600l27.2 0 27.1-0.1 27.2-0.2 27.2-0.2 27.2-0.2 27.2-0.3 27.1-0.4 27.2-0.4 27.2-0.5 27.2-0.5 27.2-0.6 27.1-0.7 27.2-0.7" fill="none" stroke="#000" stroke-width="3.2" stroke-linecap="square"/><path d="M595.4 594.8l4.2 27.9 4.3-30.7 4.2-2.2 4.3 20.6 4.2-6.8 4.3-4.2 4.2 2.6 4.3-3.1 4.2-4.5 4.3 8.8 4.2-23.7 4.3 25.2 4.2-1.3 4.3-14.8 4.2-1.6 4.3 12.5 4.2 1.1 4.3 4.1 4.2-11.7 4.3 5.6 4.2 4.3 4.3-5.1 4.2-5.4 4.3 3.4 4.2-8.4 4.3 6.6 4.2 2.8 4.3 2.6 4.2-3 4.3-3.6 4.2 1.2 4.3-0.9 4.2 4.5 4.3-2.5 4.2-2.5 4.3 6.8 4.2 5.5 4.3-15 4.2 5.6 4.3 5.4 4.2-3.9 4.3 2.6 4.2 7.7 4.3-8.2 4.2 6.6 4.3-9.1 4.2 1.7 4.3-7.5 4.2 7.4 4.3-2.6 4.2 3.1 4.3 1.2 4.2 5.6 4.3-14.6 4.2 5 4.3 4.1 4.2-5.1 4.3 3.8 4.2 2.2 4.3-6.2 4.2-5.4 4.3 8.3 4.2 7.2 4.3-4.9 4.2-16.4 4.3 18.6 4.2-14.6 4.3 9.7 4.2-9.4 4.3 8.1 4.2 11.1 4.3-9.7 4.2-25.5 4.3 24 4.2-7.3 4.3 10.1 4.2-3.2 4.3-6 4.2-1.8 4.3-28.2 4.2 34.1 4.3 2.8 4.2 13.2" fill="none" stroke="#ff0000" stroke-width="2.6" stroke-linejoin="round" stroke-linecap="square"/><path d="M595.4 576.7v36.2m4.2-2.7v25m4.3-54.8v23.2m4.2-22.1v16.7m4.3-1.8v28m4.2-30.4v19.2m4.3-22.5v17.5m4.2-12.5v12.6m4.3-16.9v15.1m4.2-19.7v15.3m4.3-6.1v14.4m4.2-38.9v16m4.3 11.3v11.7m4.2-13.1v12.1m4.3-25.9v9.9m4.2-11.6v10.1m4.3 3.5v8m4.2-6.3v6.9m4.3-3.2v7.7m4.2-20.7v10.2m4.3-5.2v11.5m4.2-6.6v10.3m4.3-15.2v9.8m4.2-15.3v10m4.3-8v12.8m4.2-19.9v10.2m4.3-2.3v7.6m4.2-8.3v14.5m4.3-8.6v7.9m4.2-11.1v8.4m4.3-12.3v9m4.2-10v13.3m4.3-12.2v9.3m4.2-6.1v11.9m4.3-12.5v8.2m4.2-10.4v7.6m4.3-1.3v8.6m4.2-3.3v9.1m4.3-23.5v7.7m4.2-2.2v8m4.3-3.3v9.3m4.2-14.4v11.7m4.3-8.9v11.4m4.2-3.1v10.2m4.3-19.2v11.9m4.2-4v9.2m4.3-19.7v11.9m4.2-9v9.6m4.3-16.7v8.9m4.2-1.6v9m4.3-11.6v9m4.2-5.7v8.7m4.3-10.8v15.3m4.2-6.4v8.5m4.3-24.1v10.7m4.2-6v11.1m4.3-5.8v8.9m4.2-17.7v16.1m4.3-8.7v9.1m4.2-7.2v9.5m4.3-17.7v13.6m4.2-16.4v8.4m4.3-2v12.1m4.2-4.1v10.6m4.3-15.5v10.6m4.2-27.1v10.8m4.3 6.6v13.3m4.2-26.6v10.6m4.3-3.5v15.8m4.2-24v13.5m4.3-9.1v20.9m4.2-7.4v16.1m4.3-25.1v14.7m4.2-41.5v17.1m4.3 8.4v14.1m4.2-22.8v16.9m4.3-10.3v23.9m4.2-26.3v22.4m4.3-28.5v22.6m4.2-24.4v22.6m4.3-54.5v30.1m4.2 7.2v23.5m4.3-30.5v43.2m4.2-27.7v38.6" stroke="#ff0000" stroke-width="2.4" fill="none" marker-start="url(#c2)" marker-mid="url(#c2)" marker-end="url(#c2)"/><path d="M595.4 600l27.2 0 27.1-0.2 27.2-0.2 27.2-0.3 27.2-0.4 27.2-0.4 27.1-0.6 27.2-0.6 27.2-0.7 27.2-0.8 27.2-0.9 27.1-1 27.2-1" fill="none" stroke="#000" stroke-width="3.2" stroke-linecap="square"/><path d="M595.4 592.8l4.2-29.8 4.3 39 4.2 14.6 4.3-13.1 4.2-7.8 4.3 11.5 4.2-5 4.3 1.3 4.2-3.8 4.3-6.1 4.2 4.4 4.3-0.8 4.2 11.9 4.3-7.5 4.2-6.6 4.3 10.3 4.2-3 4.3 2.8 4.2-12.1 4.3 8.8 4.2 1.7 4.3-7.7 4.2-1.9 4.3 2.6 4.2-1.8 4.3 3.4 4.2 1.8 4.3 1.6 4.2-0.1 4.3 1 4.2-5.2 4.3 2.4 4.2-1 4.3-2.5 4.2 3 4.3 5.8 4.2-2.6 4.3 2.5 4.2 5 4.3-11.7 4.2 6.2 4.3 0.7 4.2-1.6 4.3-9.4 4.2 6 4.3-7.1 4.2 5.6 4.3 1.6 4.2-5.7 4.3 0.5 4.2 2.2 4.3 5.4 4.2-2.6 4.3 4.1 4.2-5.3 4.3-2 4.2-8.1 4.3 1.5 4.2 3.8 4.3-3.5 4.2 5 4.3-14.6 4.2 5.8 4.3-2.9 4.2 9.8 4.3-0.1 4.2-5 4.3 6.3 4.2-1.5 4.3 11.8 4.2-17 4.3 6 4.2-5.8 4.3 9.3 4.2 13.1 4.3-20.1 4.2-13.6 4.3 37.4 4.2-4.2 4.3-11.9 4.2 0.4 4.3-34.1 4.2-9" fill="none" stroke="#bfbf00" stroke-width="2.6" stroke-linejoin="round" stroke-linecap="square"/><path d="M595.4 568.3v49m4.2-84.5v60.5m4.3-0.9v19.2m4.2-9.2v28.4m4.3-40.2v25.8m4.2-32.3v23.1m4.3-10.2v20.4m4.2-22v13.7m4.3-13.6v16.1m4.2-17.1v10.4m4.3-19.7v16.7m4.2-11.2v14.7m4.3-12.5v8.7m4.2 3v9m4.3-17v10m4.2-16.9v10.7m4.3-0.7v11.2m4.2-14.7v12.2m4.3-10.2v13.8m4.2-23.8v9.6m4.3 0.6v6.8m4.2-6.5v9.6m4.3-17v9m4.2-10.5v8.2m4.3-7.1v11.3m4.2-11.8v8.6m4.3-5.3v8.9m4.2-6.7v8m4.3-6.5v8.2m4.2-8.4v8.5m4.3-8v9.3m4.2-14.9v10.2m4.3-6.6v7.7m4.2-9.3v9.1m4.3-11.2v8.3m4.2-4.9v7.5m4.3-1.7v7.4m4.2-10.4v8.2m4.3-5.4v7.6m4.2-6.7v15.8m4.3-23.5v7.8m4.2-2.2v8.9m4.3-8v8.7m4.2-9.9v7.9m4.3-18.1v9.4m4.2-3.5v9.5m4.3-16.3v9m4.2-2.6v7.5m4.3-6v7.6m4.2-14.2v9.4m4.3-10v11.6m4.2-7.6v8m4.3-2.2v7.3m4.2-11.1v9.5m4.3-6.8v12.4m4.2-15.2v7.5m4.3-10.1v8.6m4.2-17.7v10.7m4.3-8.6v9.4m4.2-4.2v6.6m4.3-11.6v9.5m4.2-4.2v9.1m4.3-26.9v15.4m4.2-7.7v11.7m4.3-15v12.4m4.2-2.9v13.1m4.3-12.9v12.4m4.2-18.5v14.6m4.3-7.1v12.2m4.2-15.6v16m4.3-3.6v14.9m4.2-31.2v13.4m4.3-11.6v21.8m4.2-24.4v15.5m4.3-6.8v16.7m4.2-4v17.4m4.3-37.6v17.6m4.2-36.4v28m4.3 11v24.8m4.2-33.2v33.3m4.3-45v32.8m4.2-29.9v27.8m4.3-72.3v48.6m4.2-51v35.4" stroke="#bfbf00" stroke-width="2.4" fill="none" marker-start="url(#c3)" marker-mid="url(#c3)" marker-end="url(#c3)"/><path d="M595.4 600l27.2 0 27.1-0.1 27.2-0.2 27.2-0.3 27.2-0.3 27.2-0.4 27.1-0.4 27.2-0.6 27.2-0.6 27.2-0.6 27.2-0.8 27.1-0.8 27.2-0.9" fill="none" stroke="#000" stroke-width="3.2" stroke-linecap="square"/><path d="M595.4 669.3l4.2-54.4 4.3-33 4.2 13.6 4.3 3.3 4.2-2 4.3 4.8 4.2 8 4.3-21.2 4.2 6 4.3 4.3 4.2-5.2 4.3-1.6 4.2 9.2 4.3-4.1 4.2 4.6 4.3-4.9 4.2 4.6 4.3-11.6 4.2 11.9 4.3-3.8 4.2-0.1 4.3 3.1 4.2-6.2 4.3 5.4 4.2 1.5 4.3-2 4.2 4.1 4.3-9.9 4.2 3.4 4.3-1.9 4.2 8.3 4.3-5.4 4.2 3.7 4.3-3.2 4.2-5.3 4.3 4.5 4.2 1.7 4.3-5.7 4.2 0.6 4.3-3.6 4.2 13.6 4.3-7.4 4.2 3.3 4.3 1.8 4.2-4.5 4.3 5.4 4.2 4.4 4.3-6 4.2-2.4 4.3-9.2 4.2 10.9 4.3 2.1 4.2 6.8 4.3-10.8 4.2-0.6 4.3-2 4.2 7.5 4.3-3 4.2 4.1 4.3-9.2 4.2 9.4 4.3 1.2 4.2-17.9 4.3 4.8 4.2 0.7 4.3 0 4.2 7.4 4.3-12.6 4.2 13 4.3-21.6 4.2 13.2 4.3 16 4.2-20.7 4.3-11.3 4.2 19.5 4.3-13.7 4.2 13.8 4.3 4.6 4.2 20.2 4.3-47.9 4.2 29.1 4.3-15.6 4.2 32.5" fill="none" stroke="#00bfbf" stroke-width="2.6" stroke-linejoin="round" stroke-linecap="square"/><path d="M595.4 612.6v113.4m4.2-125.6v29m4.3-59.9v24.8m4.2-9.6v21.6m4.3-16.7v18.3m4.2-20.5v18.8m4.3-12.7v16.1m4.2-7.4v14.8m4.3-34.5v11.7m4.2-4.6v9.6m4.3-6.6v12.2m4.2-17v11.4m4.3-13v11.3m4.2-2.4v12m4.3-14.5v8.9m4.2-3.5v7.3m4.3-12.6v8m4.2-4v9.1m4.3-21.7v11.2m4.2 1.7v9.1m4.3-11.6v6.6m4.2-7.8v8.8m4.3-5.2v7.9m4.2-14.6v8.8m4.3-4.7v11.5m4.2-9.2v9.7m4.3-11.6v9.6m4.2-4.2v6.9m4.3-17.8v8.9m4.2-4.9v7.8m4.3-9.4v7.2m4.2 0.6v8.2m4.3-13.1v7.1m4.2-2.6v5.7m4.3-10.3v8.4m4.2-13.8v8.5m4.3-3.6v7.8m4.2-5.8v7.2m4.3-14.2v9.7m4.2-7.7v7m4.3-11v7.7m4.2 7.4v4.8m4.3-13.1v6.6m4.2-4.5v8.9m4.3-6.3v7.4m4.2-11.3v6.2m4.3-1.5v7.5m4.2-3.7v8.7m4.3-14.4v8.1m4.2-11.4v10m4.3-18.5v8.7m4.2 2.3v8.3m4.3-5.9v7.7m4.2-1.4v8.8m4.3-19.2v8m4.2-8.3v7.3m4.3-9.3v7.4m4.2-1.7v11.1m4.3-12.2v7.2m4.2-3.3v7.6m4.3-18.5v11m4.2-0.9v9.6m4.3-10.1v13m4.2-30.7v12.5m4.3-6.1v9.4m4.2-11.2v14.3m4.3-11.5v8.8m4.2-0.9v7.9m4.3-21.7v10.1m4.2 3.1v9.9m4.3-33.9v14.6m4.2-2.5v16.7m4.3 2.1v11.1m4.2-33.1v13.8m4.3-29.4v22.5m4.2 1.2v14.1m4.3-30.3v19m4.2-7.3v23.2m4.3-19.5v25.1m4.2-3.4v21.9m4.3-71.7v25.8m4.2 0.8v30.8m4.3-49.3v36.6m4.2-9.5v47.5" stroke="#00bfbf" stroke-width="2.4" fill="none" marker-start="url(#c4)" marker-mid="url(#c4)" marker-end="url(#c4)"/><path d="M595.4 600l27.2 0 27.1-0.2 27.2-0.2 27.2-0.3 27.2-0.4 27.2-0.4 27.1-0.6 27.2-0.6 27.2-0.7 27.2-0.8 27.2-0.9 27.1-1 27.2-1" fill="none" stroke="#000" stroke-width="3.2" stroke-linecap="square"/><path d="M595.4 580.9l4.2 62.7 4.3-54.9 4.2-2.2 4.3-7.2 4.2 23.6 4.3-9.5 4.2 17.9 4.3-2.6 4.2-7.2 4.3-1.4 4.2 6.6 4.3-4.3 4.2-5.3 4.3 5.3 4.2-1.7 4.3 2.9 4.2-9.9 4.3-1.2 4.2 6.4 4.3 1.4 4.2-6.6 4.3 3.9 4.2 5 4.3 2.9 4.2-4.1 4.3-8.1 4.2 8.7 4.3-9.8 4.2 7.2 4.3 0.7 4.2-5 4.3 5.1 4.2-2.2 4.3 4.8 4.2 1.3 4.3-2.6 4.2-3.4 4.3 2.8 4.2 8.2 4.3-11.7 4.2 2.1 4.3 0.5 4.2 1.1 4.3 6.3 4.2-14.9 4.3 7.6 4.2-3.8 4.3-4.3 4.2 2.1 4.3 3.5 4.2 0.6 4.3-1.4 4.2-2.7 4.3 1 4.2 4.9 4.3-4.3 4.2 0.7 4.3-3 4.2 3.2 4.3-6.6 4.2 6.5 4.3-3.7 4.2 4.2 4.3 4.1 4.2 2.6 4.3-5.7 4.2-5.3 4.3-3.7 4.2 8.4 4.3 2.8 4.2 0.8 4.3-14.9 4.2 9.2 4.3 6.5 4.2-11.2 4.3 23.1 4.2-19.1 4.3 1.7 4.2 0.8 4.3 14.4 4.2-27.9 4.3-19.1 4.2-12.1" fill="none" stroke="#bf00bf" stroke-width="2.6" stroke-linejoin="round" stroke-linecap="square"/><path d="M595.4 567.3v27.2m4.2 13.4v71.3m4.3-104v26.9m4.2-25.3v19.5m4.3-24.8v15.5m4.2 5.9v20m4.3-30.2v21.4m4.2 0.6v13.3m4.3-16.5v14.4m4.2-20.9v13.1m4.3-11.2v6.4m4.2-0.1v7m4.3-13.8v12m4.2-15.4v8.2m4.3-2.7v7.7m4.2-10.4v9.8m4.3-5.8v7.5m4.2-17.6v8.1m4.3-8.5v6.4m4.2-0.2v6.9m4.3-5.6v7m4.2-13.4v6.5m4.3-3.2v7.7m4.2-3.8v10m4.3-6.4v8.5m4.2-10.4v4.2m4.3-13.1v5.8m4.2 1.2v9.1m4.3-17.5v6.5m4.2 0.3v7.3m4.3-6v6.1m4.2-11.2v6.3m4.3-0.9v5.6m4.2-8.5v6.9m4.3-1.1v5m4.2-5.5v8.7m4.3-9.3v4.6m4.2-8.5v5.6m4.3-2.7v5.5m4.2 0.9v9m4.3-19.1v5.8m4.2-4.7v7.8m4.3-7.2v7.6m4.2-5.7v6m4.3-0.6v7.8m4.2-22.4v7.2m4.3 0.9v6.1m4.2-11.8v10m4.3-13v7.3m4.2-4.9v6.8m4.3-3.1v6.4m4.2-5.8v6.4m4.3-7.8v6.4m4.2-9.5v7.2m4.3-7.8v10.4m4.2-4.3v8m4.3-13v9.3m4.2-6.7v5.7m4.3-11.7v11.7m4.2-6.5v7.7m4.3-14.7v8.5m4.2-2.2v8.7m4.3-12.5v9.1m4.2-6.4v12.1m4.3-6.7v9.3m4.2-8.7v13.3m4.3-19.6v14.7m4.2-21.4v17.3m4.3-17.5v10.3m4.2-2.5v11.6m4.3-8.6v11.1m4.2-12.9v16.4m4.3-30.4v14.6m4.2-7v17.8m4.3-13.2v21.5m4.2-27.4v11.1m4.3 7.5v19.9m4.2-37.4v16.8m4.3-15v16.6m4.2-16.5v18m4.3-7.4v25.7m4.2-56.6v31.6m4.3-52.5v35.3m4.2-64.9v70.2" stroke="#bf00bf" stroke-width="2.4" fill="none" marker-start="url(#c5)" marker-mid="url(#c5)" marker-end="url(#c5)"/><path d="M595.4 600l27.2 0 27.1-0.1 27.2-0.2 27.2-0.2 27.2-0.2 27.2-0.3 27.1-0.4 27.2-0.4 27.2-0.5 27.2-0.5 27.2-0.6 27.1-0.7 27.2-0.7" fill="none" stroke="#000" stroke-width="3.2" stroke-linecap="square"/><path d="M595.4 597.7l4.2-1.7 4.3 10.9 4.2-24.6 4.3 15.5 4.2-0.2 4.3 14.3 4.2-14.8 4.3 8.3 4.2-0.9 4.3-12.6 4.2 16.8 4.3-7.6 4.2-6.2 4.3-2.1 4.2 9.8 4.3-4.6 4.2 0.1 4.3 9.7 4.2 5.7 4.3-3.7 4.2-13.8 4.3 3 4.2 7.1 4.3-3.3 4.2-1.5 4.3 0 4.2-1.8 4.3-11 4.2 14.8 4.3-4.8 4.2 4.7 4.3 0.1 4.2 0.6 4.3-3.5 4.2 2 4.3-5.8 4.2 0.9 4.3 6.1 4.2-14.6 4.3 15.8 4.2-8.2 4.3-10.1 4.2 16.1 4.3-13.2 4.2 0.6 4.3 5.7 4.2 14.9 4.3-20.6 4.2 7.3 4.3 2.9 4.2-11.7 4.3 13.9 4.2-11.8 4.3 9.7 4.2-7.6 4.3 11.4 4.2-4.3 4.3 4.3 4.2-2.4 4.3-6 4.2 2.4 4.3-2.6 4.2-9.3 4.3 11.2 4.2 15.5 4.3-14.7 4.2-2.8 4.3-8.4 4.2-2.7 4.3 3.5 4.2 10.6 4.3-9.9 4.2 23.5 4.3-29.6 4.2 7.4 4.3-1.5 4.2 11 4.3-5.2 4.2 9.6 4.3-20.3 4.2 35.3 4.3-46.4 4.2 8.9" fill="none" stroke="#ffa500" stroke-width="2.6" stroke-linejoin="round" stroke-linecap="square"/><path d="M595.4 573.8v47.8m4.2-41.7v32.1m4.3-19.8v29.4m4.2-52.6v26.6m4.3-8.9v22.3m4.2-20.5v18.2m4.3-1.3v12.9m4.2-28.1v13.8m4.3-5.2v13.3m4.2-15.3v15.3m4.3-26v11.5m4.2 5.1v12m4.3-18.7v10.1m4.2-19.1v15.8m4.3-15.3v10.6m4.2-0.8v10.7m4.3-15.6v11.3m4.2-11.5v11.7m4.3-2.1v12m4.2-5.9v11.2m4.3-12.8v7m4.2-22.2v9.7m4.3-7.4v11.2m4.2-2.2v7.4m4.3-12.7v11.4m4.2-12.3v10.1m4.3-9.4v8.8m4.2-10.5v8.6m4.3-19v7.5m4.2 7.1v7.8m4.3-13.1v8.8m4.2-4.4v9.3m4.3-10.2v11.4m4.2-9.4v8.6m4.3-15v14.3m4.2-10.9v11.7m4.3-17.7v12m4.2-11.3v12.4m4.3-5.1v9.9m4.2-23.9v8.7m4.3 7.2v8.6m4.2-16.3v7.6m4.3-20.5v13.1m4.2 5.1v8.9m4.3-22.2v9.2m4.2-8.6v9.2m4.3-4.1v10.3m4.2 1.7v16.3m4.3-34.2v10.7m4.2-5.4v14.8m4.3-9.3v9.6m4.2-23.6v14.1m4.3 0.6v12.6m4.2-23.4v10.5m4.3 0v9m4.2-19.2v14.2m4.3-1.4v11.3m4.2-15.1v10.3m4.3-9.1v16.6m4.2-17.3v13.3m4.3-18.1v10.9m4.2-8.4v10.6m4.3-14.2v12.6m4.2-23.8v16.5m4.3-3.9v13.5m4.2 2.3v13.1m4.3-27.8v13.1m4.2-19.4v20m4.3-24.2v11.7m4.2-19.5v21.8m4.3-13.1v11.4m4.2-5.9v21.6m4.3-33.3v25.3m4.2 0.4v20.7m4.3-49.5v19.1m4.2-12.6v20.9m4.3-23.7v23.6m4.2-15.7v29.9m4.3-33.4v26.4m4.2-15.1v23.1m4.3-48.2v32.7m4.2 2.5v32.7m4.3-90.7v56.1m4.2-41.1v43.7" stroke="#ffa500" stroke-width="2.4" fill="none" marker-start="url(#c6)" marker-mid="url(#c6)" marker-end="url(#c6)"/><path d="M595.4 600l27.2 0 27.1-0.1 27.2-0.2 27.2-0.3 27.2-0.3 27.2-0.4 27.1-0.4 27.2-0.6 27.2-0.6 27.2-0.6 27.2-0.8 27.1-0.8 27.2-0.9" fill="none" stroke="#000" stroke-width="3.2" stroke-linecap="square"/></g>
<g clip-path="url(#k21)"><path d="M595.4 788.7l4.2 65.7 4.3-28.9 4.2 30.2 4.3-11 4.2-0.1 4.3 6.6 4.2-14.9 4.3-13.2 4.2-14.1 4.3 10.8 4.2 22.6 4.3-18.9 4.2 11.6 4.3-14.6 4.2 34.3 4.3-30.8 4.2 21.9 4.3-15.6 4.2 13.2 4.3-10.6 4.2 9.3 4.3 12.2 4.2-7.7 4.3-4.4 4.2-2.5 4.3 12.7 4.2-4.5 4.3-3.3 4.2-3.1 4.3-3.5 4.2 7.3 4.3 6.6 4.2-14.1 4.3 4.9 4.2-10.4 4.3 11.6 4.2-9.1 4.3 11.5 4.2-8.2 4.3 1.2 4.2-2.8 4.3 10.1 4.2-5.9 4.3 5.3 4.2-5 4.3-5.1 4.2-10.2 4.3 13.9 4.2-4.8 4.3 4.1 4.2-6.3 4.3 4.4 4.2-5 4.3 5 4.2-11.7 4.3 3.2 4.2 26.1 4.3-17.4 4.2 2.1 4.3 17.2 4.2-10.9 4.3-1.9 4.2 2.5 4.3-7.6 4.2 14.7 4.3-19.4 4.2-0.3 4.3 2.6 4.2 6 4.3-2.4 4.2 6.2 4.3-19.5 4.2 8.5 4.3-18.3 4.2 28.2 4.3-25.2 4.2 27.9 4.3-5.5 4.2 15.9 4.3-27.2 4.2 10.2 4.3 27.3 4.2-62.3" fill="none" stroke="#0000ff" stroke-width="2.6" stroke-linejoin="round" stroke-linecap="square"/><path d="M595.4 753.1v71.2m4.2 2.6v54.9m4.3-91v69.4m4.2-26.6v44.3m4.3-50.1v33.7m4.2-34.5v35.3m4.3-27.6v33m4.2-47.3v31.7m4.3-42.1v26.3m4.2-40.9v27.2m4.3-16.3v27.1m4.2-6.3v30.7m4.3-43.9v19.1m4.2-9v22.2m4.3-34.6v17.8m4.2 14.5v21.7m4.3-54.2v25.2m4.2 0.2v18.1m4.3-31.1v13m4.2-0.5v14.5m4.3-25.1v14.4m4.2-6.2v16.5m4.3-1.6v11.2m4.2-18.7v10.8m4.3-18.4v17.3m4.2-16.9v11.5m4.3 0.5v12.9m4.2-15.5v8.9m4.3-12.8v10.2m4.2-13.7v11.1m4.3-16v13.8m4.2-6.3v13.3m4.3-7.8v15.6m4.2-29.3v14.7m4.3-10.7v16.6m4.2-24.4v11.4m4.3-1.3v14.3m4.2-21.6v10.8m4.3 0.1v12.1m4.2-20.2v11.7m4.3-9.8v10.4m4.2-15.3v14.6m4.3-2.9v11.4m4.2-19.6v16.1m4.3-9.9v14.1m4.2-19.6v15.3m4.3-19.3v13m4.2-23.8v14.1m4.3-0.6v15m4.2-20.9v17.3m4.3-11.3v13.4m4.2-19.2v12.4m4.3-7.5v11.4m4.2-17.4v13.3m4.3-9.5v15.7m4.2-25.1v11.3m4.3-11v17m4.2 8.8v17.6m4.3-34.3v16.3m4.2-14v15.7m4.3 3.2v12.3m4.2-21.6v9.2m4.3-13.4v13.7m4.2-11.8v15.1m4.3-28.6v26.7m4.2-5.2v13.1m4.3-34.4v17m4.2-17.1v16.6m4.3-18.7v26m4.2-13.5v13.1m4.3-17.7v17.5m4.2-14.3v23.4m4.3-40.4v18.5m4.2-8.2v14.9m4.3-35.2v18.7m4.2 3.5v30.7m4.3-53.6v26.2m4.2 2.9v23.7m4.3-29.4v24.2m4.2-10.7v29.1m4.3-57.2v30.9m4.2-24v37.5m4.3-14.7v46.4m4.2-109v47.1" stroke="#0000ff" stroke-width="2.4" fill="none" marker-start="url(#c0)" marker-mid="url(#c0)" marker-end="url(#c0)"/><path d="M595.4 840l27.2 0 27.1 0 27.2 0 27.2 0 27.2 0 27.2 0 27.1 0 27.2 0 27.2 0 27.2 0 27.2 0 27.1 0 27.2 0" fill="none" stroke="#000" stroke-width="3.2" stroke-linecap="square"/><path d="M595.4 830.4l4.2 10.5 4.3-10.2 4.2 17.4 4.3-27.2 4.2-1.6 4.3 43.8 4.2-39.7 4.3 26.7 4.2-6.8 4.3-17.1 4.2 12 4.3-4.6 4.2-0.3 4.3 1.6 4.2 9 4.3 2.8 4.2-12.5 4.3-0.2 4.2 2.5 4.3 4.4 4.2-7.9 4.3 6.7 4.2 7.6 4.3-9.6 4.2-1.1 4.3-1.8 4.2 9.8 4.3-1.3 4.2-6.1 4.3 4.9 4.2-2.4 4.3-4.9 4.2 2.5 4.3-8.4 4.2 8.9 4.3-6.1 4.2 1.4 4.3-4.3 4.2 10.2 4.3 0.6 4.2-8.2 4.3 10.6 4.2-0.4 4.3-3.8 4.2-1.1 4.3 9.7 4.2-8.6 4.3 2.6 4.2-1.5 4.3-1.2 4.2 2.1 4.3-6.2 4.2 2.1 4.3 3.9 4.2-1.4 4.3-6.3 4.2 2.4 4.3-2.2 4.2 7 4.3-1.9 4.2-10.3 4.3 11.4 4.2-12.4 4.3 6.9 4.2 8.6 4.3 6 4.2-14.3 4.3 8.7 4.2 1.6 4.3 6.9 4.2-23.3 4.3 9.8 4.2 0 4.3-4.4 4.2 1.2 4.3 2.9 4.2-6.3 4.3 10 4.2 17.8 4.3-31.8 4.2 2.8 4.3 5.8 4.2-30.6" fill="none" stroke="#008000" stroke-width="2.6" stroke-linejoin="round" stroke-linecap="square"/><path d="M595.4 800v60.7m4.2-42v44.4m4.3-59.3v53.8m4.2-31.3v43.6m4.3-63.9v29.8m4.2-34.5v35.9m4.3 8.2v35.4m4.2-68.5v22.2m4.3 1.3v28.6m4.2-38.8v35.3m4.3-48.2v27m4.2-13.6v24.1m4.3-26.5v19.9m4.2-16.8v12.9m4.3-12.1v14.7m4.2-5.4v14m4.3-10.2v12m4.2-24.5v12m4.3-15.2v18.1m4.2-14.3v15.5m4.3-9.1v11.4m4.2-20.1v13.1m4.3-6.3v12.9m4.2-5.6v13.5m4.3-21.8v10.8m4.2-12.1v11.1m4.3-13.8v12.9m4.2-1.7v10.1m4.3-10.3v8m4.2-15.5v10.7m4.3-6.1v11.5m4.2-11.8v7.3m4.3-12.4v7.5m4.2-6v9.5m4.3-19.2v12.2m4.2-2.5v10.6m4.3-15.3v7.9m4.2-9.7v14.1m4.3-15.4v8.3m4.2 0.5v11m4.3-9v8.1m4.2-18.3v12.2m4.3-0.8v10.5m4.2-9.7v8.3m4.3-12v8m4.2-12.3v14.3m4.3-2.9v11m4.2-18.4v8.5m4.3-6.9v10.6m4.2-10.5v7.4m4.3-9.5v9.2m4.2-7v8.9m4.3-14.4v7.7m4.2-7v10.4m4.3-6.8v10.9m4.2-12.1v10.5m4.3-18.1v13.3m4.2-11.4v14.3m4.3-13.7v8.6m4.2-3.2v11.8m4.3-14.4v13.3m4.2-21.6v9.2m4.3 0.5v12.5m4.2-25.6v14.1m4.3-5.1v9.9m4.2-4.9v16.9m4.3-10v15.2m4.2-27.6v11.4m4.3-0.7v7.3m4.2-9.8v15.5m4.3-6.6v11.7m4.2-37.5v16.6m4.3-4.7v12.3m4.2-16.3v20.4m4.3-27.2v25.2m4.2-24.8v26.9m4.3-17.3v13.4m4.2-22.8v19.6m4.3-8.3v16.9m4.2 3v12.8m4.3-49.6v22.7m4.2-24.1v31.2m4.3-28.6v37.6m4.2-66.2v33.5" stroke="#008000" stroke-width="2.4" fill="none" marker-start="url(#c1)" marker-mid="url(#c1)" marker-end="url(#c1)"/><path d="M595.4 840l27.2 0 27.1-0.1 27.2 0 27.2-0.1 27.2-0.2 27.2-0.1 27.1-0.2 27.2-0.2 27.2-0.2 27.2-0.3 27.2-0.3 27.1-0.3 27.2-0.4" fill="none" stroke="#000" stroke-width="3.2" stroke-linecap="square"/><path d="M595.4 881.1l4.2 18.3 4.3-55.4 4.2-13.1 4.3 47.9 4.2-18.3 4.3-17.2 4.2 17.6 4.3-37.4 4.2 22.5 4.3-7.4 4.2-1.3 4.3 4.3 4.2-7.9 4.3 12.7 4.2-9.2 4.3-6.3 4.2 7.6 4.3 0.8 4.2 3.4 4.3-2.9 4.2-4.1 4.3 6 4.2 7.6 4.3-10.2 4.2 1.9 4.3-3.5 4.2 2.3 4.3-7.2 4.2 14.8 4.3-2.7 4.2-8.8 4.3 10.5 4.2-8.1 4.3 1.7 4.2 9.2 4.3-12.6 4.2-3.3 4.3 5.4 4.2 7.4 4.3-10.3 4.2 9.5 4.3-4.8 4.2-2.4 4.3 5 4.2 4.6 4.3-7.2 4.2-0.5 4.3 4.4 4.2 0.6 4.3-9.5 4.2 4.7 4.3 1.9 4.2 1.1 4.3-4.5 4.2 0.4 4.3 1.5 4.2 7.5 4.3-5.9 4.2 0.7 4.3-3.7 4.2-7.3 4.3 1.3 4.2 2.4 4.3 3.2 4.2 3.8 4.3-5.3 4.2 5 4.3-0.5 4.2 4.4 4.3-6.4 4.2 0.2 4.3-17 4.2 11.7 4.3 8.3 4.2-11.4 4.3 12.2 4.2-16.1 4.3 3.3 4.2-24.5 4.3 47.2 4.2-13.1 4.3 0.5 4.2-7.6" fill="none" stroke="#ff0000" stroke-width="2.6" stroke-linejoin="round" stroke-linecap="square"/><path d="M595.4 848.3v65.5m4.2-63v97.2m4.3-127.4v46.7m4.2-53.7v34.5m4.3 7.7v46.1m4.2-54v25.1m4.3-42.4v25.3m4.2-11.3v32.7m4.3-69v30.3m4.2-7.8v30.4m4.3-30.7v16.3m4.2-17.8v16.6m4.3-12.8v17.5m4.2-24.7v16.2m4.3-3.7v16.7m4.2-24.9v14.6m4.3-21.8v16.4m4.2-7.2v13.2m4.3-11.4v11.2m4.2-8.8v13.2m4.3-14v8.9m4.2-14.6v12.2m4.3-5.9v11.6m4.2-2.9v9.4m4.3-20.9v12.1m4.2-10.3v12.3m4.3-14.5v9.5m4.2-7.3v9.8m4.3-16.1v8m4.2 5.2v11.2m4.3-12.7v8.8m4.2-18.5v10.6m4.3-0.2v10.8m4.2-18.3v9.6m4.3-7.2v8.3m4.2 0.9v8.2m4.3-21.4v9.4m4.2-12.5v9.1m4.3-4.5v10.7m4.2-3.7v11.4m4.3-21.1v10.3m4.2-0.4v9.4m4.3-14.5v10m4.2-11.1v7.4m4.3-2.9v8.3m4.2-3.6v8.2m4.3-17.1v11.6m4.2-10.5v8.4m4.3-5.3v10.9m4.2-11.4v13.3m4.3-20.7v9m4.2-5.5v11.5m4.3-9v10.1m4.2-8.9v10.1m4.3-17.2v15.2m4.2-13.3v12.2m4.3-9.5v9.7m4.2-2.5v10.4m4.3-16.8v11.4m4.2-10.1v10.2m4.3-13v8.5m4.2-16.6v10m4.3-9.1v10.7m4.2-8v10.2m4.3-7.2v10.6m4.2-9.6v16.1m4.3-18.7v10.8m4.2-6.5v12.3m4.3-14v14.5m4.2-10.3v15m4.3-18.8v9.8m4.2-11.8v14.2m4.3-33v17.9m4.2-5.2v15.7m4.3-8.8v18.6m4.2-30.1v18.8m4.3-4.3v14.2m4.2-30.7v15m4.3-15.2v21.9m4.2-48.3v25.9m4.3 21.2v26m4.2-40.3v28.4m4.3-27.2v27m4.2-43.9v45.7" stroke="#ff0000" stroke-width="2.4" fill="none" marker-start="url(#c2)" marker-mid="url(#c2)" marker-end="url(#c2)"/><path d="M595.4 840l27.2 0 27.1 0 27.2-0.1 27.2 0 27.2-0.1 27.2-0.1 27.1 0 27.2-0.2 27.2-0.1 27.2-0.1 27.2-0.2 27.1-0.1 27.2-0.2" fill="none" stroke="#000" stroke-width="3.2" stroke-linecap="square"/><path d="M595.4 891.2l4.2-87.3 4.3 66.1 4.2-30.5 4.3-9.6 4.2-9.8 4.3 8.3 4.2-0.6 4.3-5.6 4.2 20.3 4.3-12.5 4.2-6.4 4.3 23.1 4.2 5.3 4.3-3.2 4.2-21.1 4.3 4.3 4.2 11.1 4.3-4.6 4.2-1.1 4.3-4.4 4.2 18 4.3-7.3 4.2-2 4.3-3.4 4.2 1.6 4.3 2.3 4.2-3.2 4.3 12.7 4.2-22.8 4.3 6.1 4.2 0.3 4.3 8.3 4.2-5.3 4.3-8.8 4.2 2 4.3 8.4 4.2 5.1 4.3-5.5 4.2 2 4.3-6.1 4.2 11 4.3-4.8 4.2-2.5 4.3 4.1 4.2-8.4 4.3 12.5 4.2-0.3 4.3-5.2 4.2-5.4 4.3 5.5 4.2 2.2 4.3-8.2 4.2 3.5 4.3 4.3 4.2-3.8 4.3 2 4.2-5.5 4.3 3.4 4.2 5.5 4.3-2.2 4.2 0 4.3-4.6 4.2 0 4.3 7.4 4.2-3.8 4.3-3.1 4.2-5.8 4.3 6.2 4.2-11.8 4.3 13.2 4.2-6.4 4.3 9.6 4.2 6.1 4.3-9.9 4.2-3.7 4.3 0.9 4.2 2 4.3 5.3 4.2 7.1 4.3-6 4.2-12.3 4.3-9.6 4.2-42.1" fill="none" stroke="#bfbf00" stroke-width="2.6" stroke-linejoin="round" stroke-linecap="square"/><path d="M595.4 852.2v77.9m4.2-155.6v58.8m4.3 7.7v58m4.2-82.8v46.6m4.3-54.8v43.8m4.2-47.5v31.6m4.3-20.1v25.2m4.2-28.2v30m4.3-32.3v23.4m4.2-2.8v22.7m4.3-37.6v27.5m4.2-28.6v17.1m4.3 6.4v16.2m4.2-9.2v12.9m4.3-18v16.6m4.2-38v17.1m4.3-10v11.6m4.2-1.3v13.3m4.3-17.9v13.1m4.2-11.8v8.3m4.3-14.7v12.4m4.2 6.3v11.1m4.3-19.8v13.7m4.2-13.8v10.1m4.3-14v11.1m4.2-9.9v11.7m4.3-10.8v14.6m4.2-14.4v7.7m4.3 3.1v11.6m4.2-34.3v11.5m4.3-6.3v13.2m4.2-11v9.4m4.3-0.6v8.4m4.2-14.4v9.8m4.3-20.7v14m4.2-9.6v9.1m4.3-4.2v16.1m4.2-7.6v9.5m4.3-14.4v8.3m4.2-5.6v6.8m4.3-16.4v13.8m4.2-1v10.3m4.3-16.4v12.8m4.2-13.5v9.2m4.3-6.6v12.2m4.2-19.1v9.2m4.3-0.3v16.4m4.2-12.7v8.4m4.3-12.2v5.5m4.2-12.8v9.5m4.3-4.6v10.5m4.2-8.3v10.6m4.3-18.9v10.8m4.2-6.4v8.9m4.3-5.6v10.9m4.2-13.8v9.3m4.3-7v8.6m4.2-15.3v10.9m4.3-7.2v10.4m4.2-6.8v14.2m4.3-14v9.5m4.2-10.3v11m4.3-18.2v16.2m4.2-13.5v10.7m4.3-2.9v10m4.2-15.5v13.5m4.3-14.7v9.6m4.2-17.7v14.1m4.3-7.7v13.7m4.2-24.2v11.1m4.3 1.3v12.7m4.2-23.7v21.9m4.3-8.7v14.8m4.2-9.1v15.6m4.3-25.9v16.4m4.2-20.6v17.4m4.3-17.6v19.6m4.2-23.6v31.5m4.3-19.5v18.2m4.2-14.7v25.3m4.3-31.8v26.5m4.2-41.1v31m4.3-39.3v28.5m4.2-105v97.2" stroke="#bfbf00" stroke-width="2.4" fill="none" marker-start="url(#c3)" marker-mid="url(#c3)" marker-end="url(#c3)"/><path d="M595.4 840l27.2 0 27.1 0 27.2 0.1 27.2 0 27.2 0.1 27.2 0.1 27.1 0 27.2 0.2 27.2 0.1 27.2 0.1 27.2 0.2 27.1 0.1 27.2 0.2" fill="none" stroke="#000" stroke-width="3.2" stroke-linecap="square"/><path d="M595.4 897l4.2-96.6 4.3-14.1 4.2 44.5 4.3 13.2 4.2-23.9 4.3 37.7 4.2-15.2 4.3 17 4.2-24.1 4.3 1.5 4.2 8 4.3 2.2 4.2 8.6 4.3-8.8 4.2-18.2 4.3 13.8 4.2-12.5 4.3 16.1 4.2-6 4.3 3.2 4.2-1.8 4.3-7.5 4.2 17.6 4.3-17.1 4.2 0.5 4.3 4.5 4.2-0.4 4.3 1.7 4.2-5.2 4.3 3.5 4.2 4.9 4.3-5.7 4.2-3.4 4.3 2.6 4.2 1.6 4.3-0.9 4.2 3.6 4.3 0 4.2 6.5 4.3-8.1 4.2-7.7 4.3 9 4.2 4 4.3-12.5 4.2 4.9 4.3-0.1 4.2-2 4.3-2.1 4.2 5.2 4.3 3.5 4.2-12.8 4.3 8.5 4.2 5.2 4.3-6 4.2-7.1 4.3 15.7 4.2-15.2 4.3 8.4 4.2-13.8 4.3 8.4 4.2 5.1 4.3-10.4 4.2 1.5 4.3 10.4 4.2-4 4.3 5.1 4.2-11.1 4.3 16.1 4.2-7.3 4.3 20.6 4.2-27.9 4.3 27.6 4.2-10.3 4.3-14.7 4.2 6.7 4.3 1 4.2 4.4 4.3-4.4 4.2 17.3 4.3-28.4 4.2-8.2 4.3-2.6 4.2 42.5" fill="none" stroke="#00bfbf" stroke-width="2.6" stroke-linejoin="round" stroke-linecap="square"/><path d="M595.4 846.8v100.4m4.2-179.2v64.8m4.3-73.2v53.4m4.2-6.2v47.9m4.3-30v38.7m4.2-57.5v28.4m4.3 13.1v20.8m4.2-38.9v26.6m4.3-9v25.5m4.2-48.5v23.2m4.3-18.5v16.8m4.2-13.9v27m4.3-20.5v18.4m4.2-10.5v19.8m4.3-25.9v14.3m4.2-34.3v17.9m4.3-2.4v14.6m4.2-28v16.5m4.3 0.7v14.3m4.2-18.2v10m4.3-10.7v17.7m4.2-17.9v14.6m4.3-21.6v13.6m4.2 4.2v13.1m4.3-30.1v12.9m4.2-12.6v13.3m4.3-6.4v8.6m4.2-8.9v8.5m4.3-6.3v7.5m4.2-14.7v11.5m4.3-7.1v9.5m4.2-5.5v11.4m4.3-19.9v17m4.2-15.6v7.3m4.3-6.3v10.6m4.2-8.5v9.6m4.3-10.6v9.9m4.2-5.6v8.5m4.3-9.8v10.9m4.2-3.6v9.5m4.3-19.9v13.9m4.2-23.2v17.1m4.3-5.9v12.8m4.2-8.9v13m4.3-27.5v17m4.2-8.9v10.6m4.3-12.1v13.3m4.2-14.6v12m4.3-15.4v14.6m4.2-8.1v12m4.3-6.5v8m4.2-21.6v9.6m4.3-3.8v15m4.2-9.8v15.1m4.3-19.5v11.8m4.2-19.7v13.4m4.3 4v9.9m4.2-26.4v12.6m4.3-4.1v12.4m4.2-26.2v12.4m4.3-3.6v11.6m4.2-7.5v13.5m4.3-24.4v14.5m4.2-11.6v11.8m4.3-1.8v12.5m4.2-15.7v11.1m4.3-7.5v14m4.2-25.1v14m4.3 3.6v11.1m4.2-21.9v18m4.3 0.6v22.1m4.2-49.2v20.5m4.3 7.4v19.8m4.2-30.6v20.7m4.3-34.3v18.6m4.2-17.5v29.8m4.3-26.7v25.5m4.2-16.7v16.7m4.3-23.6v21.8m4.2-5.1v23m4.3-55.5v31.1m4.2-36.5v25.5m4.3-35.5v40.5m4.2 0.6v43.2" stroke="#00bfbf" stroke-width="2.4" fill="none" marker-start="url(#c4)" marker-mid="url(#c4)" marker-end="url(#c4)"/><path d="M595.4 840l27.2 0 27.1-0.1 27.2-0.1 27.2-0.1 27.2-0.2 27.2-0.3 27.1-0.2 27.2-0.4 27.2-0.3 27.2-0.4 27.2-0.5 27.1-0.4 27.2-0.6" fill="none" stroke="#000" stroke-width="3.2" stroke-linecap="square"/><path d="M595.4 767.4l4.2 25.9 4.3 20.9 4.2 66.6 4.3-45.7 4.2-10.5 4.3 3.1 4.2 25.1 4.3-16.2 4.2 19.6 4.3-4.4 4.2-9.6 4.3-4.8 4.2-14.2 4.3 13.3 4.2-7.9 4.3 22.5 4.2-3 4.3-4.6 4.2-15.8 4.3 20 4.2 5.4 4.3-12.8 4.2-7.3 4.3 17.7 4.2-9.7 4.3 8.1 4.2-18.2 4.3 4.7 4.2 2.1 4.3 2.2 4.2 1 4.3-2.2 4.2 4.5 4.3 2 4.2 0.7 4.3-6.5 4.2 4.9 4.3-10.4 4.2 16.2 4.3-14.8 4.2 1 4.3-5.5 4.2 9.8 4.3 7 4.2-3.2 4.3-12.7 4.2 9.2 4.3 0.7 4.2 0.4 4.3-2.6 4.2 1 4.3 7.8 4.2-6.3 4.3-9.4 4.2-1.5 4.3 8.8 4.2 2.2 4.3-14.4 4.2 12.3 4.3 6.9 4.2-7.4 4.3-5.4 4.2-6.7 4.3 14 4.2-7.2 4.3 6.5 4.2-10.7 4.3 7 4.2-0.9 4.3 11.3 4.2-6.2 4.3 0.1 4.2 16.9 4.3-28.9 4.2 8.9 4.3 2.1 4.2 2.3 4.3-5.1 4.2-3 4.3 23.9 4.2-22.9 4.3-32.7 4.2 33.9" fill="none" stroke="#bf00bf" stroke-width="2.6" stroke-linejoin="round" stroke-linecap="square"/><path d="M595.4 708v118.8m4.2-65.6v64.1m4.3-29.6v37m4.2 28v40.2m4.3-86.6v41.6m4.2-46.9v31.3m4.3-25.7v26.3m4.2-0.7v25.2m4.3-39.3v21m4.2-4.5v27.2m4.3-27.9v19.8m4.2-28.4v17.8m4.3-21.8v16.2m4.2-30.9v17.2m4.3-2.9v15.2m4.2-24.7v18.3m4.3 2.8v21.2m4.2-19.2v11.1m4.3-16.1v12m4.2-28.9v14.2m4.3 8.1v9.7m4.2-7.3v15.6m4.3-28.2v15.2m4.2-20.2v10.6m4.3 6.7v11.3m4.2-20.9v11.2m4.3-5.6v16.3m4.2-31.3v9.8m4.3-5.5v10.6m4.2-10.6v14.8m4.3-10.6v10.8m4.2-9v9.2m4.3-12.6v11.5m4.2-7.2v11.9m4.3-9.1v10.3m4.2-10v11.2m4.3-18.4v12.5m4.2-6.5v10.5m4.3-22.1v12.8m4.2 4.6v10.5m4.3-27.8v15.4m4.2-12.7v12.1m4.3-16.9v10.5m4.2-1.1v11.5m4.3-4.5v11.4m4.2-14.9v12m4.3-24.1v10.9m4.2-2.2v11.7m4.3-11.1v12.1m4.2-9.6v7.7m4.3-12.6v12.5m4.2-10.4v10.2m4.3-2.1v9.5m4.2-15.8v9.6m4.3-19.7v11m4.2-12.4v10.8m4.3-3.6v13.9m4.2-10.7v11.9m4.3-28.9v17.3m4.2-2.8v12.9m4.3-6.9v14.5m4.2-21.2v13.3m4.3-17.6v11m4.2-19.9v15.3m4.3 0.6v11.5m4.2-20.6v15.4m4.3-8.4v14.3m4.2-26.6v17.6m4.3-7.8v12m4.2-13.4v13m4.3-4.4v18.4m4.2-23.8v16.7m4.3-16.8v17.2m4.2-0.8v18.1m4.3-47.1v18.4m4.2-14.9v29.2m4.3-23.1v21.1m4.2-20.3v24.1m4.3-31.9v29.7m4.2-32.3v28.8m4.3-8.1v35.3m4.2-58.6v36m4.3-79.3v57.2m4.2-22.6v55.7" stroke="#bf00bf" stroke-width="2.4" fill="none" marker-start="url(#c5)" marker-mid="url(#c5)" marker-end="url(#c5)"/><path d="M595.4 840l27.2 0 27.1-0.1 27.2 0 27.2-0.1 27.2-0.2 27.2-0.1 27.1-0.2 27.2-0.2 27.2-0.2 27.2-0.3 27.2-0.3 27.1-0.3 27.2-0.4" fill="none" stroke="#000" stroke-width="3.2" stroke-linecap="square"/><path d="M595.4 900.1l4.2-105.7 4.3 64.7 4.2-36.4 4.3 22.5 4.2-20.1 4.3 11.6 4.2-14.7 4.3 26.5 4.2-10.8 4.3 7.5 4.2-2.8 4.3 1.5 4.2 4.9 4.3-18.9 4.2 7.9 4.3-6.3 4.2 14.8 4.3 7.4 4.2-9.5 4.3-3.3 4.2-5.7 4.3-0.8 4.2-0.6 4.3-3.5 4.2 6.6 4.3 2.6 4.2 4.9 4.3-7.5 4.2 6.1 4.3 1.7 4.2-7 4.3 1.4 4.2-3.3 4.3 7.7 4.2-9.3 4.3 4.2 4.2 2.7 4.3 2.2 4.2 2.6 4.3 0.6 4.2-11.6 4.3 12.2 4.2-8.9 4.3 3.5 4.2 2.2 4.3-1.6 4.2-1.2 4.3-4.4 4.2 1.3 4.3 2.8 4.2 7.4 4.3 1.6 4.2-17.7 4.3 13.3 4.2 3.3 4.3-14.6 4.2 13.9 4.3-11.2 4.2-1.1 4.3 4.3 4.2-5.2 4.3 14.5 4.2 1.4 4.3-8 4.2-1.4 4.3 0.6 4.2-3.3 4.3 7.2 4.2 12.7 4.3-20 4.2 4.8 4.3-8.3 4.2-13.1 4.3 18.9 4.2-4.8 4.3 15 4.2-19.6 4.3 5.1 4.2 2.8 4.3-9.1 4.2 31.1 4.3-30 4.2-0.7" fill="none" stroke="#ffa500" stroke-width="2.6" stroke-linejoin="round" stroke-linecap="square"/><path d="M595.4 850.9v98.3m4.2-179.4v49.1m4.3 17.6v45.3m4.2-94.3v70.4m4.3-33.8v42.3m4.2-54.5v26.3m4.3-21.2v39.4m4.2-61.1v53.5m4.3-11.5v22.4m4.2-32.3v20.7m4.3-11.9v18m4.2-20.4v17.1m4.3-14.4v14.9m4.2-9.8v14.4m4.3-34.6v17m4.2-7.1v13.1m4.3-20.6v15.4m4.2 1.1v12m4.3-4.1v11m4.2-21.8v13.7m4.3-15.7v10.9m4.2-16.2v10.3m4.3-10.7v9.5m4.2-10.3v9.9m4.3-14.4v11.9m4.2-3.4v8m4.3-7.3v11.8m4.2-7.1v12.3m4.3-18v8.5m4.2-3.4v10.7m4.3-8.2v8.9m4.2-15.3v7.8m4.3-7.8v10.5m4.2-14v11m4.3-2.1v8.6m4.2-18.4v9.6m4.3-5v8.8m4.2-6v8.6m4.3-5.1v6.1m4.2-5.3v9.6m4.3-8.3v8.2m4.2-18.9v6.4m4.3 4.4v9.1m4.2-16.7v6.6m4.3-4.5v9.4m4.2-7.5v10m4.3-10.1v7m4.2-10.7v12.1m4.3-14.8v8.5m4.2-7.8v9.9m4.3-6v7.5m4.2-1.1v9.5m4.3-6.7v7.2m4.2-25.5v8.5m4.3 5.5v6.9m4.2-4.8v9.4m4.3-23.4v8.3m4.2 5.9v7.6m4.3-20.4v10.7m4.2-12v11.3m4.3-4.6v6.5m4.2-14.2v11.4m4.3 0.9v15.8m4.2-14.6v16.2m4.3-23.3v14.4m4.2-12.4v7.6m4.3-8.4v10.4m4.2-14.5v12m4.3-4.5v11.5m4.2-1.1v15.9m4.3-35.7v15.7m4.2-10.2v14.2m4.3-24v17.1m4.2-28.4v13.5m4.3-1.7v27.8m4.2-27.5v17.5m4.3-2.4v17.3m4.2-41.4v26.4m4.3-23.9v31.5m4.2-24v22.3m4.3-31.1v21.7m4.2 3.6v33.3m4.3-66v38.6m4.2-39.3v38.6" stroke="#ffa500" stroke-width="2.4" fill="none" marker-start="url(#c6)" marker-mid="url(#c6)" marker-end="url(#c6)"/><path d="M595.4 840l27.2 0 27.1 0.1 27.2 0 27.2 0.1 27.2 0.2 27.2 0.1 27.1 0.2 27.2 0.2 27.2 0.2 27.2 0.3 27.2 0.3 27.1 0.3 27.2 0.4" fill="none" stroke="#000" stroke-width="3.2" stroke-linecap="square"/></g>
<g clip-path="url(#k31)"><path d="M595.4 1059.8l4.2 48.6 4.3-15.3 4.2-44.1 4.3-5 4.2 29.2 4.3 9.4 4.2-17.1 4.3-3.6 4.2 23.5 4.3-26.9 4.2 22.9 4.3-15.9 4.2 20.7 4.3-7.3 4.2 4.3 4.3-3.8 4.2-7.8 4.3 14 4.2-3.7 4.3-6.5 4.2 6.9 4.3-16.7 4.2 24.4 4.3-23 4.2 16.2 4.3-9.4 4.2-4.4 4.3 6.4 4.2 11.1 4.3-6.6 4.2-2.4 4.3-3 4.2-1.8 4.3-0.3 4.2-2.1 4.3 11.9 4.2-10.1 4.3 13.4 4.2-9.4 4.3 7 4.2 2.6 4.3-13.7 4.2 4.6 4.3-5.5 4.2 13.3 4.3-3.2 4.2-4.9 4.3 2.1 4.2-3.3 4.3 3.8 4.2-2.2 4.3 4.6 4.2-13.1 4.3 8 4.2 6.5 4.3-12.8 4.2 1.1 4.3 1.6 4.2-0.4 4.3 3.6 4.2-1.8 4.3 11.3 4.2-2.3 4.3-2.4 4.2-10 4.3-9.4 4.2 12 4.3 0.4 4.2-10.1 4.3 10.6 4.2-8.6 4.3 1.3 4.2 15 4.3-14.8 4.2 0.5 4.3 17.2 4.2-4.3 4.3 7.3 4.2-38.4 4.3-13.6 4.2 19.2 4.3-18.9 4.2 68.9" fill="none" stroke="#0000ff" stroke-width="2.6" stroke-linejoin="round" stroke-linecap="square"/><path d="M595.4 1027.1v65.5m4.2-7.4v46.4m4.3-62.6v48.2m4.2-82.1v27.8m4.3-39.8v41.9m4.2-7.5v31.5m4.3-25.7v38.6m4.2-48.4v24m4.3-27v22.9m4.2 3v17.9m4.3-47.5v23.4m4.2 1.6v19.3m4.3-39.9v28.5m4.2-6.8v26.7m4.3-31.6v21.8m4.2-13.9v14.5m4.3-17.3v12.5m4.2-21.2v14.4m4.3-0.3v14.2m4.2-18.9v16.3m4.3-21.7v13.9m4.2-6v12m4.3-28.7v12.1m4.2 12.1v12.5m4.3-33.2v7.8m4.2 5.7v13.1m4.3-21.1v10.4m4.2-14.2v9.2m4.3-4.8v13.2m4.2-0.1v9.2m4.3-17.3v12.3m4.2-14.7v12.2m4.3-14.9v11.5m4.2-13v11.1m4.3-10.8v9.8m4.2-11.5v9m4.3 3.4v7.9m4.2-17.9v7.9m4.3 4.8v9.1m4.2-20.9v13.9m4.3-6v12.2m4.2-8.1v9.2m4.3-23v9.5m4.2-5.4v10.3m4.3-16.8v12.4m4.2 2.8v8.5m4.3-11.8v8.9m4.2-14.2v9.6m4.3-6.1v6.9m4.2-11v8.4m4.3-6.8v12.8m4.2-13.2v9.2m4.3-5v9.9m4.2-22.8v9.6m4.3-2.2v10.8m4.2-5.4v13.1m4.3-26.8v14.8m4.2-11.7v10.8m4.3-8.4v9.2m4.2-10.7v11.4m4.3-6.9v9.5m4.2-12.2v11.5m4.3-0.9v12.8m4.2-16.5v15.6m4.3-16.8v13.2m4.2-22.3v11.4m4.3-22.3v14.3m4.2-1.7v13.2m4.3-13.3v14.1m4.2-23.7v13.2m4.3-2.8v13.5m4.2-22.5v14.3m4.3-16.3v20.9m4.2-4.5v18.2m4.3-33v18.3m4.2-19.9v22.3m4.3-8.5v29.2m4.2-29.2v20.7m4.3-17v27.8m4.2-62.6v20.6m4.3-35v22.1m4.2-4.8v26m4.3-45.3v26.7m4.2 30.4v50.4" stroke="#0000ff" stroke-width="2.4" fill="none" marker-start="url(#c0)" marker-mid="url(#c0)" marker-end="url(#c0)"/><path d="M595.4 1080l27.2-0.1 27.1-0.2 27.2-0.3 27.2-0.5 27.2-0.7 27.2-0.7 27.1-1 27.2-1 27.2-1.2 27.2-1.3 27.2-1.5 27.1-1.7 27.2-1.7" fill="none" stroke="#000" stroke-width="3.2" stroke-linecap="square"/><path d="M595.4 1099.7l4.2-55.1 4.3 16.4 4.2-0.9 4.3 15.6 4.2-16.7 4.3 40.6 4.2-8.4 4.3 23.2 4.2-41.7 4.3 15 4.2-16.2 4.3 3 4.2 18.3 4.3-18.9 4.2 2.9 4.3 0.8 4.2-1.5 4.3 3.4 4.2-0.4 4.3-8.1 4.2 15.7 4.3 0.8 4.2-4.1 4.3-11.6 4.2 8.9 4.3-14.6 4.2 28.1 4.3-10.5 4.2-2.3 4.3-4.9 4.2-5.9 4.3 8.2 4.2 5 4.3-10.2 4.2-4.6 4.3 22.9 4.2-17.8 4.3 1.1 4.2 5.7 4.3-1.6 4.2-4.7 4.3 1.3 4.2 1.1 4.3 5.7 4.2-8.8 4.3 4.8 4.2-4.1 4.3 3.9 4.2-4.8 4.3-2.9 4.2 2.2 4.3-2.5 4.2 8.9 4.3-8.5 4.2 0.3 4.3 5.4 4.2-2.7 4.3 7.9 4.2-10.1 4.3 3.4 4.2 13.5 4.3-20.5 4.2 7.1 4.3-6.5 4.2 3.4 4.3-5.4 4.2 2.7 4.3 2.7 4.2-7 4.3-5.3 4.2 29.9 4.3-21.5 4.2 6.2 4.3 4.1 4.2-26.9 4.3 3.4 4.2 26.9 4.3 3.4 4.2-29.8 4.3 22 4.2-4.9 4.3 31.1 4.2-34.5" fill="none" stroke="#008000" stroke-width="2.6" stroke-linejoin="round" stroke-linecap="square"/><path d="M595.4 1070.3v58.8m4.2-107.7v46.3m4.3-28.2v43.1m4.2-46.7v48.4m4.3-25.1v32.9m4.2-56.4v46.6m4.3-1.6v37.9m4.2-42.6v30.3m4.3-4.3v24.8m4.2-64.6v21m4.3-3.4v15.7m4.2-37.8v27.6m4.3-18.9v16.2m4.2 1.4v17.5m4.3-34.1v13m4.2-11.9v16.5m4.3-12.9v10.9m4.2-16v18.1m4.3-13.4v15.6m4.2-14v11.6m4.3-19.6v11.3m4.2 3.2v13.9m4.3-13v13.7m4.2-16.4v10.8m4.3-23.6v13.2m4.2-2.9v10.3m4.3-25.9v12.3m4.2 14.2v15.6m4.3-25.8v15m4.2-16.9v14.2m4.3-17v10m4.2-15.2v8.5m4.3-1.8v11.6m4.2-6v10.5m4.3-19v7.1m4.2-13.6v10.8m4.3 12.5v10.1m4.2-27v8.2m4.3-8.2v10.5m4.2-5v10.8m4.3-12.2v10.3m4.2-14.9v10.2m4.3-9.1v10.6m4.2-8.4v8.4m4.3-3.4v9.8m4.2-19.2v10.9m4.3-5.4v9.6m4.2-14.2v10.5m4.3-8v13.4m4.2-16.1v9.1m4.3-11.4v8.1m4.2-6.7v9.5m4.3-13.6v12.8m4.2-0.9v6.7m4.3-16.6v9.6m4.2-10v11.1m4.3-5.7v11.1m4.2-13.6v10.5m4.3-1.6v8.6m4.2-20.8v12.8m4.3-9.2v12.4m4.2 0.8v12.9m4.3-31.5v9.3m4.2-3.4v11.6m4.3-18.1v11.6m4.2-7.7v10.6m4.3-17v12.6m4.2-9v10.8m4.3-11.4v17.3m4.2-25.7v20.1m4.3-22.6v14.6m4.2 14.5v16.1m4.3-38.3v17.5m4.2-10.7v16.4m4.3-12.2v16.2m4.2-46.3v22.7m4.3-22.1v28.2m4.2-3v31.7m4.3-27.2v29.3m4.2-56.3v23.9m4.3-6.1v32.3m4.2-40.5v38.8m4.3-3.2v29.8m4.2-72.1v45.3" stroke="#008000" stroke-width="2.4" fill="none" marker-start="url(#c1)" marker-mid="url(#c1)" marker-end="url(#c1)"/><path d="M595.4 1080l27.2-0.1 27.1-0.3 27.2-0.4 27.2-0.7 27.2-0.8 27.2-1 27.1-1.2 27.2-1.4 27.2-1.5 27.2-1.8 27.2-1.9 27.1-2.1 27.2-2.3" fill="none" stroke="#000" stroke-width="3.2" stroke-linecap="square"/><path d="M595.4 1111.6l4.2-63.3 4.3 34.1 4.2 3.5 4.3-14 4.2-4.7 4.3-6.3 4.2 28.7 4.3-16.9 4.2-2.3 4.3 21.8 4.2-13.4 4.3 10.2 4.2-6.6 4.3-6.6 4.2 20.7 4.3-9.2 4.2-1.7 4.3-6.8 4.2 6.8 4.3-9.3 4.2 10 4.3-4 4.2-7.4 4.3 2.5 4.2 0.7 4.3 1.1 4.2-6.6 4.3-2 4.2 10.5 4.3 1.3 4.2 2.4 4.3-16.2 4.2 14.5 4.3 1.2 4.2-7.7 4.3-4.3 4.2 12.7 4.3-6.6 4.2 6.4 4.3-3.5 4.2-12.7 4.3 7.7 4.2 2.5 4.3-2.1 4.2-1.7 4.3 2.1 4.2 6.4 4.3-1.5 4.2-19.1 4.3 16.8 4.2-10.9 4.3 10.4 4.2-9.7 4.3 1.8 4.2 5.3 4.3-11.8 4.2 17.3 4.3-6 4.2 4.6 4.3-2.1 4.2-2.4 4.3 4 4.2-4.5 4.3-13.3 4.2 20.4 4.3-0.3 4.2-2.8 4.3-3.6 4.2-12 4.3 2.3 4.2 1.7 4.3 1.7 4.2-20.3 4.3 34.8 4.2 2.6 4.3-15.5 4.2-3.6 4.3 6.1 4.2 10.8 4.3 9.8 4.2-19.6 4.3 21.7 4.2-16.8" fill="none" stroke="#ff0000" stroke-width="2.6" stroke-linejoin="round" stroke-linecap="square"/><path d="M595.4 1085.6v52m4.2-115.2v51.8m4.3-9.2v34.9m4.2-37.7v47.4m4.3-52.1v28.8m4.2-35.2v32.2m4.3-34.4v24m4.2 1.9v29.5m4.3-43.1v23m4.2-25.7v23.9m4.3 1v17.7m4.2-30v15.3m4.3-7.6v20.4m4.2-24.8v16m4.3-22.6v16m4.2 2.9v19.7m4.3-28.8v19.3m4.2-18v13.5m4.3-21.3v15.4m4.2-10.8v19.7m4.3-28.2v18.3m4.2-6.1v13.8m4.3-15.8v9.7m4.2-19.7v15m4.3-10v10m4.2-9.3v10.1m4.3-9.1v10.2m4.2-17.8v12.1m4.3-13.3v10.6m4.2-0.5v11.5m4.3-9.1v9.1m4.2-6.5v8.9m4.3-27.5v13.5m4.2 1.9v11.8m4.3-10v10.6m4.2-18.1v10.2m4.3-14.5v10.2m4.2 1.9v11.4m4.3-17.6v10.6m4.2-2.3v6.9m4.3-12.2v10.4m4.2-22.2v8.5m4.3-1.5v10.1m4.2-7.9v10.7m4.3-13.2v11.3m4.2-13.8v13m4.3-7.7v6.6m4.2-3.5v13.1m4.3-12.3v8.6m4.2-28.8v10.9m4.3 7.1v8.5m4.2-20.4v10.4m4.3 0.9v8.7m4.2-19v9.8m4.3-8.5v10.8m4.2-5.6v11.1m4.3-22.9v11m4.2 4.5v14.5m4.3-19.1v11.8m4.2-7.9v13.3m4.3-12.9v8.1m4.2-10.6v8.5m4.3-4.9v9.2m4.2-15.3v12.5m4.3-26.5v13.8m4.2 8.9v9.2m4.3-10.7v11.7m4.2-15.4v13.5m4.3-16.7v12.6m4.2-26.4v16.2m4.3-12.6v13.5m4.2-11.7v13.3m4.3-17.1v24.4m4.2-40.9v16.7m4.3 16.2v20.6m4.2-22.8v30.2m4.3-39.2v17.1m4.2-27.1v30m4.3-21.7v25.5m4.2-17.2v30.6m4.3-23.3v35.5m4.2-51.3v28m4.3-14.4v44.3m4.2-65.3v52.6" stroke="#ff0000" stroke-width="2.4" fill="none" marker-start="url(#c2)" marker-mid="url(#c2)" marker-end="url(#c2)"/><path d="M595.4 1080l27.2-0.1 27.1-0.2 27.2-0.3 27.2-0.4 27.2-0.6 27.2-0.7 27.1-0.8 27.2-1 27.2-1 27.2-1.2 27.2-1.4 27.1-1.4 27.2-1.6" fill="none" stroke="#000" stroke-width="3.2" stroke-linecap="square"/><path d="M595.4 1069.8l4.2-8.9 4.3 68 4.2-3.9 4.3-48.3 4.2 24.1 4.3-17.3 4.2 4.3 4.3-15.5 4.2 29.6 4.3-15.3 4.2-17.6 4.3 8.5 4.2 12.4 4.3-14.8 4.2 2.1 4.3 11.9 4.2-15.2 4.3 0.3 4.2 6.4 4.3-7.4 4.2 13.3 4.3-12.2 4.2 6.3 4.3 4.1 4.2-1.7 4.3-10.6 4.2 9.9 4.3-1.5 4.2 1.9 4.3 1.8 4.2-11.4 4.3-7.3 4.2 5.8 4.3 4.1 4.2-0.7 4.3 5.4 4.2 0.9 4.3 2.3 4.2-12.7 4.3 9.2 4.2 2.6 4.3-1.5 4.2-4.2 4.3 3.6 4.2-2.8 4.3-0.6 4.2-5.7 4.3 13.5 4.2-9.2 4.3 5.3 4.2-0.8 4.3-12.4 4.2 6.2 4.3 4.9 4.2-4.9 4.3 2.7 4.2-5.9 4.3 8.6 4.2-6.4 4.3 4.3 4.2-1.4 4.3 0.8 4.2 3.2 4.3-4.8 4.2-6.2 4.3 11.8 4.2-2.4 4.3-6.2 4.2 9.1 4.3-16.1 4.2 2.7 4.3 29.8 4.2-17 4.3 4.6 4.2-19.6 4.3-3.2 4.2 26 4.3-3.8 4.2-9.9 4.3 4.8 4.2-19.7 4.3-2.2 4.2 1.1" fill="none" stroke="#bfbf00" stroke-width="2.6" stroke-linejoin="round" stroke-linecap="square"/><path d="M595.4 1034.2v71.2m4.2-74.9v60.8m4.3 16.6v42m4.2-43.2v36.6m4.3-83v32.9m4.2-13.5v42.2m4.3-55.8v34.7m4.2-30.9v35.8m4.3-44.8v22.7m4.2 8v20.6m4.3-36.9v22.5m4.2-41.5v25.4m4.3-14.8v21.3m4.2-10v23.4m4.3-34.8v16.6m4.2-14.9v17.4m4.3-7.4v21.1m4.2-32.3v13.3m4.3-15.9v19.1m4.2-9.4v12.5m4.3-20.9v14.3m4.2 0.9v10.7m4.3-23.9v12.7m4.2-5.2v10.2m4.3-5.8v9.6m4.2-12.8v12.7m4.3-22.2v10.5m4.2-0.2v9.5m4.3-11.1v9.8m4.2-8.6v11.3m4.3-10.4v13m4.2-23.8v11.7m4.3-20.5v14.7m4.2-6.3v9.7m4.3-6.7v11.8m4.2-11.4v9.6m4.3-3.2v7.5m4.2-6.6v7.7m4.3-5.7v8.3m4.2-22.4v10.9m4.3-1.3v10.2m4.2-7.8v10.7m4.3-10.9v7.9m4.2-13.7v11.3m4.3-6.3v8.4m4.2-10.5v7m4.3-8v7.7m4.2-14v8.9m4.3 3.3v11.6m4.2-21v12m4.3-6.7v12.1m4.2-14v14.3m4.3-24.8v10.3m4.2-2v6.3m4.3-3.4v10.3m4.2-15.1v10m4.3-9.9v15.3m4.2-19.3v11.4m4.3-3.2v12.1m4.2-19.9v15m4.3-8.3v10.1m4.2-12.1v11.5m4.3-9.1v8.1m4.2-6.7v11.7m4.3-15.6v9.9m4.2-18.3v14.4m4.3-2.7v14.7m4.2-18.1v16.5m4.3-24.7v20.6m4.2-7.5v12.6m4.3-32.3v19.7m4.2-16.1v17.9m4.3 9.3v23.2m4.2-40.5v23.8m4.3-18.6v22.7m4.2-40.4v18.7m4.3-22.3v19.7m4.2 4.8v22.5m4.3-29.9v29.9m4.2-41.3v32.7m4.3-25.4v27.8m4.2-54.6v42.1m4.3-36.3v25.9m4.2-35.8v47.9" stroke="#bfbf00" stroke-width="2.4" fill="none" marker-start="url(#c3)" marker-mid="url(#c3)" marker-end="url(#c3)"/><path d="M595.4 1080l27.2 0 27.1-0.2 27.2-0.2 27.2-0.3 27.2-0.4 27.2-0.4 27.1-0.6 27.2-0.6 27.2-0.7 27.2-0.8 27.2-0.9 27.1-1 27.2-1" fill="none" stroke="#000" stroke-width="3.2" stroke-linecap="square"/><path d="M595.4 1102.6l4.2 7.4 4.3-30.3 4.2 24.1 4.3 0.5 4.2-22.7 4.3-5.6 4.2 18 4.3 8 4.2-25 4.3-8.8 4.2 16.3 4.3-0.8 4.2 14.9 4.3-26.4 4.2 15.3 4.3-16.7 4.2 14.4 4.3-5 4.2 0.7 4.3 8.8 4.2-27.3 4.3 28.3 4.2-12.7 4.3 5.6 4.2-3.9 4.3-10.3 4.2 22.3 4.3-12.7 4.2-4.3 4.3 2.2 4.2-1.3 4.3 7.3 4.2 3.7 4.3-3.2 4.2-4.4 4.3-6.2 4.2 3.2 4.3-9 4.2 8.6 4.3-1 4.2-0.3 4.3 9.6 4.2-12.5 4.3 10.7 4.2-5 4.3-16.7 4.2 19.7 4.3-6.8 4.2-1 4.3 0.3 4.2 0.7 4.3 2.5 4.2-16.3 4.3 25.6 4.2-6.8 4.3-15.5 4.2 5.2 4.3 9.1 4.2-0.9 4.3-4 4.2-14.8 4.3 9.4 4.2 10.1 4.3-9 4.2 6 4.3-15 4.2 7.2 4.3-8.2 4.2 8.4 4.3-21 4.2 16.9 4.3 1.2 4.2 15.9 4.3-8.9 4.2-10.5 4.3 11.5 4.2-36.6 4.3 29.6 4.2 10.1 4.3-27.5 4.2 26.4 4.3-45.8 4.2 37" fill="none" stroke="#00bfbf" stroke-width="2.6" stroke-linejoin="round" stroke-linecap="square"/><path d="M595.4 1080.9v43.4m4.2-43.4v58.3m4.3-80.6v42.2m4.2-18.6v43.2m4.3-39v35.9m4.2-52.7v24.1m4.3-34v32.7m4.2-12.8v28.7m4.3-17.3v22m4.2-44.8v17.7m4.3-31.5v27.7m4.2-6.5v17.7m4.3-19.8v20.4m4.2-2.2v13.7m4.3-39.9v13.3m4.2-1.2v19.7m4.3-39.5v26.1m4.2-7.4v17.4m4.3-22.6v17.9m4.2-19.2v21.7m4.3-8.2v12.5m4.2-42.5v17.8m4.3 12.7v13.3m4.2-24.8v10.9m4.3-4.8v10.1m4.2-14.7v11.4m4.3-20.8v9.7m4.2 11.3v12.3m4.3-25.7v13.5m4.2-16.3v10.6m4.3-9.7v13.1m4.2-13.5v11.4m4.3-4.2v11.6m4.2-8.6v12.9m4.3-13.6v8m4.2-12.6v8.5m4.3-15.4v9.8m4.2-7.7v12m4.3-19.7v9.4m4.2 0.5v6.9m4.3-10v11m4.2-11.4v11.1m4.3-0.5v9.2m4.2-22.5v10.8m4.3-0.3v11.2m4.2-16.6v12m4.3-28.5v11.5m4.2 8.9v10.2m4.3-16.9v10m4.2-10v8.1m4.3-13.1v18.5m4.2-14.3v11.5m4.3-7.8v9.1m4.2-27.6v13.7m4.3 12.7v12.1m4.2-17.9v10m4.3-26.6v12.3m4.2-7.3v12.5m4.3-5.5v16.8m4.2-13.3v8m4.3-14.2v12.4m4.2-26.7v11.5m4.3-1.9v11m4.2-1.3v11.8m4.3-20.1v10.5m4.2-5v11.4m4.3-26.2v11m4.2-6.1v15.7m4.3-21.9v11.6m4.2-4.6v14.4m4.3-35v13.7m4.2 0.4v19.2m4.3-19.4v22m4.2-6.7v23.1m4.3-30.3v19.9m4.2-31.4v21.8m4.3-12v25.2m4.2-60.5v22.6m4.3 2.2v32.3m4.2-19.2v26.1m4.3-54.9v28.7m4.2-10.2v44.6m4.3-96.7v57.3m4.2-18.7v53.9" stroke="#00bfbf" stroke-width="2.4" fill="none" marker-start="url(#c4)" marker-mid="url(#c4)" marker-end="url(#c4)"/><path d="M595.4 1080l27.2-0.1 27.1-0.3 27.2-0.6 27.2-0.7 27.2-0.9 27.2-1.2 27.1-1.4 27.2-1.6 27.2-1.8 27.2-2 27.2-2.2 27.1-2.4 27.2-2.7" fill="none" stroke="#000" stroke-width="3.2" stroke-linecap="square"/><path d="M595.4 1047l4.2 36.3 4.3 31.9 4.2-57.4 4.3 25.3 4.2-11.3 4.3-3.4 4.2 22.9 4.3-32 4.2 19.8 4.3-2 4.2 7.4 4.3-13.5 4.2-2.1 4.3 16.9 4.2-12.7 4.3 10.2 4.2 5.5 4.3-6.4 4.2-7.2 4.3 0.3 4.2-5.3 4.3 14.1 4.2-2.7 4.3-2.8 4.2-3.6 4.3 4.8 4.2 4.1 4.3 4.5 4.2-17.1 4.3 2.6 4.2 9.3 4.3-12.5 4.2 8.1 4.3-3.6 4.2-2.6 4.3 8.4 4.2 1.2 4.3 5.4 4.2-11.2 4.3-1.5 4.2-1.3 4.3 0.5 4.2 2.8 4.3-5.7 4.2 11.5 4.3-7.6 4.2-1.3 4.3 3.8 4.2-10.3 4.3 7.3 4.2-5.8 4.3 2.2 4.2 6.3 4.3-14.5 4.2 8.1 4.3 4.8 4.2 0.8 4.3 4.7 4.2-4.9 4.3 0.7 4.2-3.3 4.3 4.1 4.2-6.8 4.3 4.3 4.2 10.3 4.3-6.8 4.2 3.1 4.3 2.5 4.2-8.7 4.3-11.7 4.2 19.6 4.3 7.4 4.2-15.8 4.3-26.9 4.2 30.1 4.3-8.6 4.2 8 4.3-16.6 4.2-12.3 4.3 26.6 4.2-38 4.3 58.1 4.2-76.9" fill="none" stroke="#bf00bf" stroke-width="2.6" stroke-linejoin="round" stroke-linecap="square"/><path d="M595.4 1020v54m4.2-17.9v54.3m4.3-15.1v39.9m4.2-96.8v38.8m4.3-8.3v28.5m4.2-42.3v33.4m4.3-35v29.9m4.2-4v23.8m4.3-53.7v19.6m4.2 2.8v14.4m4.3-19.4v20.4m4.2-13.4v21.3m4.3-35.3v22.1m4.2-23v19.9m4.3-5.2v24.2m4.2-34.5v19.4m4.3-7.6v16.3m4.2-10.4v15.5m4.3-22.8v17.3m4.2-22.8v13.7m4.3-13.1v13.2m4.2-22.3v20.8m4.3-2.9v13.3m4.2-16v13.2m4.3-14.9v11.1m4.2-16.8v15.1m4.3-10.9v16.3m4.2-8.9v9.7m4.3-6.7v12.8m4.2-29.6v12.3m4.3-7.7v8.2m4.2-1.8v14.1m4.3-24.9v10.6m4.2-2.4v10.4m4.3-17v16.3m4.2-14.6v7.7m4.3-2v13.2m4.2-12v13.1m4.3-8v13.9m4.2-22.9v9.4m4.3-11.9v11.4m4.2-10.4v6.8m4.3-8v10.3m4.2-10.1v15.3m4.3-17.2v7.8m4.2 3.8v7.6m4.3-16.9v11m4.2-13v12.5m4.3-6.5v8.1m4.2-19.4v10m4.3-2.4v9.4m4.2-14.6v8.3m4.3-8.4v12.8m4.2-4.3v8.5m4.3-26.2v14.9m4.2-3.8v8.8m4.3-6.1v13.1m4.2-10v8.4m4.3-4.1v9.2m4.2-14.1v9.1m4.3-10.1v12.7m4.2-15.5v11.7m4.3-7.5v11.5m4.2-19.7v14.2m4.3-8.5v11.5m4.2-1.6v12.3m4.3-21.5v17m4.2-13.1v15.4m4.3-13.6v16.8m4.2-25.2v16.2m4.3-28.9v18.3m4.2 2v16.7m4.3-6v10.3m4.2-31.7v21.3m4.3-49.5v23.9m4.2 11v14.4m4.3-27.5v23.4m4.2-12.7v18.1m4.3-40.1v28.7m4.2-40.1v26.9m4.3-5.9v38.3m4.2-81.3v48.3m4.3 14.3v39.2m4.2-139.7v86.4" stroke="#bf00bf" stroke-width="2.4" fill="none" marker-start="url(#c5)" marker-mid="url(#c5)" marker-end="url(#c5)"/><path d="M595.4 1080l27.2 0 27.1-0.2 27.2-0.2 27.2-0.4 27.2-0.4 27.2-0.6 27.1-0.6 27.2-0.8 27.2-0.8 27.2-0.9 27.2-1.1 27.1-1.1 27.2-1.2" fill="none" stroke="#000" stroke-width="3.2" stroke-linecap="square"/><path d="M595.4 1123.6l4.2-31.8 4.3-60.2 4.2 49.6 4.3-1 4.2 11.4 4.3-4.6 4.2-15.6 4.3 17.1 4.2 3.7 4.3-5.3 4.2-2.9 4.3-5.7 4.2 6.1 4.3-2.6 4.2 5.4 4.3-16.6 4.2 9.3 4.3 3.3 4.2-4.4 4.3 2.3 4.2 10.2 4.3-9.1 4.2-12.1 4.3 8.1 4.2-3.7 4.3 9.6 4.2 6.6 4.3-6.1 4.2-9.8 4.3 13.9 4.2-2.9 4.3-8.2 4.2 6.1 4.3-0.4 4.2-2.5 4.3 1.5 4.2 2.1 4.3-2.7 4.2 4.7 4.3-2.9 4.2-2.8 4.3 8.3 4.2-4.3 4.3 5.1 4.2-8.8 4.3 0.7 4.2-2.4 4.3 1.2 4.2 0.3 4.3 0.7 4.2 7.5 4.3-7.7 4.2 8.9 4.3-17.6 4.2 12.4 4.3-1.5 4.2 9.8 4.3-11.4 4.2-1 4.3 15.8 4.2-6.2 4.3 0.6 4.2 0.5 4.3-11.6 4.2-5.5 4.3 25.1 4.2-16.3 4.3 8.3 4.2-16.1 4.3 30.5 4.2-11.3 4.3-15.3 4.2 17.8 4.3-18.8 4.2 18.4 4.3-18.6 4.2 7.8 4.3 13.1 4.2 2.7 4.3-5.7 4.2-28.3 4.3 26.3 4.2 33.1" fill="none" stroke="#ffa500" stroke-width="2.6" stroke-linejoin="round" stroke-linecap="square"/><path d="M595.4 1087.9v71.3m4.2-87.4v40.1m4.3-100.6v40.5m4.2 6.5v45.8m4.3-36.8v25.9m4.2-15.9v28.6m4.3-31.4v24.9m4.2-38.4v20.8m4.3-6.7v26.7m4.2-21v22.8m4.3-26.6v19.9m4.2-24.6v23.4m4.3-26.3v17.8m4.2-11.2v16.8m4.3-19.1v16.2m4.2-12.2v18.9m4.3-33.8v15.6m4.2-5.1v13.3m4.3-9.3v11.8m4.2-16.4v12.2m4.3-10.1v12.6m4.2-1.7v11.2m4.3-19.9v10.4m4.2-24.2v13.8m4.3-3.3v9.1m4.2-13.9v11.2m4.3 0.6v6.9m4.2-1.2v8.7m4.3-15.5v10.1m4.2-20v10.2m4.3 2.1v13.5m4.2-13.2v7m4.3-15.3v7.2m4.2-3.1v11.2m4.3-9.7v7.3m4.2-11.6v10.9m4.3-7v6.2m4.2-6.2v10.4m4.3-11.4v7m4.2-2.1v6.6m4.3-10.1v7.9m4.2-10.9v8.3m4.3 0v8.2m4.2-11.9v7.1m4.3-2.5v8m4.2-15.9v6.2m4.3-5.9v7m4.2-10.3v8.8m4.3-6.7v7.1m4.2-6.8v7m4.3-6v6.4m4.2 0.5v7.6m4.3-16.5v10m4.2-0.1v8.1m4.3-27.4v11.4m4.2 3.1v7.2m4.3-9.1v8.1m4.2 0.9v9.5m4.3-19.6v7m4.2-9.3v9.5m4.3 7v8.2m4.2-15.1v9.7m4.3-9.1v9.6m4.2-9.5v10.5m4.3-23.4v12.9m4.2-16.6v9.5m4.3 10.4v19.7m4.2-30.9v9.6m4.3-4.7v16.3m4.2-32.9v17.4m4.3 15.3v13.1m4.2-26.3v16.8m4.3-33.9v20.3m4.2 2.3v10.9m4.3-35.2v21.8m4.2-1.6v18.1m4.3-37.7v20.2m4.2-11.7v18.7m4.3-12.1v31.7m4.2-24.9v23.5m4.3-36.7v38.6m4.2-65.8v36.3m4.3-7.3v31m4.2-9.4v54" stroke="#ffa500" stroke-width="2.4" fill="none" marker-start="url(#c6)" marker-mid="url(#c6)" marker-end="url(#c6)"/><path d="M595.4 1080l27.2 0.1 27.1 0.2 27.2 0.5 27.2 0.6 27.2 0.7 27.2 0.9 27.1 1.1 27.2 1.3 27.2 1.5 27.2 1.6 27.2 1.7 27.1 2 27.2 2.1" fill="none" stroke="#000" stroke-width="3.2" stroke-linecap="square"/></g>
<g clip-path="url(#k41)"><path d="M595.4 1313.5l4.2 21.8 4.3-10.2 4.2 33.1 4.3-48.2 4.2 15.1 4.3 7.9 4.2-32.1 4.3 23.8 4.2 3 4.3 1.4 4.2-18.3 4.3 9.8 4.2 2.9 4.3 10.4 4.2-9 4.3-6.7 4.2 2.3 4.3 14.2 4.2-8.8 4.3-7.1 4.2-9.6 4.3 15.1 4.2 7.9 4.3-16.3 4.2 6.5 4.3 4.7 4.2-10.6 4.3 4.1 4.2 5.2 4.3 0.7 4.2-6.3 4.3-1 4.2 9.1 4.3-14.2 4.2 10.8 4.3-13 4.2 5.9 4.3 2.4 4.2-2.7 4.3 4.4 4.2-2.5 4.3-7.8 4.2 10.4 4.3-6.9 4.2 7.5 4.3-3.9 4.2-4.7 4.3 9.7 4.2-7 4.3 11.2 4.2-3.5 4.3-4.6 4.2-5.6 4.3 0.3 4.2 7.5 4.3-3.5 4.2-1.8 4.3 10.5 4.2-12.3 4.3-5.6 4.2 1.6 4.3 10 4.2-1.5 4.3 3.7 4.2-3.5 4.3-0.7 4.2-6.8 4.3 4 4.2 6.1 4.3-12 4.2-0.3 4.3 11.7 4.2-3.4 4.3-1.2 4.2 16.5 4.3-18.9 4.2-5.2 4.3-16.5 4.2 20.4 4.3 6.7 4.2-1.9 4.3-16.1 4.2-1.3" fill="none" stroke="#0000ff" stroke-width="2.6" stroke-linejoin="round" stroke-linecap="square"/><path d="M595.4 1293.5v39.9m4.2-22v47.7m4.3-59.3v50.6m4.2-4.2v24.1m4.3-74.3v28m4.2-13v28.2m4.3-18.7v25m4.2-55.5v21.8m4.3 2.1v21.5m4.2-17.3v19.3m4.3-17.4v18.1m4.2-37v19.3m4.3-8v16.3m4.2-11.9v13.3m4.3-4.2v16m4.2-20.9v7.9m4.3-17.1v12.8m4.2-8.9v9.7m4.3 1.3v16m4.2-22.6v11.7m4.3-18.9v11.8m4.2-20.8v10.7m4.3 5v9.5m4.2-2.1v10.4m4.3-27v11m4.2-4.1v10.2m4.3-4.6v8.4m4.2-23v16.3m4.3-7.8v7.7m4.2-3.3v9.1m4.3-8.3v9m4.2-15.4v9.2m4.3-10.5v9.8m4.2-0.8v10m4.3-26.4v14.3m4.2-0.8v9m4.3-24.1v13.1m4.2-4.8v8.5m4.3-5.9v8m4.2-12.6v11.7m4.3-5.2v7.6m4.2-11.6v10.6m4.3-17.4v8.7m4.2 1.8v8.5m4.3-14.8v7.2m4.2 0.1v7.7m4.3-12.3v9.1m4.2-14.6v10.5m4.3 0.5v8m4.2-17.4v12.8m4.3-0.1v9.9m4.2-12.9v8.7m4.3-12.3v6.8m4.2-12.9v7.8m4.3-7.7v8.2m4.2-0.6v8m4.3-12.7v10.3m4.2-12.1v10.5m4.3-1.1v12.7m4.2-23.9v10.5m4.3-15.7v9.6m4.2-7v7.6m4.3 2v8.5m4.2-10.5v9.4m4.3-6.8v11.7m4.2-14.2v9.6m4.3-12.3v13.6m4.2-22.2v17.1m4.3-9.6v10.2m4.2-4.3v10.5m4.3-23.7v13m4.2-12.6v11.6m4.3-3.5v18.7m4.2-19.9v14.3m4.3-17.7v18.8m4.2-0.9v16m4.3-41.8v29.8m4.2-32.3v24.4m4.3-38.1v18.8m4.2-1.4v24.9m4.3-18.5v25.3m4.2-29.6v30.3m4.3-49v35.4m4.2-37.6v37.2" stroke="#0000ff" stroke-width="2.4" fill="none" marker-start="url(#c0)" marker-mid="url(#c0)" marker-end="url(#c0)"/><path d="M595.4 1320l27.2 0 27.1-0.1 27.2-0.2 27.2-0.3 27.2-0.3 27.2-0.4 27.1-0.4 27.2-0.6 27.2-0.6 27.2-0.6 27.2-0.8 27.1-0.8 27.2-0.9" fill="none" stroke="#000" stroke-width="3.2" stroke-linecap="square"/><path d="M595.4 1345.7l4.2-2.8 4.3-35.1 4.2-17.6 4.3 67.7 4.2-36 4.3-12.3 4.2 26.5 4.3 1.7 4.2-18.3 4.3 2.8 4.2 4.6 4.3-23.3 4.2 5.5 4.3 5 4.2 6.1 4.3 1.9 4.2-10.3 4.3 9.3 4.2-12.8 4.3 3.9 4.2 11 4.3-8.5 4.2-4.2 4.3 5.2 4.2 9.1 4.3-4.2 4.2 0.1 4.3-2.5 4.2 0.3 4.3 2.3 4.2-6.4 4.3-4.6 4.2 11.1 4.3 5.7 4.2-10.7 4.3 2 4.2-2.2 4.3 5.5 4.2-4.8 4.3 6.6 4.2-11.4 4.3-2.9 4.2 13.3 4.3 7 4.2-9.4 4.3 0.4 4.2-4.1 4.3 0.4 4.2-2.5 4.3-8.7 4.2 14 4.3-1.1 4.2-4.9 4.3 13.3 4.2-14.7 4.3 7.2 4.2 4.6 4.3-3.3 4.2-8.5 4.3-2.2 4.2-4 4.3 6.3 4.2 8.2 4.3-9.6 4.2 3.8 4.3-16.5 4.2 32.5 4.3-31.4 4.2 6.7 4.3 3.5 4.2 4.1 4.3 4.2 4.2 3.6 4.3 5.1 4.2-40.4 4.3 12.2 4.2 4.9 4.3 3.2 4.2 29.5 4.3-21.9 4.2-5.9 4.3-19.5 4.2 42.4" fill="none" stroke="#008000" stroke-width="2.6" stroke-linejoin="round" stroke-linecap="square"/><path d="M595.4 1321.1v49.2m4.2-43.1v31.4m4.3-68.1v34.6m4.2-49.1v28.4m4.3 35.9v35.2m4.2-66.7v26.2m4.3-33.8v16.8m4.2 2.7v30.7m4.3-29.6v32.1m4.2-44.3v19.7m4.3-18.5v23m4.2-15.8v17.8m4.3-40.6v16.8m4.2-11.4v17m4.3-11.7v16.3m4.2-12.1v20.3m4.3-15.7v14.8m4.2-27.2v18.9m4.3-6.2v12.1m4.2-27.4v17.2m4.3-11.7v14m4.2-2.6v13.3m4.3-20.2v10.1m4.2-14.1v9.7m4.3-3.9v8.4m4.2-1.3v12.5m4.3-16.7v12.4m4.2-10.6v9m4.3-12.3v10.6m4.2-9.3v8.7m4.3-9.6v15m4.2-19v10.2m4.3-17.2v15m4.2-0.2v7.5m4.3-2.6v9.1m4.2-19.4v8.4m4.3-8.6v12.9m4.2-12.7v8.1m4.3-4.2v11.2m4.2-14.7v8.6m4.3-4v12.5m4.2-21.6v8.1m4.3-11.3v8.7m4.2 4v9.8m4.3-3.6v11.5m4.2-19.4v8.3m4.3-9.8v12.2m4.2-13.7v6.9m4.3-9.3v12.7m4.2-13.5v9.3m4.3-18.3v9.7m4.2 3.9v10.6m4.3-12.5v12.2m4.2-16.6v11.1m4.3 1.3v13m4.2-25v7.7m4.3-2.3v11.1m4.2-5.5v9.1m4.3-13.8v12m4.2-19.4v9.8m4.3-12.8v11.4m4.2-16.9v14.4m4.3-5.4v9m4.2-2.3v12.1m4.3-21.4v11.4m4.2-8v12.2m4.3-30.1v14.9m4.2 18.4v13.5m4.3-47.4v18.4m4.2-10.8v16.6m4.3-13.8v18m4.2-11.8v13.9m4.3-12v18.4m4.2-16v20.7m4.3-12.9v15.5m4.2-59.4v22.5m4.3-13.1v28.1m4.2-21.1v23.9m4.3-21v24.4m4.2 5.3v23.9m4.3-43v18.3m4.2-29.5v29m4.3-47.7v27.5m4.2 7.9v41.3" stroke="#008000" stroke-width="2.4" fill="none" marker-start="url(#c1)" marker-mid="url(#c1)" marker-end="url(#c1)"/><path d="M595.4 1320l27.2-0.1 27.1-0.1 27.2-0.3 27.2-0.4 27.2-0.5 27.2-0.6 27.1-0.8 27.2-0.8 27.2-1 27.2-1 27.2-1.2 27.1-1.3 27.2-1.4" fill="none" stroke="#000" stroke-width="3.2" stroke-linecap="square"/><path d="M595.4 1368.2l4.2-14.9 4.3-29.1 4.2-11.9 4.3 7.3 4.2-3.8 4.3 7.3 4.2-10.8 4.3 18.8 4.2-17.3 4.3 17.5 4.2-12.9 4.3 10.3 4.2-7.5 4.3-5.5 4.2-3.4 4.3 20.2 4.2-8.3 4.3 1.1 4.2-12.4 4.3 11.4 4.2-7.7 4.3 5.8 4.2 3.9 4.3-7.3 4.2 4.9 4.3-7.5 4.2-0.4 4.3-2.4 4.2 9.4 4.3-10.5 4.2 2.5 4.3 10.6 4.2-17.8 4.3 4.5 4.2 10.7 4.3-5.6 4.2 6.4 4.3-4.7 4.2-1.5 4.3-1.6 4.2 5.2 4.3-2.9 4.2 2.6 4.3-4.4 4.2-1.1 4.3 2.2 4.2-3.6 4.3 0.8 4.2 1.5 4.3-3.2 4.2 9.6 4.3-5.3 4.2 6.5 4.3-6.8 4.2 1.8 4.3-4.9 4.2 4.4 4.3 1.2 4.2-2.7 4.3 0.1 4.2-3.3 4.3 6.2 4.2 3.5 4.3-0.4 4.2-12.9 4.3 11.7 4.2-4 4.3 3.9 4.2-11.9 4.3 8.6 4.2-13.2 4.3 14.4 4.2-7.8 4.3-4.4 4.2-0.6 4.3 20 4.2-9.6 4.3-2.3 4.2 22.2 4.3-32.3 4.2-11.4 4.3 11.3 4.2 32.5" fill="none" stroke="#ff0000" stroke-width="2.6" stroke-linejoin="round" stroke-linecap="square"/><path d="M595.4 1328.8v78.8m4.2-81v53.5m4.3-77.2v42.6m4.2-46v25.7m4.3-20.3v29.5m4.2-37.2v37.3m4.3-23v23.2m4.2-31.5v18.2m4.3-0.9v21.2m4.2-35.6v15.5m4.3 1.4v16.7m4.2-30.7v18.8m4.3-5.4v12.5m4.2-19.7v12m4.3-19.3v15.5m4.2-17.1v12.1m4.3 7.3v13.5m4.2-20.1v10.3m4.3-9.3v10.4m4.2-22.8v10.3m4.3 0.8v11m4.2-17.2v7.9m4.3-4v11.9m4.2-5.4v6.7m4.3-15.2v8.9m4.2-2.9v6.8m4.3-14.7v7.5m4.2-7.6v6.9m4.3-10.1v8.6m4.2 1.7v6.8m4.3-18.1v8.5m4.2-5.2v6.8m4.3 3.7v7.1m4.2-27.1v11.5m4.3-5.6v8.5m4.2 2.9v7.2m4.3-12.9v7.4m4.2-0.7v6.7m4.3-11.8v7.6m4.2-9.5v8.5m4.3-10.1v8.4m4.2-2.5v7m4.3-11.1v9.5m4.2-5.7v7m4.3-10.9v6.1m4.2-7.9v7.4m4.3-5v7m4.2-9.5v4.8m4.3-4.5v5.9m4.2-4.6v6.1m4.3-10.6v8.8m4.2 1.2v8.1m4.3-13v7.2m4.2-0.6v7.1m4.3-14.3v7.9m4.2-6.2v8m4.3-11.9v6.1m4.2-1.5v5.6m4.3-5.6v7.9m4.2-13.8v14.4m4.3-11.9v9.6m4.2-12.5v8.8m4.3-2.6v8.8m4.2-4.9v7.9m4.3-8.5v8.3m4.2-22v10.1m4.3 3v7.2m4.2-11.9v8.6m4.3-5.4v10m4.2-22.3v10.8m4.3-1.9v10.2m4.2-25.9v15.1m4.3-0.5v14.9m4.2-24.3v18.1m4.3-23.5v20m4.2-18.8v16.5m4.3 2.8v17.8m4.2-26.9v16.8m4.3-22.3v23.2m4.2-2.4v26m4.3-55.9v21.3m4.2-38.3v32.4m4.3-24.6v39.4m4.2-2.7v31.1" stroke="#ff0000" stroke-width="2.4" fill="none" marker-start="url(#c2)" marker-mid="url(#c2)" marker-end="url(#c2)"/><path d="M595.4 1320l27.2 0 27.1-0.2 27.2-0.2 27.2-0.3 27.2-0.4 27.2-0.4 27.1-0.6 27.2-0.6 27.2-0.7 27.2-0.8 27.2-0.9 27.1-1 27.2-1" fill="none" stroke="#000" stroke-width="3.2" stroke-linecap="square"/><path d="M595.4 1328.9l4.2 8.4 4.3-8 4.2-4.9 4.3-19 4.2-9.7 4.3 22.6 4.2-14.1 4.3 14.2 4.2 15.4 4.3-14.6 4.2-10.1 4.3-3.1 4.2 19 4.3-18 4.2 17.7 4.3-1.2 4.2 0 4.3-10.9 4.2 5.1 4.3-2.7 4.2 17.4 4.3-12.7 4.2 0.3 4.3-4 4.2 5.9 4.3-6.9 4.2 7.5 4.3 4 4.2-0.9 4.3-12 4.2 1.8 4.3 7.5 4.2-8.4 4.3 5.4 4.2-0.4 4.3 6.2 4.2-4.8 4.3-2.5 4.2-0.4 4.3 3.5 4.2-5.9 4.3-1.7 4.2 8.2 4.3-5.3 4.2 6.1 4.3-6.2 4.2 5.4 4.3-3.2 4.2-1.3 4.3 1.4 4.2-6 4.3 8.5 4.2-1.8 4.3-3.3 4.2 1.5 4.3-1.7 4.2 2.2 4.3 3.3 4.2-7.8 4.3 3.1 4.2-4.1 4.3-3 4.2 9 4.3 2.6 4.2-1.9 4.3 0.9 4.2 8.8 4.3-22.1 4.2 6.7 4.3-13 4.2 19.3 4.3-8 4.2 1.6 4.3 2.5 4.2-8.9 4.3 7.9 4.2 0.8 4.3-2.6 4.2 30.8 4.3-19.6 4.2 1.3 4.3-35.7 4.2 54.7" fill="none" stroke="#bfbf00" stroke-width="2.6" stroke-linejoin="round" stroke-linecap="square"/><path d="M595.4 1301.4v55m4.2-42v45.7m4.3-46.9v32.2m4.2-41v40m4.3-54.4v30.8m4.2-34.9v19.6m4.3 0.3v25m4.2-38.3v23.4m4.3-8v20.9m4.2-4.5v19m4.3-32.9v17.6m4.2-28.6v19.4m4.3-22.9v20.1m4.2 1.7v14.6m4.3-31.1v11.7m4.2 3v17.6m4.3-14.1v8.3m4.2-12.4v16.3m4.3-23.7v9.5m4.2-4.3v9.1m4.3-11.2v7.9m4.2 7v12.9m4.3-24.1v10.1m4.2-9v8.5m4.3-12.6v8.5m4.2-3.3v10m4.3-15.4v7m4.2 0.2v7.6m4.3-4.1v8.6m4.2-9.1v7.7m4.3-20v8.3m4.2-8.5v12.4m4.3-3v8.6m4.2-17v8.7m4.3-5.3v12.6m4.2-10.7v8m4.3-2.9v10.2m4.2-13.5v7.1m4.3-9.5v7.1m4.2-8.4v8.9m4.3-5.1v8.2m4.2-12.7v5.4m4.3-6.8v4.8m4.2 1.7v8.3m4.3-14v9m4.2-1.1v5.3m4.3-12.9v8.3m4.2-2.2v6.8m4.3-11.9v10.6m4.2-9.7v6.2m4.3-5.1v6.9m4.2-15.2v11.4m4.3-1.6v8.8m4.2-10.2v7.9m4.3-11.2v8.1m4.2-6.5v7.7m4.3-10.5v10.1m4.2-6.3v6.9m4.3-5.5v10.6m4.2-18.3v10.5m4.3-6.6v8.7m4.2-12.9v8.9m4.3-14.1v13.3m4.2-2.2v9.2m4.3-8.1v12.3m4.2-14.2v12.2m4.3-10v9.6m4.2-1.1v10.2m4.3-33.1v11.8m4.2-5.4v12.5m4.3-26.2v13.9m4.2 6.8v11.1m4.3-19.6v12m4.2-12.1v15.3m4.3-13v15.9m4.2-26.3v18.9m4.3-12.9v22.7m4.2-20.7v20.2m4.3-25.2v25.1m4.2 9.3v17.8m4.3-43.6v30.1m4.2-27.6v27.8m4.3-64.5v29.9m4.2 15.4v48.6" stroke="#bfbf00" stroke-width="2.4" fill="none" marker-start="url(#c3)" marker-mid="url(#c3)" marker-end="url(#c3)"/><path d="M595.4 1320l27.2 0 27.1-0.1 27.2-0.2 27.2-0.2 27.2-0.2 27.2-0.3 27.1-0.4 27.2-0.4 27.2-0.5 27.2-0.5 27.2-0.6 27.1-0.7 27.2-0.7" fill="none" stroke="#000" stroke-width="3.2" stroke-linecap="square"/><path d="M595.4 1326.9l4.2-36.3 4.3 40.9 4.2 11.6 4.3-28.6 4.2-12.1 4.3-2.5 4.2 34.9 4.3-12.4 4.2 2 4.3-20.4 4.2 10.7 4.3 4.9 4.2-5.6 4.3 8.7 4.2-1.4 4.3-1.4 4.2 3.2 4.3-2.3 4.2-3.3 4.3 0.3 4.2-6 4.3 3.1 4.2 4.6 4.3 10.3 4.2-4.7 4.3-3.6 4.2-0.4 4.3 4.1 4.2-4.7 4.3-2.3 4.2 3.4 4.3-2.6 4.2-0.2 4.3 3.5 4.2-0.9 4.3-2.8 4.2-1.6 4.3 6.1 4.2 3.2 4.3-5.1 4.2-5.6 4.3 9.7 4.2-12.4 4.3 7 4.2-3.5 4.3 4.2 4.2-6.8 4.3 2.5 4.2-1.3 4.3 8.1 4.2-9.7 4.3 10.3 4.2-6.7 4.3-3.5 4.2 2.9 4.3-3.2 4.2 1.2 4.3 0.1 4.2 4.5 4.3-9.9 4.2-1.1 4.3 9.6 4.2 1.2 4.3-6.1 4.2 4.4 4.3-4.4 4.2-4.1 4.3-0.3 4.2-6 4.3 6.6 4.2 12.1 4.3-1.3 4.2-12.2 4.3-12.2 4.2 19.4 4.3 5.5 4.2-22.1 4.3 14.4 4.2-10.2 4.3-3.5 4.2 22.4 4.3-5.4 4.2-37.5" fill="none" stroke="#00bfbf" stroke-width="2.6" stroke-linejoin="round" stroke-linecap="square"/><path d="M595.4 1303.3v47.2m4.2-83.3v46.8m4.3 1.4v32.2m4.2-23.1v37.1m4.3-57.7v21.1m4.2-40v34.8m4.3-32v24.1m4.2 9.1v27.7m4.3-33.8v15m4.2-15.3v19.6m4.3-38.7v17m4.2-6.4v17.1m4.3-10.1v13.1m4.2-19.5v14.6m4.3-6.3v15.3m4.2-17.1v16.3m4.3-16.3v13.3m4.2-10.6v14.4m4.3-13.8v8.7m4.2-13.7v12.1m4.3-11.6v11.6m4.2-17.1v10.7m4.3-7.3v10m4.2-5v9.2m4.3 1.2v9.1m4.2-12.4v6.2m4.3-10.7v8.1m4.2-9.6v10.2m4.3-6.6v11.1m4.2-14.4v8.4m4.3-10.7v8.3m4.2-6.1v10.8m4.3-11.4v6.9m4.2-7.9v8.3m4.3-6.2v11.1m4.2-9.6v6.5m4.3-10.1v8m4.2-9.7v8.1m4.3-3.4v10.9m4.2-6v7.6m4.3-14.2v10.6m4.2-14.6v7.4m4.3 1.5v8.9m4.2-20.7v7.9m4.3-0.9v7.8m4.2-11.9v9.1m4.3-3.5v6.1m4.2-14.5v9.4m4.3-5.9v7.4m4.2-8.3v6.7m4.3 1.4v6.6m4.2-16v5.9m4.3 3.6v7.6m4.2-14.8v8.7m4.3-11.4v7.1m4.2-5.1v8.8m4.3-11.5v7.7m4.2-7v8.8m4.3-10.4v12.1m4.2-7.1v11.2m4.3-21.1v11.2m4.2-12.5v11.7m4.3-1.3v9.9m4.2-9.8v12.2m4.3-16.9v9.5m4.2-4.3v7.8m4.3-13.5v10.3m4.2-14v9.6m4.3-12.2v14.3m4.2-20.6v14.9m4.3-10.2v18.6m4.2-4.9v15.4m4.3-16.6v15.2m4.2-27.6v15.6m4.3-27v14m4.2 4.9v14.9m4.3-14.1v24.5m4.2-42.4v16m4.3-4.2v21.1m4.2-33.5v25.5m4.3-26.8v21.3m4.2-0.2v23.8m4.3-30.7v26.9m4.2-76.4v50.8" stroke="#00bfbf" stroke-width="2.4" fill="none" marker-start="url(#c4)" marker-mid="url(#c4)" marker-end="url(#c4)"/><path d="M595.4 1320l27.2-0.1 27.1-0.2 27.2-0.3 27.2-0.4 27.2-0.6 27.2-0.7 27.1-0.8 27.2-1 27.2-1 27.2-1.2 27.2-1.4 27.1-1.4 27.2-1.6" fill="none" stroke="#000" stroke-width="3.2" stroke-linecap="square"/><path d="M595.4 1306.5l4.2 51.8 4.3-18.7 4.2-28.2 4.3 0.4 4.2-21.1 4.3 33.1 4.2 8.6 4.3-14.7 4.2 8.1 4.3 1.3 4.2-19.3 4.3-3.8 4.2 13.2 4.3 8.4 4.2-7.6 4.3 2.5 4.2 9.1 4.3-15.9 4.2 3.9 4.3-6.6 4.2 12.8 4.3-3.7 4.2 0.5 4.3 9.3 4.2-24.9 4.3 29.5 4.2-6.3 4.3-6.6 4.2 6.8 4.3-11 4.2 4.8 4.3-2.9 4.2-1.3 4.3 1.1 4.2-0.1 4.3 1.3 4.2-3.2 4.3-1.6 4.2 5.2 4.3 1.3 4.2-0.1 4.3-4.5 4.2 4.1 4.3-0.5 4.2 3.7 4.3-18 4.2 19.2 4.3-16.1 4.2 3.8 4.3 0.1 4.2 3.7 4.3-1.3 4.2 0.6 4.3-1.9 4.2-0.3 4.3-6.8 4.2 16.6 4.3-9 4.2-6 4.3-1.8 4.2 17.4 4.3-9.2 4.2 0.7 4.3-0.3 4.2 16.9 4.3-21.2 4.2 16.6 4.3-26 4.2 10.7 4.3 5.1 4.2-6.2 4.3 3.9 4.2 5.5 4.3-3.5 4.2-4.2 4.3 10.6 4.2-15.5 4.3-5.7 4.2-0.8 4.3-4.3 4.2-5.6 4.3 9.4 4.2-14.7" fill="none" stroke="#bf00bf" stroke-width="2.6" stroke-linejoin="round" stroke-linecap="square"/><path d="M595.4 1282.8v47.4m4.2-3.2v62.6m4.3-73.5v47m4.2-69.8v36.1m4.3-31.8v28.4m4.2-45.8v21.1m4.3 3.8v37.4m4.2-23.8v27.3m4.3-39.6v22.6m4.2-16.2v26m4.3-19.3v15.2m4.2-35v16.1m4.3-18.8v14.1m4.2-3.4v19.1m4.3-10.3v18.2m4.2-25.5v17.6m4.3-11.9v11.2m4.2-2.6v12.1m4.3-28.6v13.4m4.2-9.4v13.2m4.3-17.7v9.1m4.2 1.5v13.3m4.3-17.7v14.8m4.2-12.1v10.4m4.3-1.5v11.1m4.2-37v13.3m4.3 17v11.6m4.2-19.5v14.8m4.3-18.4v8.8m4.2-2.5v9.9m4.3-21.7v11.3m4.2-6v10.5m4.3-13v9.5m4.2-11.9v11.8m4.3-11.7v13.9m4.2-11.5v8.8m4.3-8.8v11.3m4.2-13.6v9.7m4.3-10.3v7.7m4.2-3.6v9.8m4.3-8.5v9.7m4.2-10.7v11.6m4.3-15.9v11.2m4.2-8.2v13.5m4.3-12.5v10.4m4.2-5.3v7.7m4.3-27.7v11.7m4.2 9v8.6m4.3-25.5v10.1m4.2-7.3v12.2m4.3-10.7v9.4m4.2-5.4v8.9m4.3-10.3v9.1m4.2-11.3v14.6m4.3-14.2v10m4.2-9.8v9m4.3-19.3v16.1m4.2 3.4v10.1m4.3-19.2v10.3m4.2-16.3v10.3m4.3-13.8v13.9m4.2 3.9v13m4.3-24.3v17.3m4.2-13.5v10.9m4.3-13.2v15m4.2 3.4v12.1m4.3-33.4v12.2m4.2 3.9v13.2m4.3-38.6v12m4.2-3.1v15.5m4.3-9.3v13.4m4.2-20.7v15.6m4.3-11.5v15.3m4.2-9.1v13.8m4.3-17.5v14.2m4.2-19.8v17m4.3-4.6v13.3m4.2-32.9v21.5m4.3-31.4v30m4.2-25.4v19.2m4.3-33v38.3m4.2-42v34.4m4.3-29.8v44.1m4.2-54.9v36.2" stroke="#bf00bf" stroke-width="2.4" fill="none" marker-start="url(#c5)" marker-mid="url(#c5)" marker-end="url(#c5)"/><path d="M595.4 1320l27.2 0 27.1-0.1 27.2-0.1 27.2-0.1 27.2-0.2 27.2-0.3 27.1-0.2 27.2-0.4 27.2-0.3 27.2-0.4 27.2-0.5 27.1-0.4 27.2-0.6" fill="none" stroke="#000" stroke-width="3.2" stroke-linecap="square"/><path d="M595.4 1285l4.2 36 4.3-0.1 4.2 24.4 4.3-18.4 4.2-22.5 4.3 8.2 4.2 6.8 4.3 2.7 4.2-2.7 4.3-4.7 4.2 9.4 4.3 14.2 4.2-37 4.3 8.9 4.2 11.5 4.3-12.5 4.2 24.1 4.3-23.4 4.2 9 4.3-5.3 4.2 9.1 4.3-3.8 4.2-2.8 4.3-2.6 4.2 3.4 4.3 0 4.2 7.2 4.3-12.9 4.2 7.8 4.3 3.2 4.2 0.5 4.3 5.7 4.2-2.3 4.3 1.7 4.2-8.5 4.3 2.1 4.2-1.9 4.3 9.3 4.2-3.9 4.3 0 4.2-10.8 4.3 14 4.2 2.8 4.3-18.4 4.2 7 4.3 9.7 4.2-16.3 4.3-2 4.2 2.4 4.3 20.6 4.2-12.9 4.3 5.6 4.2-2.5 4.3 7.6 4.2-23 4.3 18 4.2-6.3 4.3-4.8 4.2 3 4.3 0.5 4.2 6.2 4.3-4.1 4.2 3 4.3 16.8 4.2-25.8 4.3 12.6 4.2-1.1 4.3 0.5 4.2 9.8 4.3-2.2 4.2 7.3 4.3-21.6 4.2-8.1 4.3 10.6 4.2 14.1 4.3-27.7 4.2 18.9 4.3 16 4.2 5.8 4.3-28.2 4.2-23.5 4.3 33.4 4.2 6.8" fill="none" stroke="#ffa500" stroke-width="2.6" stroke-linejoin="round" stroke-linecap="square"/><path d="M595.4 1256.4v57.2m4.2-11.7v38.3m4.3-40.6v42.6m4.2-12.5v31.1m4.3-44.7v21.6m4.2-49.9v33.2m4.3-19.1v21.3m4.2-16.2v24.8m4.3-20.8v22.1m4.2-22.4v17.4m4.3-25v23.3m4.2-13v21.4m4.3-6.6v20.3m4.2-54.9v15.4m4.3-8.4v19.1m4.2-8.7v21.4m4.3-29.9v13.4m4.2 5.8v23.2m4.3-40.1v10.2m4.2-2.8v13.4m4.3-18.9v13.9m4.2-4.2v12.6m4.3-19.8v19.5m4.2-18.8v12.4m4.3-14.7v11.7m4.2-10v15.1m4.3-14.7v14.4m4.2-4.7v9.3m4.3-22.9v10.8m4.2-4.5v13.8m4.3-9.5v11.7m4.2-11.5v12.1m4.3-5.5v10.3m4.2-13.1v11.5m4.3-8.1v8m4.2-19v13.1m4.3-10.2v11.4m4.2-12.8v10.3m4.3-3.1v14.7m4.2-20.4v18.2m4.3-14.6v10.9m4.2-23v13.5m4.3 4.4v5.8m4.2-6.7v13.2m4.3-30.4v10.8m4.2-3.5v10.2m4.3 0.9v7.5m4.2-26.9v13.5m4.3-14.7v12m4.2-10.1v12.9m4.3 7.5v13.5m4.2-26.8v14.2m4.3-5.5v8m4.2-13.1v13.2m4.3-4.7v11.5m4.2-35.6v13.6m4.3 4.5v13.3m4.2-18.2v10.7m4.3-15.8v11.3m4.2-7.7v9.9m4.3-11.6v14.5m4.2-7.9v13.5m4.3-17.4v13.3m4.2-11v14.7m4.3 1.3v16.3m4.2-40.7v13.5m4.3-1.9v15.4m4.2-14.9v12.2m4.3-13.8v16.4m4.2-6.7v16.7m4.3-20.4v19.6m4.2-14.2v23.4m4.3-40.6v14.6m4.2-22.3v13.7m4.3-7.9v23.4m4.2-6.4v17.6m4.3-46.2v19.3m4.2-3.7v26.1m4.3-6.5v18.7m4.2-13.8v20.7m4.3-49.9v22.6m4.2-56v42.4m4.3-7.4v39.2m4.2-30v34.3" stroke="#ffa500" stroke-width="2.4" fill="none" marker-start="url(#c6)" marker-mid="url(#c6)" marker-end="url(#c6)"/><path d="M595.4 1320l27.2 0 27.1 0.1 27.2 0.2 27.2 0.2 27.2 0.2 27.2 0.3 27.1 0.4 27.2 0.4 27.2 0.5 27.2 0.5 27.2 0.6 27.1 0.7 27.2 0.7" fill="none" stroke="#000" stroke-width="3.2" stroke-linecap="square"/></g>
<path d="M185.5 240.5v6.1M185.5 480.5v-6.1M270.5 240.5v6.1M270.5 480.5v-6.1M355.5 240.5v6.1M355.5 480.5v-6.1M440.5 240.5v6.1M440.5 480.5v-6.1M100.5 300.5h6.1M525.5 300.5h-6.1M100.5 360.5h6.1M525.5 360.5h-6.1M100.5 420.5h6.1M525.5 420.5h-6.1" stroke="#000" stroke-width="0.7" fill="none"/><rect x="100.5" y="240.5" width="425" height="240" fill="none" stroke="#000" stroke-width="1.25"/><path d="M610.5 240.5v6.1M610.5 480.5v-6.1M695.5 240.5v6.1M695.5 480.5v-6.1M780.5 240.5v6.1M780.5 480.5v-6.1M865.5 240.5v6.1M865.5 480.5v-6.1M525.5 300.5h6.1M950.5 300.5h-6.1M525.5 360.5h6.1M950.5 360.5h-6.1M525.5 420.5h6.1M950.5 420.5h-6.1" stroke="#000" stroke-width="0.7" fill="none"/><rect x="525.5" y="240.5" width="425" height="240" fill="none" stroke="#000" stroke-width="1.25"/><path d="M185.5 480.5v6.1M185.5 720.5v-6.1M270.5 480.5v6.1M270.5 720.5v-6.1M355.5 480.5v6.1M355.5 720.5v-6.1M440.5 480.5v6.1M440.5 720.5v-6.1M100.5 540.5h6.1M525.5 540.5h-6.1M100.5 600.5h6.1M525.5 600.5h-6.1M100.5 660.5h6.1M525.5 660.5h-6.1" stroke="#000" stroke-width="0.7" fill="none"/><rect x="100.5" y="480.5" width="425" height="240" fill="none" stroke="#000" stroke-width="1.25"/><path d="M610.5 480.5v6.1M610.5 720.5v-6.1M695.5 480.5v6.1M695.5 720.5v-6.1M780.5 480.5v6.1M780.5 720.5v-6.1M865.5 480.5v6.1M865.5 720.5v-6.1M525.5 540.5h6.1M950.5 540.5h-6.1M525.5 600.5h6.1M950.5 600.5h-6.1M525.5 660.5h6.1M950.5 660.5h-6.1" stroke="#000" stroke-width="0.7" fill="none"/><rect x="525.5" y="480.5" width="425" height="240" fill="none" stroke="#000" stroke-width="1.25"/><path d="M185.5 720.5v6.1M185.5 960.5v-6.1M270.5 720.5v6.1M270.5 960.5v-6.1M355.5 720.5v6.1M355.5 960.5v-6.1M440.5 720.5v6.1M440.5 960.5v-6.1M100.5 780.5h6.1M525.5 780.5h-6.1M100.5 840.5h6.1M525.5 840.5h-6.1M100.5 900.5h6.1M525.5 900.5h-6.1" stroke="#000" stroke-width="0.7" fill="none"/><rect x="100.5" y="720.5" width="425" height="240" fill="none" stroke="#000" stroke-width="1.25"/><path d="M610.5 720.5v6.1M610.5 960.5v-6.1M695.5 720.5v6.1M695.5 960.5v-6.1M780.5 720.5v6.1M780.5 960.5v-6.1M865.5 720.5v6.1M865.5 960.5v-6.1M525.5 780.5h6.1M950.5 780.5h-6.1M525.5 840.5h6.1M950.5 840.5h-6.1M525.5 900.5h6.1M950.5 900.5h-6.1" stroke="#000" stroke-width="0.7" fill="none"/><rect x="525.5" y="720.5" width="425" height="240" fill="none" stroke="#000" stroke-width="1.25"/><path d="M185.5 960.5v6.1M185.5 1200.5v-6.1M270.5 960.5v6.1M270.5 1200.5v-6.1M355.5 960.5v6.1M355.5 1200.5v-6.1M440.5 960.5v6.1M440.5 1200.5v-6.1M100.5 1020.5h6.1M525.5 1020.5h-6.1M100.5 1080.5h6.1M525.5 1080.5h-6.1M100.5 1140.5h6.1M525.5 1140.5h-6.1" stroke="#000" stroke-width="0.7" fill="none"/><rect x="100.5" y="960.5" width="425" height="240" fill="none" stroke="#000" stroke-width="1.25"/><path d="M610.5 960.5v6.1M610.5 1200.5v-6.1M695.5 960.5v6.1M695.5 1200.5v-6.1M780.5 960.5v6.1M780.5 1200.5v-6.1M865.5 960.5v6.1M865.5 1200.5v-6.1M525.5 1020.5h6.1M950.5 1020.5h-6.1M525.5 1080.5h6.1M950.5 1080.5h-6.1M525.5 1140.5h6.1M950.5 1140.5h-6.1" stroke="#000" stroke-width="0.7" fill="none"/><rect x="525.5" y="960.5" width="425" height="240" fill="none" stroke="#000" stroke-width="1.25"/><path d="M185.5 1200.5v6.1M185.5 1440.5v-6.1M270.5 1200.5v6.1M270.5 1440.5v-6.1M355.5 1200.5v6.1M355.5 1440.5v-6.1M440.5 1200.5v6.1M440.5 1440.5v-6.1M100.5 1260.5h6.1M525.5 1260.5h-6.1M100.5 1320.5h6.1M525.5 1320.5h-6.1M100.5 1380.5h6.1M525.5 1380.5h-6.1" stroke="#000" stroke-width="0.7" fill="none"/><rect x="100.5" y="1200.5" width="425" height="240" fill="none" stroke="#000" stroke-width="1.25"/><path d="M610.5 1200.5v6.1M610.5 1440.5v-6.1M695.5 1200.5v6.1M695.5 1440.5v-6.1M780.5 1200.5v6.1M780.5 1440.5v-6.1M865.5 1200.5v6.1M865.5 1440.5v-6.1M525.5 1260.5h6.1M950.5 1260.5h-6.1M525.5 1320.5h6.1M950.5 1320.5h-6.1M525.5 1380.5h6.1M950.5 1380.5h-6.1" stroke="#000" stroke-width="0.7" fill="none"/><rect x="525.5" y="1200.5" width="425" height="240" fill="none" stroke="#000" stroke-width="1.25"/>
<g font-family="DejaVu Sans, Liberation Sans, sans-serif" fill="#000"><text x="501" y="54" font-size="27.78" text-anchor="middle">Closure phases for triangle:</text><text x="499.3" y="87" font-size="27.78" text-anchor="middle">FD - LA - LMT</text><text x="269.5" y="208" font-size="27.78">Disk model</text><text x="651.4" y="208" font-size="27.78">Jet model</text><text x="401" y="1537" font-size="27.78">Time (hours)</text><text transform="translate(41.2 956.3) rotate(-90)" font-size="27.78">Closure phase (degrees)</text><text x="95.4" y="250.2" font-size="27.78" text-anchor="end">10</text><text x="95.4" y="310.2" font-size="27.78" text-anchor="end">5</text><text x="95.4" y="370.2" font-size="27.78" text-anchor="end">0</text><text x="95.4" y="430.2" font-size="27.78" text-anchor="end">−<tspan dx="-1.4">5</tspan></text><text x="95.4" y="490.2" font-size="27.78" text-anchor="end">−<tspan dx="-1.4">10</tspan></text><text x="95.4" y="550.2" font-size="27.78" text-anchor="end">5</text><text x="95.4" y="610.2" font-size="27.78" text-anchor="end">0</text><text x="95.4" y="670.2" font-size="27.78" text-anchor="end">−<tspan dx="-1.4">5</tspan></text><text x="95.4" y="730.2" font-size="27.78" text-anchor="end">−<tspan dx="-1.4">10</tspan></text><text x="95.4" y="790.2" font-size="27.78" text-anchor="end">5</text><text x="95.4" y="850.2" font-size="27.78" text-anchor="end">0</text><text x="95.4" y="910.2" font-size="27.78" text-anchor="end">−<tspan dx="-1.4">5</tspan></text><text x="95.4" y="970.2" font-size="27.78" text-anchor="end">−<tspan dx="-1.4">10</tspan></text><text x="95.4" y="1030.2" font-size="27.78" text-anchor="end">5</text><text x="95.4" y="1090.2" font-size="27.78" text-anchor="end">0</text><text x="95.4" y="1150.2" font-size="27.78" text-anchor="end">−<tspan dx="-1.4">5</tspan></text><text x="95.4" y="1210.2" font-size="27.78" text-anchor="end">−<tspan dx="-1.4">10</tspan></text><text x="95.4" y="1270.2" font-size="27.78" text-anchor="end">5</text><text x="95.4" y="1330.2" font-size="27.78" text-anchor="end">0</text><text x="95.4" y="1390.2" font-size="27.78" text-anchor="end">−<tspan dx="-1.4">5</tspan></text><text x="95.4" y="1450.2" font-size="27.78" text-anchor="end">−<tspan dx="-1.4">10</tspan></text><text x="100.5" y="1465.5" font-size="27.78" text-anchor="middle">0</text><text x="185.5" y="1465.5" font-size="27.78" text-anchor="middle">2</text><text x="270.5" y="1465.5" font-size="27.78" text-anchor="middle">4</text><text x="355.5" y="1465.5" font-size="27.78" text-anchor="middle">6</text><text x="440.5" y="1465.5" font-size="27.78" text-anchor="middle">8</text><text x="523.8" y="1465.5" font-size="27.78" text-anchor="middle">10</text><text x="525.5" y="1465.5" font-size="27.78" text-anchor="middle">0</text><text x="610.5" y="1465.5" font-size="27.78" text-anchor="middle">2</text><text x="695.5" y="1465.5" font-size="27.78" text-anchor="middle">4</text><text x="780.5" y="1465.5" font-size="27.78" text-anchor="middle">6</text><text x="865.5" y="1465.5" font-size="27.78" text-anchor="middle">8</text><text x="948.8" y="1465.5" font-size="27.78" text-anchor="middle">10</text><text x="112.6" y="468" font-size="22.22" stroke="#000" stroke-width="0.7">i = 30</text><text x="537.6" y="468" font-size="22.22" stroke="#000" stroke-width="0.7">i = 30</text><text x="112.6" y="708" font-size="22.22" stroke="#000" stroke-width="0.7">i = 60</text><text x="537.6" y="708" font-size="22.22" stroke="#000" stroke-width="0.7">i = 60</text><text x="112.6" y="948" font-size="22.22" stroke="#000" stroke-width="0.7">i = 90</text><text x="537.6" y="948" font-size="22.22" stroke="#000" stroke-width="0.7">i = 90</text><text x="112.6" y="1188" font-size="22.22" stroke="#000" stroke-width="0.7">i = 120</text><text x="537.6" y="1188" font-size="22.22" stroke="#000" stroke-width="0.7">i = 120</text><text x="112.6" y="1428" font-size="22.22" stroke="#000" stroke-width="0.7">i = 150</text><text x="537.6" y="1428" font-size="22.22" stroke="#000" stroke-width="0.7">i = 150</text></g>
<rect x="110.5" y="106.5" width="830" height="60" fill="#fff" stroke="#000" stroke-width="1"/><path d="M123 122.5h31" stroke="#0000ff" stroke-width="2.6"/><text x="174" y="129.0" font-size="19.8" font-family="DejaVu Sans, Liberation Sans, sans-serif">PA = 0</text><path d="M123 151.4h31" stroke="#008000" stroke-width="2.6"/><text x="174" y="157.9" font-size="19.8" font-family="DejaVu Sans, Liberation Sans, sans-serif">PA = 30</text><path d="M341 122.5h31" stroke="#ff0000" stroke-width="2.6"/><text x="392" y="129.0" font-size="19.8" font-family="DejaVu Sans, Liberation Sans, sans-serif">PA = 60</text><path d="M341 151.4h31" stroke="#bfbf00" stroke-width="2.6"/><text x="392" y="157.9" font-size="19.8" font-family="DejaVu Sans, Liberation Sans, sans-serif">PA = 90</text><path d="M559 122.5h31" stroke="#00bfbf" stroke-width="2.6"/><text x="610" y="129.0" font-size="19.8" font-family="DejaVu Sans, Liberation Sans, sans-serif">PA = 120</text><path d="M559 151.4h31" stroke="#bf00bf" stroke-width="2.6"/><text x="610" y="157.9" font-size="19.8" font-family="DejaVu Sans, Liberation Sans, sans-serif">PA = 150</text><path d="M790 122.5h31" stroke="#ffa500" stroke-width="2.6"/><text x="841" y="129.0" font-size="19.8" font-family="DejaVu Sans, Liberation Sans, sans-serif">PA = 180</text>
</svg></body></html>
